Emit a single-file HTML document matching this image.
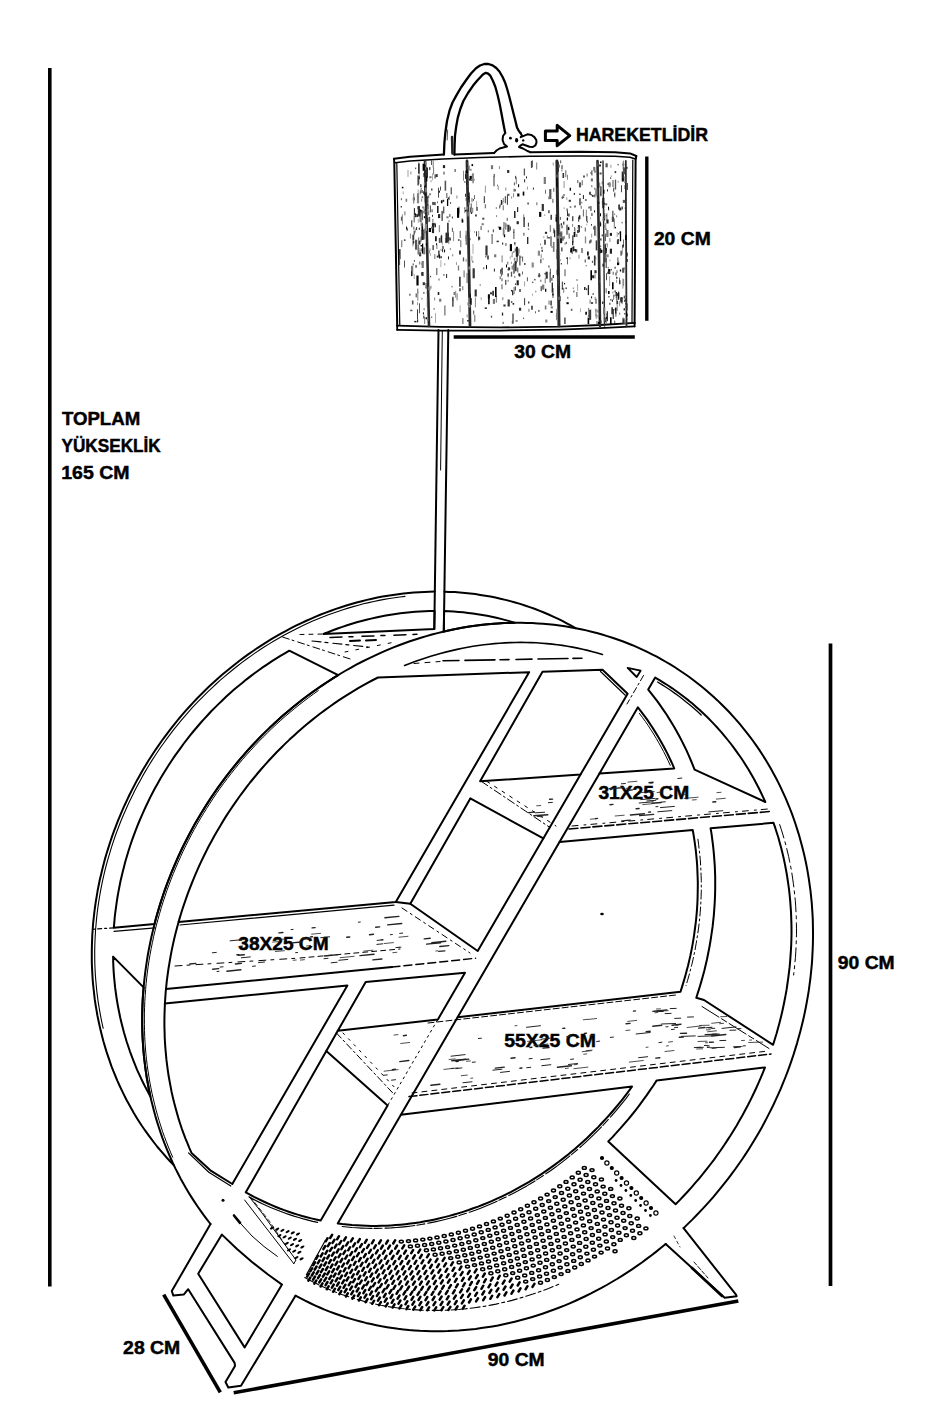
<!DOCTYPE html><html><head><meta charset="utf-8"><style>html,body{margin:0;padding:0;background:#fff}svg{display:block}</style></head><body><svg width="934" height="1403" viewBox="0 0 934 1403" font-family="Liberation Sans, sans-serif" font-weight="bold" fill="#000">
<path d="M49.8 68 L49.8 1286.5" fill="none" stroke="#000" stroke-width="3.6" stroke-linejoin="round" stroke-linecap="butt"/>
<path d="M830.5 643.5 L830.5 1286" fill="none" stroke="#000" stroke-width="3.7" stroke-linejoin="round" stroke-linecap="butt"/>
<path d="M646.8 156.5 L646.8 320.8" fill="none" stroke="#000" stroke-width="3.4" stroke-linejoin="round" stroke-linecap="butt"/>
<path d="M453.7 337 L634.8 337" fill="none" stroke="#000" stroke-width="3.4" stroke-linejoin="round" stroke-linecap="butt"/>
<path d="M163.7 1294.6 L220.3 1392.3" fill="none" stroke="#000" stroke-width="3.6" stroke-linejoin="round" stroke-linecap="butt"/>
<path d="M233.7 1392.8 L738.3 1301" fill="none" stroke="#000" stroke-width="3.6" stroke-linejoin="round" stroke-linecap="butt"/>
<text stroke="#000" stroke-width="0.45" x="61.9" y="425" textLength="78.3" lengthAdjust="spacingAndGlyphs" font-size="18">TOPLAM</text>
<text stroke="#000" stroke-width="0.45" x="61.5" y="452" textLength="99.2" lengthAdjust="spacingAndGlyphs" font-size="18">YÜKSEKLİK</text>
<text stroke="#000" stroke-width="0.45" x="61.2" y="479" textLength="68.3" lengthAdjust="spacingAndGlyphs" font-size="18">165 CM</text>
<text stroke="#000" stroke-width="0.45" x="575.9" y="141" textLength="132.1" lengthAdjust="spacingAndGlyphs" font-size="18">HAREKETLİDİR</text>
<text stroke="#000" stroke-width="0.45" x="653.9" y="245" textLength="56.8" lengthAdjust="spacingAndGlyphs" font-size="18">20 CM</text>
<text stroke="#000" stroke-width="0.45" x="514.2" y="358" textLength="56.8" lengthAdjust="spacingAndGlyphs" font-size="18">30 CM</text>
<text stroke="#000" stroke-width="0.45" x="598.4" y="799" textLength="90.8" lengthAdjust="spacingAndGlyphs" font-size="18">31X25 CM</text>
<text stroke="#000" stroke-width="0.45" x="238.3" y="950" textLength="90.3" lengthAdjust="spacingAndGlyphs" font-size="18">38X25 CM</text>
<text stroke="#000" stroke-width="0.45" x="504.2" y="1047" textLength="91.7" lengthAdjust="spacingAndGlyphs" font-size="18">55X25 CM</text>
<text stroke="#000" stroke-width="0.45" x="837.8" y="969" textLength="56.9" lengthAdjust="spacingAndGlyphs" font-size="18">90 CM</text>
<text stroke="#000" stroke-width="0.45" x="123.1" y="1354" textLength="57.2" lengthAdjust="spacingAndGlyphs" font-size="18">28 CM</text>
<text stroke="#000" stroke-width="0.45" x="487.8" y="1366" textLength="56.9" lengthAdjust="spacingAndGlyphs" font-size="18">90 CM</text>
<path d="M683.6 1228.1 L687.9 1223.9 L692.3 1219.6 L696.5 1215.3 L700.7 1210.9 L704.9 1206.4 L709 1201.9 L713 1197.3 L716.9 1192.6 L720.8 1187.9 L724.6 1183.2 L728.4 1178.3 L732.1 1173.4 L735.7 1168.5 L739.2 1163.5 L742.7 1158.5 L746.1 1153.4 L749.4 1148.2 L752.6 1143 L755.8 1137.8 L758.9 1132.5 L761.9 1127.2 L764.8 1121.8 L767.6 1116.4 L770.4 1110.9 L773.1 1105.5 L775.7 1099.9 L778.2 1094.4 L780.7 1088.8 L783 1083.2 L785.3 1077.5 L787.5 1071.9 L789.6 1066.2 L791.6 1060.4 L793.5 1054.7 L795.3 1048.9 L797.1 1043.1 L798.7 1037.3 L800.3 1031.5 L801.8 1025.6 L803.2 1019.8 L804.5 1013.9 L805.7 1008 L806.8 1002.1 L807.8 996.3 L808.8 990.4 L809.6 984.4 L810.4 978.5 L811 972.6 L811.6 966.7 L812.1 960.8 L812.4 954.9 L812.7 949 L812.9 943.2 L813 937.3 L813 931.4 L812.9 925.6 L812.8 919.7 L812.5 913.9 L812.1 908.1 L811.7 902.3 L811.1 896.6 L810.5 890.8 L809.7 885.1 L808.9 879.4 L808 873.8 L807 868.1 L805.9 862.5 L804.7 857 L803.4 851.4 L802 845.9 L800.5 840.5 L799 835 L797.3 829.6 L795.6 824.3 L793.8 819 L791.9 813.7 L789.9 808.5 L787.8 803.3 L785.6 798.2 L783.3 793.1 L781 788.1 L778.6 783.1 L776.1 778.2 L773.5 773.4 L770.8 768.6 L768 763.8 L765.2 759.1 L762.3 754.5 L759.3 749.9 L756.2 745.4 L753.1 741 L749.8 736.6 L746.5 732.3 L743.1 728.1 L739.7 723.9 L736.2 719.8 L732.6 715.8 L728.9 711.8 L725.2 708 L721.4 704.2 L717.5 700.4 L713.5 696.8 L709.5 693.2 L705.5 689.7 L701.3 686.3 L697.1 683 L692.9 679.7 L688.6 676.5 L684.2 673.5 L679.7 670.5 L675.3 667.5 L670.7 664.7 L666.1 662 L661.5 659.3 L656.8 656.7 L652 654.3 L647.2 651.9 L642.4 649.6 L637.5 647.4 L632.5 645.2 L627.6 643.2 L622.5 641.3 L617.5 639.5 L612.4 637.7 L607.2 636.1 L602.1 634.5 L596.8 633 L591.6 631.7 L586.3 630.4 L581 629.2 L575.7 628.2 L570.3 627.2 L564.9 626.3 L559.5 625.5 L554.1 624.8 L548.6 624.2 L543.2 623.7 L537.7 623.4 L532.2 623.1 L526.6 622.9 L521.1 622.8 L515.6 622.8 L510 622.9 L504.4 623.1 L498.8 623.4 L493.3 623.7 L487.7 624.2 L482.1 624.8 L476.5 625.5 L470.9 626.3 L465.3 627.2 L459.7 628.2 L454.2 629.2 L448.6 630.4 L443 631.7 L437.5 633.1 L431.9 634.5 L426.4 636.1 L420.9 637.7 L415.4 639.5 L409.9 641.3 L404.4 643.2 L399 645.3 L393.5 647.4 L388.1 649.6 L382.8 651.9 L377.4 654.3 L372.1 656.8 L366.8 659.3 L361.5 662 L356.3 664.7 L351.1 667.6 L345.9 670.5 L340.8 673.5 L335.7 676.6 L330.7 679.8 L325.7 683 L320.7 686.3 L315.8 689.8 L310.9 693.3 L306.1 696.8 L301.3 700.5 L296.6 704.2 L291.9 708 L287.3 711.9 L282.7 715.8 L278.2 719.9 L273.7 724 L269.3 728.1 L264.9 732.4 L260.6 736.7 L256.4 741.1 L252.2 745.5 L248.1 750 L244.1 754.6 L240.1 759.2 L236.2 763.9 L232.3 768.6 L228.6 773.4 L224.8 778.3 L221.2 783.2 L217.6 788.2 L214.1 793.2 L210.7 798.3 L207.4 803.4 L204.1 808.6 L200.9 813.8 L197.8 819 L194.7 824.3 L191.8 829.7 L188.9 835.1 L186.1 840.5 L183.3 846 L180.7 851.5 L178.1 857 L175.7 862.6 L173.3 868.2 L171 873.8 L168.7 879.5 L166.6 885.2 L164.5 890.9 L162.6 896.7 L160.7 902.4 L158.9 908.2 L157.2 914 L155.6 919.8 L154.1 925.7 L152.7 931.5 L151.3 937.4 L150.1 943.2 L148.9 949.1 L147.8 955 L146.9 960.9 L146 966.8 L145.2 972.7 L144.5 978.6 L143.9 984.5 L143.4 990.4 L142.9 996.3 L142.6 1002.2 L142.4 1008.1 L142.2 1014 L142.2 1019.8 L142.2 1025.7 L142.4 1031.5 L142.6 1037.4 L142.9 1043.2 L143.3 1049 L143.8 1054.7 L144.4 1060.5 L145.1 1066.2 L145.9 1071.9 L146.8 1077.6 L147.8 1083.2 L148.8 1088.9 L150 1094.5 L151.2 1100 L152.6 1105.5 L154 1111 L155.5 1116.5 L157.1 1121.9 L158.8 1127.2 L160.6 1132.6 L162.4 1137.8 L164.4 1143.1 L166.5 1148.3 L168.6 1153.4 L170.8 1158.5 L173.1 1163.6 L175.5 1168.6 L178 1173.5 L180.5 1178.4 L183.2 1183.2 L185.9 1188 L188.7 1192.7 L191.6 1197.4 L194.5 1201.9 L197.6 1206.5 L200.7 1210.9 L203.9 1215.3 L207.1 1219.7 L210.5 1224" fill="none" stroke="#000" stroke-width="2" stroke-linejoin="round" stroke-linecap="round"/>
<path d="M295.5 1295.7 L300.3 1298.2 L305.1 1300.7 L309.9 1303 L314.8 1305.3 L319.7 1307.5 L324.6 1309.6 L329.6 1311.6 L334.7 1313.5 L339.8 1315.3 L344.9 1317 L350.1 1318.6 L355.3 1320.1 L360.5 1321.5 L365.8 1322.9 L371.1 1324.1 L376.4 1325.2 L381.7 1326.3 L387.1 1327.2 L392.5 1328 L398 1328.8 L403.4 1329.4 L408.9 1330 L414.4 1330.4 L419.9 1330.8 L425.4 1331 L431 1331.2 L436.5 1331.2 L442.1 1331.2 L447.7 1331.1 L453.2 1330.8 L458.8 1330.5 L464.4 1330 L470 1329.5 L475.6 1328.9 L481.2 1328.1 L486.8 1327.3 L492.4 1326.4 L498 1325.4 L503.6 1324.2 L509.2 1323 L514.8 1321.7 L520.3 1320.3 L525.9 1318.8 L531.4 1317.2 L536.9 1315.5 L542.4 1313.7 L547.9 1311.8 L553.4 1309.8 L558.8 1307.7 L564.3 1305.6 L569.7 1303.3 L575 1301 L580.4 1298.5 L585.7 1296 L591 1293.4 L596.2 1290.7 L601.5 1287.9 L606.7 1285 L611.8 1282 L616.9 1279 L622 1275.8 L627 1272.6 L632 1269.3 L637 1265.9 L641.9 1262.5 L646.7 1258.9 L651.6 1255.3 L656.3 1251.6 L661 1247.8 L665.7 1244" fill="none" stroke="#000" stroke-width="2" stroke-linejoin="round" stroke-linecap="round"/>
<path d="M575.6 628.1 L571.2 625.7 L566.8 623.3 L562.3 620.9 L557.7 618.7 L553.2 616.6 L548.6 614.5 L543.9 612.5 L539.2 610.6 L534.5 608.8 L529.7 607.1 L524.9 605.5 L520.1 603.9 L515.2 602.5 L510.3 601.1 L505.4 599.9 L500.4 598.7 L495.4 597.6 L490.4 596.6 L485.4 595.7 L480.3 594.9 L475.3 594.1 L470.2 593.5 L465 593 L459.9 592.5 L454.7 592.1 L449.6 591.9 L444.4 591.7" fill="none" stroke="#000" stroke-width="2" stroke-linejoin="round" stroke-linecap="round"/>
<path d="M434.8 591.6 L429.6 591.7 L424.4 591.9 L419.2 592.2 L413.9 592.5 L408.7 593 L403.5 593.5 L398.3 594.2 L393 594.9 L387.8 595.7 L382.6 596.6 L377.4 597.6 L372.1 598.7 L366.9 599.9 L361.8 601.2 L356.6 602.5 L351.4 604 L346.3 605.5 L341.1 607.2 L336 608.9 L330.9 610.7 L325.8 612.6 L320.8 614.5 L315.7 616.6 L310.7 618.8 L305.8 621 L300.8 623.3 L295.9 625.7 L291 628.2 L286.1 630.8 L281.3 633.4 L276.5 636.1 L271.7 638.9 L267 641.8 L262.3 644.8 L257.7 647.8 L253.1 651 L248.5 654.1 L244 657.4 L239.5 660.8 L235.1 664.2 L230.7 667.7 L226.4 671.2 L222.1 674.8 L217.9 678.5 L213.7 682.3 L209.6 686.1 L205.5 690 L201.5 694 L197.5 698 L193.6 702.1 L189.8 706.2 L186 710.4 L182.3 714.7 L178.6 719 L175.1 723.4 L171.5 727.8 L168.1 732.3 L164.7 736.9 L161.3 741.5 L158.1 746.1 L154.9 750.8 L151.8 755.5 L148.7 760.3 L145.7 765.2 L142.8 770 L140 774.9 L137.2 779.9 L134.6 784.9 L132 789.9 L129.4 795 L127 800.1 L124.6 805.2 L122.3 810.4 L120.1 815.6 L117.9 820.8 L115.9 826.1 L113.9 831.4 L112 836.7 L110.2 842 L108.5 847.4 L106.8 852.7 L105.2 858.1 L103.8 863.5 L102.4 869 L101.1 874.4 L99.8 879.8 L98.7 885.3 L97.6 890.8 L96.7 896.3 L95.8 901.7 L95 907.2 L94.3 912.7 L93.7 918.2 L93.1 923.7 L92.7 929.2 L92.3 934.7 L92.1 940.2 L91.9 945.7 L91.8 951.1 L91.8 956.6 L91.8 962 L92 967.4 L92.3 972.9 L92.6 978.3 L93 983.6 L93.6 989 L94.2 994.3 L94.8 999.7 L95.6 1005 L96.5 1010.2 L97.4 1015.5 L98.5 1020.7 L99.6 1025.9 L100.8 1031.1 L102.1 1036.2 L103.4 1041.3 L104.9 1046.4 L106.4 1051.4 L108.1 1056.4 L109.8 1061.4 L111.5 1066.3 L113.4 1071.2 L115.4 1076 L117.4 1080.8 L119.5 1085.5 L121.7 1090.2 L124 1094.9 L126.3 1099.5 L128.8 1104 L131.3 1108.5 L133.8 1113 L136.5 1117.4 L139.2 1121.7 L142 1126 L144.9 1130.2 L147.9 1134.3 L150.9 1138.4 L154 1142.5 L157.1 1146.5 L160.4 1150.4 L163.7 1154.2 L167 1158 L170.5 1161.7 L174 1165.4" fill="none" stroke="#000" stroke-width="2" stroke-linejoin="round" stroke-linecap="round"/>
<path d="M405 596.4 L399.8 597 L394.6 597.7 L389.4 598.5 L384.2 599.4 L379 600.4 L373.8 601.5 L368.7 602.6 L363.5 603.8 L358.4 605.2 L353.2 606.6 L348.1 608.1 L343 609.7 L337.9 611.4 L332.8 613.2 L327.8 615 L322.7 617 L317.7 619 L312.7 621.1 L307.8 623.3 L302.9 625.6 L298 628 L293.1 630.4 L288.2 633 L283.4 635.6 L278.7 638.3 L273.9 641 L269.2 643.9 L264.5 646.8 L259.9 649.8 L255.3 652.9 L250.8 656.1 L246.3 659.3 L241.8 662.6 L237.4 666 L233.1 669.5 L228.8 673 L224.5 676.6 L220.3 680.2 L216.1 684 L212 687.8 L208 691.6 L204 695.6 L200 699.6 L196.1 703.6 L192.3 707.7 L188.6 711.9 L184.9 716.1 L181.2 720.4 L177.6 724.8 L174.1 729.2 L170.7 733.6 L167.3 738.1 L164 742.7 L160.7 747.3 L157.5 752 L154.4 756.7 L151.4 761.4 L148.4 766.2 L145.5 771.1 L142.7 775.9 L140 780.9 L137.3 785.8 L134.7 790.8 L132.2 795.9 L129.7 800.9 L127.4 806 L125.1 811.2 L122.9 816.3 L120.7 821.5 L118.7 826.8 L116.7 832 L114.8 837.3 L113 842.6 L111.3 847.9 L109.7 853.3 L108.1 858.6 L106.6 864 L105.2 869.4 L103.9 874.8 L102.7 880.2 L101.6 885.6 L100.5 891.1 L99.6 896.5 L98.7 902 L97.9 907.4 L97.2 912.9 L96.6 918.4 L96.1 923.8 L95.6 929.3 L95.3 934.7 L95 940.2 L94.8 945.8 L94.7 951.4 L94.7 957.1 L94.8 962.6 L95 968.2 L95.3 973.8 L95.7 979.3 L96.2 984.9 L96.7 990.4 L97.4 995.9 L98.1 1001.3 L99 1006.8 L99.9 1012.2 L100.9 1017.6 L102 1023 L103.2 1028.3" fill="none" stroke="#000" stroke-width="1.1" stroke-linejoin="round" stroke-linecap="round"/>
<path d="M318.3 690.6 L313.5 694 L308.6 697.6 L303.9 701.2 L299.1 704.9 L294.4 708.7 L289.8 712.5 L285.2 716.4 L280.7 720.4 L276.2 724.5 L271.8 728.6 L267.5 732.8 L263.2 737.1 L258.9 741.4 L254.8 745.8 L250.7 750.3 L246.6 754.8 L242.6 759.4 L238.7 764.1 L234.9 768.8 L231.1 773.6 L227.4 778.4 L223.7 783.3 L220.1 788.2 L216.6 793.2 L213.2 798.3 L209.9 803.4 L206.6 808.5 L203.4 813.7 L200.2 818.9 L197.2 824.2 L194.2 829.5 L191.3 834.9 L188.5 840.3 L185.8 845.7 L183.1 851.2 L180.6 856.7 L178.1 862.3 L175.7 867.9 L173.4 873.5 L171.1 879.1 L169 884.8 L166.9 890.5 L165 896.2 L163.1 901.9 L161.3 907.7 L159.6 913.5 L158 919.3 L156.4 925.1 L155 930.9 L153.6 936.7 L152.4 942.6 L151.2 948.4 L150.1 954.3 L149.1 960.2 L148.2 966.1 L147.4 972 L146.7 977.8 L146.1 983.7 L145.6 989.6 L145.2 995.5 L144.8 1001.4 L144.6 1007.2 L144.4 1013.1 L144.4 1018.9 L144.4 1024.8 L144.5 1030.6 L144.7 1036.4 L145 1042.2 L145.4 1048 L145.9 1053.7 L146.5 1059.4 L147.2 1065.2 L148 1070.8 L148.9 1076.5 L149.8 1082.1 L150.9 1087.7 L152 1093.3 L153.3 1098.8 L154.6 1104.3 L156 1109.8 L157.5 1115.2 L159.1 1120.6 L160.8 1126 L162.5 1131.3 L164.4 1136.6 L166.4 1141.8 L168.4 1147 L170.5 1152.1 L172.7 1157.2" fill="none" stroke="#000" stroke-width="1" stroke-linejoin="round" stroke-linecap="round"/>
<path d="M438.5 330 L434.3 629" fill="none" stroke="#000" stroke-width="2" stroke-linejoin="round" stroke-linecap="round"/>
<path d="M448.3 330 L443.8 631.5" fill="none" stroke="#000" stroke-width="2" stroke-linejoin="round" stroke-linecap="round"/>
<path d="M442.3 331 L440.6 470" fill="none" stroke="#000" stroke-width="1" stroke-linejoin="round" stroke-linecap="round"/>
<path d="M323.4 634 L328.1 632.1 L332.9 630.3 L337.6 628.5 L342.4 626.9 L347.1 625.3 L351.9 623.8 L356.7 622.3 L361.6 621 L366.4 619.7 L371.2 618.6 L376.1 617.5 L380.9 616.5 L385.8 615.6 L390.7 614.7 L395.6 614 L400.4 613.3 L405.3 612.7 L410.2 612.2 L415.1 611.8 L420 611.5 L424.8 611.2 L429.7 611.1 L434.6 611 L434.3 629 Z" fill="none" stroke="#000" stroke-width="2" stroke-linejoin="round" stroke-linecap="round"/>
<path d="M444.1 611.1 L448.9 611.3 L453.8 611.6 L458.6 611.9 L463.4 612.3 L468.1 612.9 L472.9 613.5 L477.6 614.2 L482.4 615 L487.1 615.8 L491.7 616.8 L496.4 617.8 L501 618.9 L505.6 620.1 L510.2 621.4 L514.7 622.8 L508.9 622.9 L503 623.1 L497 623.5 L491.1 623.9 L485.2 624.5 L479.3 625.2 L473.4 625.9 L467.4 626.8 L461.5 627.8 L455.6 629 L449.7 630.2 L443.8 631.5 Z" fill="none" stroke="#000" stroke-width="2" stroke-linejoin="round" stroke-linecap="round"/>
<path d="M289.3 650.7 L284.8 653.3 L280.4 655.9 L276 658.6 L271.6 661.4 L267.3 664.3 L263 667.2 L258.7 670.2 L254.5 673.3 L250.4 676.4 L246.2 679.6 L242.2 682.9 L238.1 686.2 L234.1 689.6 L230.2 693.1 L226.3 696.6 L222.5 700.2 L218.7 703.9 L214.9 707.6 L211.2 711.3 L207.6 715.2 L204 719.1 L200.5 723 L197.1 727 L193.7 731 L190.3 735.2 L187 739.3 L183.8 743.5 L180.7 747.8 L177.6 752.1 L174.5 756.4 L171.6 760.8 L168.6 765.3 L165.8 769.7 L163 774.3 L160.3 778.8 L157.7 783.4 L155.1 788.1 L152.6 792.7 L150.2 797.4 L147.9 802.2 L145.6 807 L143.4 811.8 L141.3 816.6 L139.2 821.5 L137.2 826.4 L135.3 831.3 L133.5 836.2 L131.7 841.2 L130 846.2 L128.4 851.2 L126.9 856.2 L125.4 861.3 L124.1 866.4 L122.8 871.4 L121.6 876.5 L120.4 881.6 L119.4 886.7 L118.4 891.9 L117.5 897 L116.7 902.1 L116 907.3 L115.3 912.4 L114.7 917.5 L114.3 922.7 L113.8 927.8 L154.5 924.1 L156 918.3 L157.7 912.4 L159.4 906.6 L161.2 900.8 L163.1 895 L165.1 889.3 L167.2 883.5 L169.4 877.8 L171.6 872.1 L174 866.5 L176.4 860.9 L178.9 855.3 L181.5 849.7 L184.2 844.2 L187 838.7 L189.8 833.3 L192.7 827.9 L195.7 822.5 L198.8 817.2 L202 812 L205.2 806.7 L208.5 801.6 L211.9 796.4 L215.4 791.4 L218.9 786.3 L222.6 781.4 L226.2 776.4 L230 771.6 L233.8 766.8 L237.7 762 L241.7 757.4 L245.7 752.7 L249.8 748.2 L253.9 743.7 L258.1 739.2 L262.4 734.9 L266.8 730.6 L271.2 726.4 L275.6 722.2 L280.1 718.1 L284.7 714.1 L289.3 710.2 L294 706.3 L298.7 702.5 L303.5 698.8 L308.3 695.2 L313.2 691.6 L318.1 688.2 L323.1 684.8 L328.1 681.5 L333.1 678.2 L338.2 675.1 Z" fill="none" stroke="#000" stroke-width="2" stroke-linejoin="round" stroke-linecap="round"/>
<path d="M113.1 956.6 L113.2 961.8 L113.4 966.9 L113.7 972.1 L114.1 977.2 L114.6 982.3 L115.1 987.4 L115.8 992.5 L116.5 997.5 L117.3 1002.5 L118.2 1007.5 L119.2 1012.5 L120.2 1017.5 L121.4 1022.4 L122.6 1027.3 L123.9 1032.2 L125.3 1037 L126.7 1041.8 L128.3 1046.5 L129.9 1051.3 L131.6 1055.9 L133.4 1060.6 L135.2 1065.2 L137.1 1069.8 L139.2 1074.3 L141.2 1078.7 L143.4 1083.2 L145.6 1087.6 L148 1091.9 L150.3 1096.2 L149.1 1090.3 L148 1084.5 L146.9 1078.6 L146 1072.6 L145.2 1066.7 L144.5 1060.7 L143.8 1054.7 L143.3 1048.7 L142.9 1042.6 L142.5 1036.5 L142.3 1030.4 L142.2 1024.3 L142.2 1018.2 L142.3 1012.1 L142.4 1005.9 L142.7 999.8 L143.1 993.6 L143.6 987.4 Z" fill="none" stroke="#000" stroke-width="2" stroke-linejoin="round" stroke-linecap="round"/>
<path d="M378 677.5 L373 680 L368.1 682.7 L363.1 685.4 L358.2 688.2 L353.4 691.1 L348.5 694.1 L343.7 697.1 L339 700.2 L334.3 703.4 L329.6 706.7 L324.9 710.1 L320.3 713.5 L315.8 717 L311.3 720.6 L306.8 724.3 L302.4 728 L298.1 731.8 L293.8 735.7 L289.5 739.6 L285.3 743.6 L281.2 747.7 L277.1 751.8 L273.1 756 L269.1 760.3 L265.2 764.6 L261.3 769 L257.5 773.5 L253.8 778 L250.1 782.5 L246.5 787.1 L243 791.8 L239.5 796.5 L236.1 801.3 L232.8 806.1 L229.5 811 L226.3 815.9 L223.2 820.9 L220.2 825.9 L217.2 830.9 L214.3 836 L211.5 841.2 L208.7 846.3 L206.1 851.5 L203.5 856.8 L200.9 862.1 L198.5 867.4 L196.2 872.7 L193.9 878.1 L191.7 883.5 L189.6 888.9 L187.5 894.3 L185.6 899.8 L183.7 905.3 L181.9 910.8 L180.2 916.4 L178.6 921.9 L395.8 902.1 L529.1 672.2 Z" fill="none" stroke="#000" stroke-width="2" stroke-linejoin="round" stroke-linecap="round"/>
<path d="M542.5 671.8 L602.5 669.7 L627.6 693.8 L580.5 774.6 L480.1 781.3 Z" fill="none" stroke="#000" stroke-width="2" stroke-linejoin="round" stroke-linecap="round"/>
<path d="M600.5 671.5 L625.3 695.2" fill="none" stroke="#000" stroke-width="1.2" stroke-linejoin="round" stroke-linecap="round"/>
<path d="M637.9 707.3 L641 711.3 L644 715.3 L647 719.4 L649.8 723.6 L652.6 727.8 L655.3 732.1 L658 736.5 L660.6 740.9 L663 745.3 L665.4 749.8 L667.8 754.4 L670 759 L672.2 763.7 L674.2 768.4 L599.5 773.4 Z" fill="none" stroke="#000" stroke-width="2" stroke-linejoin="round" stroke-linecap="round"/>
<path d="M639.4 713.4 L642.4 717.4 L645.3 721.4 L648.2 725.6 L650.9 729.8 L653.6 734 L656.2 738.3 L658.7 742.7 L661.2 747.1 L663.6 751.6 L665.9 756.1 L668.1 760.7 L670.2 765.3" fill="none" stroke="#000" stroke-width="1" stroke-linejoin="round" stroke-linecap="round"/>
<path d="M655.2 677.6 L648.2 689.6 L651.4 693.6 L654.5 697.6 L657.6 701.7 L660.6 705.9 L663.5 710.1 L666.4 714.3 L669.1 718.6 L671.8 723 L674.5 727.5 L677 732 L679.5 736.5 L681.9 741.1 L684.2 745.7 L686.5 750.4 L688.6 755.2 L690.7 760 L692.7 764.8 L694.6 769.7 L765.3 802 L763.1 797.2 L760.9 792.5 L758.6 787.8 L756.2 783.2 L753.7 778.6 L751.1 774 L748.5 769.6 L745.8 765.2 L743 760.8 L740.1 756.5 L737.1 752.3 L734.1 748.1 L731 744 L727.8 740 L724.6 736.1 L721.3 732.2 L717.9 728.3 L714.5 724.6 L710.9 720.9 L707.4 717.3 L703.7 713.8 L700 710.3 L696.2 706.9 L692.4 703.6 L688.5 700.4 L684.5 697.3 L680.5 694.2 L676.4 691.2 L672.3 688.3 L668.1 685.5 L663.8 682.8 L659.5 680.1 L655.2 677.6 Z" fill="none" stroke="#000" stroke-width="2" stroke-linejoin="round" stroke-linecap="round"/>
<path d="M470.3 798.4 L543.3 838.4 L477.7 951 L410.3 903.7 Z" fill="none" stroke="#000" stroke-width="2" stroke-linejoin="round" stroke-linecap="round"/>
<path d="M559.5 842 L692.7 829.9 L693.6 835 L694.4 840.1 L695.1 845.2 L695.8 850.4 L696.3 855.5 L696.8 860.7 L697.2 865.9 L697.4 871.1 L697.6 876.3 L697.8 881.6 L697.8 886.8 L697.7 892.1 L697.6 897.4 L697.4 902.6 L697.1 907.9 L696.7 913.2 L696.2 918.5 L695.6 923.8 L694.9 929 L694.2 934.3 L693.4 939.6 L692.5 944.9 L691.5 950.1 L690.4 955.4 L689.2 960.6 L688 965.8 L686.6 971 L685.2 976.2 L683.7 981.4 L682.1 986.6 L680.5 991.7 L457.6 1017.2 Z" fill="none" stroke="#000" stroke-width="2" stroke-linejoin="round" stroke-linecap="round"/>
<path d="M697.9 839.2 L698.6 844.3 L699.2 849.5 L699.8 854.6 L700.3 859.8 L700.6 865 L700.9 870.2 L701.1 875.4 L701.3 880.6 L701.3 885.9 L701.3 891.1 L701.1 896.4 L700.9 901.6 L700.6 906.9 L700.2 912.2 L699.8 917.4 L699.2 922.7 L698.6 928 L697.8 933.3 L697 938.5 L696.1 943.8 L695.2 949 L694.1 954.3 L693 959.5 L691.8 964.7 L690.4 970 L689.1 975.1 L687.6 980.3 L686 985.5" fill="none" stroke="#000" stroke-width="1" stroke-linejoin="round" stroke-linecap="round" stroke-dasharray="9 3 2 3"/>
<ellipse cx="602" cy="914" rx="1.8" ry="1.3" fill="#000"/>
<path d="M710.6 828.3 L773.5 822.8 L775.2 827.7 L776.8 832.7 L778.4 837.8 L779.8 842.9 L781.2 848 L782.5 853.2 L783.7 858.4 L784.8 863.6 L785.8 868.9 L786.8 874.2 L787.6 879.5 L788.4 884.8 L789.1 890.2 L789.7 895.6 L790.2 901 L790.6 906.4 L791 911.9 L791.2 917.4 L791.4 922.9 L791.5 928.4 L791.5 933.9 L791.4 939.4 L791.2 945 L790.9 950.5 L790.5 956.1 L790.1 961.7 L789.6 967.2 L788.9 972.8 L788.2 978.4 L787.4 984 L786.6 989.5 L785.6 995.1 L784.5 1000.7 L783.4 1006.2 L782.2 1011.8 L780.9 1017.3 L779.5 1022.8 L778 1028.3 L776.5 1033.8 L774.8 1039.3 L773.1 1044.8 L704 1000 L696.3 997.8 L698 992.4 L699.7 987 L701.3 981.6 L702.8 976.2 L704.3 970.7 L705.6 965.2 L706.9 959.8 L708 954.3 L709.1 948.8 L710.1 943.3 L711 937.7 L711.8 932.2 L712.6 926.7 L713.2 921.1 L713.8 915.6 L714.2 910.1 L714.6 904.6 L714.9 899 L715.1 893.5 L715.2 888 L715.2 882.5 L715.2 877 L715 871.5 L714.8 866.1 L714.4 860.6 L714 855.2 L713.5 849.8 L712.9 844.4 L712.2 839 L711.5 833.7 L710.6 828.3 Z" fill="none" stroke="#000" stroke-width="2" stroke-linejoin="round" stroke-linecap="round"/>
<path d="M779.7 824.6 L781.4 829.8 L783 835 L784.5 840.3 L786 845.6 L787.3 851 L788.6 856.4 L789.7 861.8 L790.8 867.2 L791.8 872.7 L792.6 878.2 L793.4 883.8 L794.1 889.3 L794.7 894.9 L795.3 900.6 L795.7 906.2 L796 911.9 L796.3 917.5 L796.4 923.2 L796.5 928.9 L796.5 934.7 L796.3 940.4 L796.1 946.2 L795.8 951.9 L795.4 957.7 L794.9 963.4 L794.3 969.2 L793.6 975" fill="none" stroke="#000" stroke-width="1" stroke-linejoin="round" stroke-linecap="round" stroke-dasharray="14 4 3 4"/>
<path d="M164.9 1003.5 L347.4 985.5 L232.3 1184 L210.3 1170.3 L191.5 1152.9 L189.4 1148.1 L187.4 1143.2 L185.4 1138.3 L183.5 1133.3 L181.7 1128.3 L180 1123.2 L178.4 1118.1 L176.9 1112.9 L175.5 1107.7 L174.1 1102.5 L172.8 1097.2 L171.6 1091.9 L170.6 1086.6 L169.6 1081.2 L168.6 1075.8 L167.8 1070.4 L167.1 1064.9 L166.4 1059.4 L165.9 1053.9 L165.4 1048.4 L165 1042.8 L164.7 1037.3 L164.6 1031.7 L164.4 1026.1 L164.4 1020.5 L164.5 1014.8 L164.7 1009.2 L164.9 1003.5 Z" fill="none" stroke="#000" stroke-width="2" stroke-linejoin="round" stroke-linecap="round"/>
<path d="M230.8 1186 L208.8 1172.3 L188.5 1152.9" fill="none" stroke="#000" stroke-width="1.2" stroke-linejoin="round" stroke-linecap="round"/>
<path d="M365.7 982 L465 972.8 L437.9 1019.4 L337.8 1030.8 Z" fill="none" stroke="#000" stroke-width="2" stroke-linejoin="round" stroke-linecap="round"/>
<path d="M326.3 1051 L387.6 1105.6 L320.7 1220.5 L316.1 1219.5 L311.4 1218.4 L306.8 1217.2 L302.2 1216 L297.7 1214.6 L293.2 1213.2 L288.7 1211.7 L284.2 1210.1 L279.8 1208.5 L275.4 1206.7 L271.1 1204.9 L266.8 1203 L262.5 1201 L258.2 1198.9 L254 1196.8 L249.9 1194.6 L245.8 1192.3 Z" fill="none" stroke="#000" stroke-width="2" stroke-linejoin="round" stroke-linecap="round"/>
<path d="M317.6 1222.4 L312.8 1221.3 L308.1 1220.1 L303.3 1218.9 L298.7 1217.5 L294 1216.1 L289.4 1214.6 L284.8 1213 L280.2 1211.3 L275.7 1209.5 L271.2 1207.7 L266.7 1205.8 L262.3 1203.7 L258 1201.6 L253.6 1199.4 L249.3 1197.2" fill="none" stroke="#000" stroke-width="1.2" stroke-linejoin="round" stroke-linecap="round"/>
<path d="M400.9 1114.7 L632 1086.6 L628.9 1090.9 L625.7 1095.1 L622.5 1099.3 L619.2 1103.4 L615.8 1107.5 L612.4 1111.5 L608.9 1115.5 L605.3 1119.4 L601.7 1123.3 L598.1 1127.1 L594.4 1130.8 L590.6 1134.5 L586.8 1138.2 L583 1141.7 L579 1145.2 L575.1 1148.7 L571.1 1152 L567 1155.4 L562.9 1158.6 L558.8 1161.8 L554.6 1164.9 L550.4 1167.9 L546.1 1170.9 L541.8 1173.8 L537.5 1176.6 L533.1 1179.4 L528.7 1182.1 L524.2 1184.7 L519.7 1187.2 L515.2 1189.7 L510.7 1192.1 L506.1 1194.4 L501.5 1196.6 L496.9 1198.7 L492.2 1200.8 L487.5 1202.8 L482.8 1204.7 L478.1 1206.6 L473.3 1208.3 L468.6 1210 L463.8 1211.6 L459 1213.1 L454.2 1214.5 L449.4 1215.9 L444.5 1217.1 L439.7 1218.3 L434.8 1219.4 L429.9 1220.4 L425.1 1221.3 L420.2 1222.2 L415.3 1222.9 L410.4 1223.6 L405.5 1224.2 L400.6 1224.7 L395.7 1225.1 L390.9 1225.4 L386 1225.7 L381.1 1225.8 L376.2 1225.9 L371.4 1225.9 L366.5 1225.8 L361.7 1225.6 L356.8 1225.3 L352 1225 L347.2 1224.5 L342.4 1224 L337.7 1223.4 Z" fill="none" stroke="#000" stroke-width="2" stroke-linejoin="round" stroke-linecap="round"/>
<path d="M629.3 1094 L626.1 1098.3 L622.7 1102.6 L619.4 1106.7 L615.9 1110.9 L612.4 1114.9 L608.8 1119 L605.2 1122.9 L601.5 1126.8 L597.8 1130.6 L594 1134.4 L590.1 1138.1 L586.2 1141.8 L582.3 1145.4 L578.3 1148.9 L574.2 1152.4 L570.1 1155.8 L566 1159.1 L561.8 1162.4 L557.6 1165.6 L553.3 1168.7 L549 1171.7 L544.6 1174.7 L540.2 1177.6 L535.8 1180.4 L531.3 1183.2 L526.8 1185.9 L522.2 1188.5 L517.7 1191 L513 1193.4 L508.4 1195.8 L503.7 1198.1 L499 1200.3 L494.3 1202.5 L489.6 1204.5 L484.8 1206.5 L480 1208.4 L475.2 1210.2 L470.3 1211.9 L465.5 1213.5 L460.6 1215.1 L455.7 1216.6 L450.8 1218 L445.9 1219.3 L440.9 1220.5 L436 1221.6 L431.1 1222.6 L426.1 1223.6 L421.1 1224.5 L416.2 1225.3 L411.2 1226 L406.2 1226.6 L401.3 1227.1 L396.3 1227.5 L391.3 1227.9 L386.4 1228.1 L381.4 1228.3 L376.5 1228.4 L371.5 1228.4 L366.6 1228.3 L361.7 1228.1 L356.7 1227.8 L351.9 1227.5 L347 1227 L342.1 1226.5" fill="none" stroke="#000" stroke-width="1.1" stroke-linejoin="round" stroke-linecap="round" stroke-dasharray="30 3 8 2"/>
<path d="M656.7 1080.4 L765 1067.4 L762.8 1072.8 L760.6 1078.2 L758.2 1083.6 L755.8 1089 L753.3 1094.3 L750.7 1099.6 L748.1 1104.8 L745.3 1110 L742.5 1115.2 L739.6 1120.3 L736.7 1125.4 L733.6 1130.5 L730.5 1135.5 L727.3 1140.4 L724.1 1145.3 L720.7 1150.2 L717.3 1155 L713.9 1159.8 L710.3 1164.5 L706.7 1169.1 L703.1 1173.7 L699.3 1178.3 L695.5 1182.7 L691.7 1187.2 L687.8 1191.5 L683.8 1195.8 L679.7 1200.1 L675.6 1204.2 L608.3 1141.4 L612.5 1137.1 L616.5 1132.7 L620.6 1128.2 L624.5 1123.7 L628.4 1119.2 L632.2 1114.5 L635.9 1109.8 L639.5 1105.1 L643.1 1100.2 L646.6 1095.4 L650 1090.4 L653.4 1085.5 L656.7 1080.4 Z" fill="none" stroke="#000" stroke-width="2" stroke-linejoin="round" stroke-linecap="round"/>
<circle cx="223" cy="1200.3" r="1.5" fill="#000"/>
<path d="M657.6 682 L661.8 684.6 L666 687.3 L670.2 690 L674.2 692.9 L678.3 695.8 L682.2 698.8 L686.1 701.9 L690 705 L693.8 708.3 L697.5 711.6 L701.2 715" fill="none" stroke="#000" stroke-width="1.3" stroke-linejoin="round" stroke-linecap="round"/>
<path d="M702 1006.5 L769 1048.5" fill="none" stroke="#000" stroke-width="1" stroke-linejoin="round" stroke-linecap="round" stroke-dasharray="20 3 6 3"/>
<path d="M178.6 921.9 L177 927.7 L175.5 933.5 L174.1 939.3 L172.8 945.1 L171.6 950.9 L170.5 956.8 L169.5 962.6 L168.5 968.5 L167.7 974.3 L166.9 980.2 L166.3 986 L165.7 991.9 L165.3 997.7 L164.9 1003.5" fill="none" stroke="#000" stroke-width="2" stroke-linejoin="round" stroke-linecap="round"/>
<path d="M580.5 774.6 L543.3 838.4" fill="none" stroke="#000" stroke-width="2" stroke-linejoin="round" stroke-linecap="round"/>
<path d="M599.5 773.4 L559.5 842" fill="none" stroke="#000" stroke-width="2" stroke-linejoin="round" stroke-linecap="round"/>
<path d="M437.5 1020 L387.6 1105.6" fill="none" stroke="#000" stroke-width="1" stroke-linejoin="round" stroke-linecap="round" stroke-dasharray="2 4"/>
<path d="M457.6 1017.2 L400.9 1114.7" fill="none" stroke="#000" stroke-width="2" stroke-linejoin="round" stroke-linecap="round"/>
<path d="M337.8 1030.8 L326.3 1051" fill="none" stroke="#000" stroke-width="2" stroke-linejoin="round" stroke-linecap="round"/>
<path d="M404.6 665.5 L409.8 663.5 L415 661.5 L420.2 659.7 L425.5 657.9 L430.7 656.3 L436 654.7 L441.2 653.2 L446.5 651.9 L451.8 650.6 L457.1 649.4 L462.4 648.3 L467.7 647.3 L473 646.3 L478.4 645.5 L483.7 644.8 L489 644.2 L494.3 643.6 L499.6 643.2 L504.9 642.9 L510.2 642.6 L515.5 642.5 L520.7 642.4 L526 642.5 L531.2 642.6 L536.5 642.8 L541.7 643.2 L546.9 643.6 L552.1 644.1 L557.2 644.7 L562.3 645.4 L567.4 646.2 L572.5 647.1 L577.6 648.1 L582.6 649.2 L587.6 650.4 L592.6 651.7 L597.5 653.1 L602.4 654.5" fill="none" stroke="#000" stroke-width="1.6" stroke-linejoin="round" stroke-linecap="round"/>
<path d="M443 660.8 L585 658.2" fill="none" stroke="#000" stroke-width="1.6" stroke-linejoin="round" stroke-linecap="round" stroke-dasharray="16 6 30 5 9 7"/>
<path d="M414 663.5 L440 661.5" fill="none" stroke="#000" stroke-width="1" stroke-linejoin="round" stroke-linecap="round" stroke-dasharray="5 6"/>
<path d="M627.6 667.8 L640.6 670.7 L636.7 677 Z" fill="none" stroke="#000" stroke-width="1.8" stroke-linejoin="round" stroke-linecap="round"/>
<path d="M643.5 675.5 L627 704" fill="none" stroke="#000" stroke-width="1" stroke-linejoin="round" stroke-linecap="round" stroke-dasharray="6 3 2 3"/>
<path d="M282.5 637 L352 659.6" fill="none" stroke="#000" stroke-width="1" stroke-linejoin="round" stroke-linecap="round" stroke-dasharray="7 3 2 4"/>
<path d="M300 634.5 L324 634" fill="none" stroke="#000" stroke-width="1" stroke-linejoin="round" stroke-linecap="round" stroke-dasharray="4 5"/>
<path d="M312 641 L368 647" fill="none" stroke="#000" stroke-width="1.2" stroke-linejoin="round" stroke-linecap="round" stroke-dasharray="9 4 3 5"/>
<path d="M330 637.5 L425 634" fill="none" stroke="#000" stroke-width="1.5" stroke-linejoin="round" stroke-linecap="round" stroke-dasharray="12 7 4 9"/>
<path d="M345 652 L395 642" fill="none" stroke="#000" stroke-width="1" stroke-linejoin="round" stroke-linecap="round" stroke-dasharray="3 8"/>
<path d="M350 641 L376 640" fill="none" stroke="#000" stroke-width="2" stroke-linejoin="round" stroke-linecap="round" stroke-dasharray="10 6"/>
<path d="M569 829 L771 811.4" fill="none" stroke="#000" stroke-width="1.6" stroke-linejoin="round" stroke-linecap="round" stroke-dasharray="9 3"/>
<path d="M572 826 L768 809" fill="none" stroke="#000" stroke-width="1" stroke-linejoin="round" stroke-linecap="round" stroke-dasharray="6 6 2 5"/>
<path d="M481 781.2 L550 827.5" fill="none" stroke="#000" stroke-width="1" stroke-linejoin="round" stroke-linecap="round" stroke-dasharray="8 3 2 3"/>
<path d="M487 781.5 L556 826" fill="none" stroke="#000" stroke-width="1" stroke-linejoin="round" stroke-linecap="round" stroke-dasharray="3 6"/>
<path d="M92.7 929.3 L113.8 927.8" fill="none" stroke="#000" stroke-width="1.2" stroke-linejoin="round" stroke-linecap="round" stroke-dasharray="2 3 4 3"/>
<path d="M114 931.3 L155 927.8" fill="none" stroke="#000" stroke-width="1.2" stroke-linejoin="round" stroke-linecap="round"/>
<path d="M180 925 L394 905.2" fill="none" stroke="#000" stroke-width="1.2" stroke-linejoin="round" stroke-linecap="round"/>
<path d="M166 989.1 L392 967" fill="none" stroke="#000" stroke-width="2" stroke-linejoin="round" stroke-linecap="round"/>
<path d="M392 967 L475.6 958.2" fill="none" stroke="#000" stroke-width="1.5" stroke-linejoin="round" stroke-linecap="round" stroke-dasharray="8 4"/>
<path d="M175 966 L300 958" fill="none" stroke="#000" stroke-width="1" stroke-linejoin="round" stroke-linecap="round" stroke-dasharray="7 5 3 6"/>
<path d="M300 958 L400 949" fill="none" stroke="#000" stroke-width="1" stroke-linejoin="round" stroke-linecap="round" stroke-dasharray="5 4"/>
<path d="M395.8 902.1 L410.3 903.7" fill="none" stroke="#000" stroke-width="2" stroke-linejoin="round" stroke-linecap="round"/>
<path d="M402 908 L470 953" fill="none" stroke="#000" stroke-width="1" stroke-linejoin="round" stroke-linecap="round" stroke-dasharray="6 4 2 4"/>
<path d="M409 1096.6 L771 1054" fill="none" stroke="#000" stroke-width="1.5" stroke-linejoin="round" stroke-linecap="round" stroke-dasharray="8 3"/>
<path d="M412 1093 L768 1051" fill="none" stroke="#000" stroke-width="1" stroke-linejoin="round" stroke-linecap="round" stroke-dasharray="5 5"/>
<path d="M336.4 1033 L392.8 1093" fill="none" stroke="#000" stroke-width="1" stroke-linejoin="round" stroke-linecap="round" stroke-dasharray="7 3 2 3"/>
<path d="M343 1033 L398 1091" fill="none" stroke="#000" stroke-width="1" stroke-linejoin="round" stroke-linecap="round" stroke-dasharray="2 6"/>
<path d="M428 1023 L676 995" fill="none" stroke="#000" stroke-width="1" stroke-linejoin="round" stroke-linecap="round" stroke-dasharray="6 3"/>
<path d="M217 971.5 L219 971.3" fill="none" stroke="#222" stroke-width="1" stroke-linejoin="round" stroke-linecap="round"/>
<path d="M212.7 969.2 L218.7 968.6" fill="none" stroke="#222" stroke-width="1.4" stroke-linejoin="round" stroke-linecap="round"/>
<path d="M272.6 942.1 L278.6 941.6" fill="none" stroke="#222" stroke-width="0.8" stroke-linejoin="round" stroke-linecap="round"/>
<path d="M399 937.2 L408 936.3" fill="none" stroke="#222" stroke-width="0.8" stroke-linejoin="round" stroke-linecap="round"/>
<path d="M346.7 937.3 L349.7 937" fill="none" stroke="#222" stroke-width="1.4" stroke-linejoin="round" stroke-linecap="round"/>
<path d="M435.8 951 L437.8 950.8" fill="none" stroke="#222" stroke-width="0.8" stroke-linejoin="round" stroke-linecap="round"/>
<path d="M189.8 964 L195.8 963.4" fill="none" stroke="#222" stroke-width="1.4" stroke-linejoin="round" stroke-linecap="round"/>
<path d="M236.9 954.8 L238.9 954.6" fill="none" stroke="#222" stroke-width="1.4" stroke-linejoin="round" stroke-linecap="round"/>
<path d="M238.3 955.3 L244.3 954.7" fill="none" stroke="#222" stroke-width="1.4" stroke-linejoin="round" stroke-linecap="round"/>
<path d="M239.6 946.4 L242.6 946.1" fill="none" stroke="#222" stroke-width="1" stroke-linejoin="round" stroke-linecap="round"/>
<path d="M438.8 951.4 L444.8 950.9" fill="none" stroke="#222" stroke-width="1.4" stroke-linejoin="round" stroke-linecap="round"/>
<path d="M387.7 924.9 L401.7 923.5" fill="none" stroke="#222" stroke-width="1.4" stroke-linejoin="round" stroke-linecap="round"/>
<path d="M375.7 927.3 L379.7 926.9" fill="none" stroke="#222" stroke-width="1.4" stroke-linejoin="round" stroke-linecap="round"/>
<path d="M424.2 938.9 L430.2 938.3" fill="none" stroke="#222" stroke-width="1.4" stroke-linejoin="round" stroke-linecap="round"/>
<path d="M395.9 947.6 L399.9 947.2" fill="none" stroke="#222" stroke-width="1" stroke-linejoin="round" stroke-linecap="round"/>
<path d="M338.8 960.3 L347.8 959.4" fill="none" stroke="#222" stroke-width="1" stroke-linejoin="round" stroke-linecap="round"/>
<path d="M312.1 927.9 L315.1 927.6" fill="none" stroke="#222" stroke-width="1.4" stroke-linejoin="round" stroke-linecap="round"/>
<path d="M377.1 940.4 L380.1 940.1" fill="none" stroke="#222" stroke-width="1" stroke-linejoin="round" stroke-linecap="round"/>
<path d="M324.3 956 L338.3 954.6" fill="none" stroke="#222" stroke-width="1.4" stroke-linejoin="round" stroke-linecap="round"/>
<path d="M275.4 951.5 L284.4 950.7" fill="none" stroke="#222" stroke-width="0.8" stroke-linejoin="round" stroke-linecap="round"/>
<path d="M376.9 944.4 L382.9 943.8" fill="none" stroke="#222" stroke-width="1" stroke-linejoin="round" stroke-linecap="round"/>
<path d="M291.1 929.6 L293.1 929.4" fill="none" stroke="#222" stroke-width="1" stroke-linejoin="round" stroke-linecap="round"/>
<path d="M372.9 959.9 L381.9 959" fill="none" stroke="#222" stroke-width="1.4" stroke-linejoin="round" stroke-linecap="round"/>
<path d="M274.9 940 L283.9 939.1" fill="none" stroke="#222" stroke-width="0.8" stroke-linejoin="round" stroke-linecap="round"/>
<path d="M439.8 946.5 L448.8 945.6" fill="none" stroke="#222" stroke-width="1.4" stroke-linejoin="round" stroke-linecap="round"/>
<path d="M241.3 957.8 L250.3 956.9" fill="none" stroke="#222" stroke-width="1" stroke-linejoin="round" stroke-linecap="round"/>
<path d="M292.1 942.9 L301.1 942" fill="none" stroke="#222" stroke-width="1.4" stroke-linejoin="round" stroke-linecap="round"/>
<path d="M384.9 917.8 L398.9 916.4" fill="none" stroke="#222" stroke-width="1.4" stroke-linejoin="round" stroke-linecap="round"/>
<path d="M384.4 943.5 L393.4 942.6" fill="none" stroke="#222" stroke-width="0.8" stroke-linejoin="round" stroke-linecap="round"/>
<path d="M278.9 932.9 L282.9 932.5" fill="none" stroke="#222" stroke-width="1.4" stroke-linejoin="round" stroke-linecap="round"/>
<path d="M331.2 962.8 L337.2 962.2" fill="none" stroke="#222" stroke-width="1" stroke-linejoin="round" stroke-linecap="round"/>
<path d="M380.9 940 L382.9 939.8" fill="none" stroke="#222" stroke-width="1.4" stroke-linejoin="round" stroke-linecap="round"/>
<path d="M324 958.7 L328 958.3" fill="none" stroke="#222" stroke-width="1" stroke-linejoin="round" stroke-linecap="round"/>
<path d="M340.2 957.7 L354.2 956.3" fill="none" stroke="#222" stroke-width="0.8" stroke-linejoin="round" stroke-linecap="round"/>
<path d="M310.4 936.9 L312.4 936.7" fill="none" stroke="#222" stroke-width="1.4" stroke-linejoin="round" stroke-linecap="round"/>
<path d="M392.8 952.7 L396.8 952.3" fill="none" stroke="#222" stroke-width="0.8" stroke-linejoin="round" stroke-linecap="round"/>
<path d="M399 947.4 L401 947.2" fill="none" stroke="#222" stroke-width="0.8" stroke-linejoin="round" stroke-linecap="round"/>
<path d="M300.4 960.1 L304.4 959.7" fill="none" stroke="#222" stroke-width="0.8" stroke-linejoin="round" stroke-linecap="round"/>
<path d="M252.5 966.3 L255.5 966" fill="none" stroke="#222" stroke-width="1" stroke-linejoin="round" stroke-linecap="round"/>
<path d="M251.8 942.1 L255.8 941.7" fill="none" stroke="#222" stroke-width="1.4" stroke-linejoin="round" stroke-linecap="round"/>
<path d="M426.6 944.1 L440.6 942.7" fill="none" stroke="#222" stroke-width="1.4" stroke-linejoin="round" stroke-linecap="round"/>
<path d="M258.5 962.6 L264.5 962" fill="none" stroke="#222" stroke-width="1" stroke-linejoin="round" stroke-linecap="round"/>
<path d="M212.3 952.8 L216.3 952.4" fill="none" stroke="#222" stroke-width="1" stroke-linejoin="round" stroke-linecap="round"/>
<path d="M369.5 934.7 L373.5 934.3" fill="none" stroke="#222" stroke-width="1.4" stroke-linejoin="round" stroke-linecap="round"/>
<path d="M302.2 939.1 L311.2 938.3" fill="none" stroke="#222" stroke-width="1" stroke-linejoin="round" stroke-linecap="round"/>
<path d="M358.3 922.2 L360.3 922" fill="none" stroke="#222" stroke-width="1" stroke-linejoin="round" stroke-linecap="round"/>
<path d="M220.1 967.1 L223.1 966.8" fill="none" stroke="#222" stroke-width="1" stroke-linejoin="round" stroke-linecap="round"/>
<path d="M363.9 951.1 L372.9 950.2" fill="none" stroke="#222" stroke-width="0.8" stroke-linejoin="round" stroke-linecap="round"/>
<path d="M431.8 942.7 L445.8 941.3" fill="none" stroke="#222" stroke-width="1.4" stroke-linejoin="round" stroke-linecap="round"/>
<path d="M295.6 952.7 L297.6 952.5" fill="none" stroke="#222" stroke-width="1" stroke-linejoin="round" stroke-linecap="round"/>
<path d="M360 955.6 L374 954.2" fill="none" stroke="#222" stroke-width="1.4" stroke-linejoin="round" stroke-linecap="round"/>
<path d="M293.2 960.3 L296.2 960" fill="none" stroke="#222" stroke-width="0.8" stroke-linejoin="round" stroke-linecap="round"/>
<path d="M390.4 934.7 L392.4 934.5" fill="none" stroke="#222" stroke-width="1" stroke-linejoin="round" stroke-linecap="round"/>
<path d="M399.7 933.4 L402.7 933.1" fill="none" stroke="#222" stroke-width="1" stroke-linejoin="round" stroke-linecap="round"/>
<path d="M311.6 934.2 L320.6 933.3" fill="none" stroke="#222" stroke-width="0.8" stroke-linejoin="round" stroke-linecap="round"/>
<path d="M320.7 937.7 L329.7 936.8" fill="none" stroke="#222" stroke-width="1" stroke-linejoin="round" stroke-linecap="round"/>
<path d="M226.9 971.2 L240.9 969.8" fill="none" stroke="#222" stroke-width="1.4" stroke-linejoin="round" stroke-linecap="round"/>
<path d="M306.5 946 L310.5 945.6" fill="none" stroke="#222" stroke-width="0.8" stroke-linejoin="round" stroke-linecap="round"/>
<path d="M235.4 964 L241.4 963.4" fill="none" stroke="#222" stroke-width="1.4" stroke-linejoin="round" stroke-linecap="round"/>
<path d="M230.1 940.8 L244.1 939.5" fill="none" stroke="#222" stroke-width="1" stroke-linejoin="round" stroke-linecap="round"/>
<path d="M540.8 816.9 L542.8 816.8" fill="none" stroke="#222" stroke-width="0.8" stroke-linejoin="round" stroke-linecap="round"/>
<path d="M533.8 815.7 L547.8 814.7" fill="none" stroke="#222" stroke-width="1.4" stroke-linejoin="round" stroke-linecap="round"/>
<path d="M549.6 799.3 L552.6 799.1" fill="none" stroke="#222" stroke-width="1.4" stroke-linejoin="round" stroke-linecap="round"/>
<path d="M528.5 812.6 L534.5 812.1" fill="none" stroke="#222" stroke-width="1.4" stroke-linejoin="round" stroke-linecap="round"/>
<path d="M535.6 812.8 L544.6 812.2" fill="none" stroke="#222" stroke-width="1" stroke-linejoin="round" stroke-linecap="round"/>
<path d="M536.7 805.8 L540.7 805.5" fill="none" stroke="#222" stroke-width="0.8" stroke-linejoin="round" stroke-linecap="round"/>
<path d="M548.4 802.7 L552.4 802.4" fill="none" stroke="#222" stroke-width="1" stroke-linejoin="round" stroke-linecap="round"/>
<path d="M537.7 816.2 L540.7 816" fill="none" stroke="#222" stroke-width="1.4" stroke-linejoin="round" stroke-linecap="round"/>
<path d="M660.4 807.6 L674.4 806.4" fill="none" stroke="#222" stroke-width="1" stroke-linejoin="round" stroke-linecap="round"/>
<path d="M621.4 783.8 L625.4 783.5" fill="none" stroke="#222" stroke-width="1" stroke-linejoin="round" stroke-linecap="round"/>
<path d="M630.4 815 L644.4 813.8" fill="none" stroke="#222" stroke-width="1.4" stroke-linejoin="round" stroke-linecap="round"/>
<path d="M627.9 782.1 L636.9 781.3" fill="none" stroke="#222" stroke-width="0.8" stroke-linejoin="round" stroke-linecap="round"/>
<path d="M717 792.6 L721 792.3" fill="none" stroke="#222" stroke-width="0.8" stroke-linejoin="round" stroke-linecap="round"/>
<path d="M595.5 818.6 L597.5 818.4" fill="none" stroke="#222" stroke-width="1.4" stroke-linejoin="round" stroke-linecap="round"/>
<path d="M680.1 795 L686.1 794.5" fill="none" stroke="#222" stroke-width="0.8" stroke-linejoin="round" stroke-linecap="round"/>
<path d="M609.4 788.8 L623.4 787.6" fill="none" stroke="#222" stroke-width="1.4" stroke-linejoin="round" stroke-linecap="round"/>
<path d="M621.3 820.9 L627.3 820.4" fill="none" stroke="#222" stroke-width="1" stroke-linejoin="round" stroke-linecap="round"/>
<path d="M610 804.7 L613 804.4" fill="none" stroke="#222" stroke-width="1.4" stroke-linejoin="round" stroke-linecap="round"/>
<path d="M636.1 808.8 L639.1 808.5" fill="none" stroke="#222" stroke-width="1.4" stroke-linejoin="round" stroke-linecap="round"/>
<path d="M716.3 799.1 L725.3 798.3" fill="none" stroke="#222" stroke-width="0.8" stroke-linejoin="round" stroke-linecap="round"/>
<path d="M646.8 801 L655.8 800.3" fill="none" stroke="#222" stroke-width="1" stroke-linejoin="round" stroke-linecap="round"/>
<path d="M655.9 799 L657.9 798.8" fill="none" stroke="#222" stroke-width="1.4" stroke-linejoin="round" stroke-linecap="round"/>
<path d="M708.8 811.9 L722.8 810.7" fill="none" stroke="#222" stroke-width="1" stroke-linejoin="round" stroke-linecap="round"/>
<path d="M640.8 799.6 L654.8 798.4" fill="none" stroke="#222" stroke-width="1" stroke-linejoin="round" stroke-linecap="round"/>
<path d="M668.2 786.5 L671.2 786.3" fill="none" stroke="#222" stroke-width="1" stroke-linejoin="round" stroke-linecap="round"/>
<path d="M642.8 804.6 L651.8 803.8" fill="none" stroke="#222" stroke-width="0.8" stroke-linejoin="round" stroke-linecap="round"/>
<path d="M590.4 819.2 L596.4 818.7" fill="none" stroke="#222" stroke-width="0.8" stroke-linejoin="round" stroke-linecap="round"/>
<path d="M657.1 792.5 L663.1 792" fill="none" stroke="#222" stroke-width="0.8" stroke-linejoin="round" stroke-linecap="round"/>
<path d="M648.5 812.1 L650.5 812" fill="none" stroke="#222" stroke-width="1.4" stroke-linejoin="round" stroke-linecap="round"/>
<path d="M626.3 788.3 L630.3 788" fill="none" stroke="#222" stroke-width="0.8" stroke-linejoin="round" stroke-linecap="round"/>
<path d="M652.1 803.3 L661.1 802.5" fill="none" stroke="#222" stroke-width="1.4" stroke-linejoin="round" stroke-linecap="round"/>
<path d="M692.3 800 L696.3 799.7" fill="none" stroke="#222" stroke-width="0.8" stroke-linejoin="round" stroke-linecap="round"/>
<path d="M639.2 803 L653.2 801.8" fill="none" stroke="#222" stroke-width="1" stroke-linejoin="round" stroke-linecap="round"/>
<path d="M624.3 820.6 L630.3 820.1" fill="none" stroke="#222" stroke-width="1.4" stroke-linejoin="round" stroke-linecap="round"/>
<path d="M640.2 792.7 L654.2 791.5" fill="none" stroke="#222" stroke-width="0.8" stroke-linejoin="round" stroke-linecap="round"/>
<path d="M677.8 778.5 L681.8 778.1" fill="none" stroke="#222" stroke-width="1" stroke-linejoin="round" stroke-linecap="round"/>
<path d="M615.2 816 L624.2 815.2" fill="none" stroke="#222" stroke-width="0.8" stroke-linejoin="round" stroke-linecap="round"/>
<path d="M628.5 790.2 L632.5 789.9" fill="none" stroke="#222" stroke-width="1.4" stroke-linejoin="round" stroke-linecap="round"/>
<path d="M649 782.7 L653 782.3" fill="none" stroke="#222" stroke-width="1.4" stroke-linejoin="round" stroke-linecap="round"/>
<path d="M712.8 802 L715.8 801.8" fill="none" stroke="#222" stroke-width="1.4" stroke-linejoin="round" stroke-linecap="round"/>
<path d="M661.3 802.1 L665.3 801.8" fill="none" stroke="#222" stroke-width="1" stroke-linejoin="round" stroke-linecap="round"/>
<path d="M684.1 798.4 L698.1 797.2" fill="none" stroke="#222" stroke-width="0.8" stroke-linejoin="round" stroke-linecap="round"/>
<path d="M655.9 806.7 L657.9 806.6" fill="none" stroke="#222" stroke-width="1" stroke-linejoin="round" stroke-linecap="round"/>
<path d="M639.6 815.6 L653.6 814.4" fill="none" stroke="#222" stroke-width="1.4" stroke-linejoin="round" stroke-linecap="round"/>
<path d="M657.8 811.8 L671.8 810.6" fill="none" stroke="#222" stroke-width="1" stroke-linejoin="round" stroke-linecap="round"/>
<path d="M650.6 782.9 L652.6 782.7" fill="none" stroke="#222" stroke-width="1.4" stroke-linejoin="round" stroke-linecap="round"/>
<path d="M511 1058.2 L515 1057.8" fill="none" stroke="#222" stroke-width="1.4" stroke-linejoin="round" stroke-linecap="round"/>
<path d="M582.2 1051.7 L591.2 1050.7" fill="none" stroke="#222" stroke-width="0.8" stroke-linejoin="round" stroke-linecap="round"/>
<path d="M707.5 1031.8 L716.5 1030.8" fill="none" stroke="#222" stroke-width="0.8" stroke-linejoin="round" stroke-linecap="round"/>
<path d="M495.3 1068.1 L504.3 1067.1" fill="none" stroke="#222" stroke-width="1.4" stroke-linejoin="round" stroke-linecap="round"/>
<path d="M583.7 1054.2 L586.7 1053.9" fill="none" stroke="#222" stroke-width="0.8" stroke-linejoin="round" stroke-linecap="round"/>
<path d="M638.6 1057.7 L647.6 1056.7" fill="none" stroke="#222" stroke-width="1" stroke-linejoin="round" stroke-linecap="round"/>
<path d="M666.4 1046 L668.4 1045.7" fill="none" stroke="#222" stroke-width="0.8" stroke-linejoin="round" stroke-linecap="round"/>
<path d="M668.5 1042.1 L672.5 1041.6" fill="none" stroke="#222" stroke-width="0.8" stroke-linejoin="round" stroke-linecap="round"/>
<path d="M672 1025.2 L681 1024.2" fill="none" stroke="#222" stroke-width="1.4" stroke-linejoin="round" stroke-linecap="round"/>
<path d="M705.9 1027.8 L711.9 1027.2" fill="none" stroke="#222" stroke-width="1" stroke-linejoin="round" stroke-linecap="round"/>
<path d="M658.9 1042.6 L661.9 1042.2" fill="none" stroke="#222" stroke-width="1" stroke-linejoin="round" stroke-linecap="round"/>
<path d="M478.4 1038.5 L481.4 1038.2" fill="none" stroke="#222" stroke-width="1" stroke-linejoin="round" stroke-linecap="round"/>
<path d="M722 1028.4 L736 1026.9" fill="none" stroke="#222" stroke-width="1" stroke-linejoin="round" stroke-linecap="round"/>
<path d="M568.5 1064.5 L577.5 1063.5" fill="none" stroke="#222" stroke-width="1" stroke-linejoin="round" stroke-linecap="round"/>
<path d="M596.7 1041.5 L599.7 1041.1" fill="none" stroke="#222" stroke-width="1" stroke-linejoin="round" stroke-linecap="round"/>
<path d="M655.8 1058.1 L659.8 1057.7" fill="none" stroke="#222" stroke-width="1.4" stroke-linejoin="round" stroke-linecap="round"/>
<path d="M626.1 1023.8 L630.1 1023.4" fill="none" stroke="#222" stroke-width="1.4" stroke-linejoin="round" stroke-linecap="round"/>
<path d="M711.8 1036 L725.8 1034.5" fill="none" stroke="#222" stroke-width="1.4" stroke-linejoin="round" stroke-linecap="round"/>
<path d="M500.5 1072.4 L509.5 1071.4" fill="none" stroke="#222" stroke-width="1" stroke-linejoin="round" stroke-linecap="round"/>
<path d="M526.5 1027.3 L540.5 1025.7" fill="none" stroke="#222" stroke-width="1" stroke-linejoin="round" stroke-linecap="round"/>
<path d="M461.3 1075.7 L467.3 1075.1" fill="none" stroke="#222" stroke-width="0.8" stroke-linejoin="round" stroke-linecap="round"/>
<path d="M449.1 1059.5 L455.1 1058.9" fill="none" stroke="#222" stroke-width="0.8" stroke-linejoin="round" stroke-linecap="round"/>
<path d="M451.3 1068.5 L453.3 1068.3" fill="none" stroke="#222" stroke-width="1" stroke-linejoin="round" stroke-linecap="round"/>
<path d="M646.2 1031.7 L650.2 1031.2" fill="none" stroke="#222" stroke-width="1.4" stroke-linejoin="round" stroke-linecap="round"/>
<path d="M515 1025.8 L517 1025.6" fill="none" stroke="#222" stroke-width="0.8" stroke-linejoin="round" stroke-linecap="round"/>
<path d="M472.3 1062.3 L475.3 1062" fill="none" stroke="#222" stroke-width="1" stroke-linejoin="round" stroke-linecap="round"/>
<path d="M527.6 1041.4 L541.6 1039.8" fill="none" stroke="#222" stroke-width="0.8" stroke-linejoin="round" stroke-linecap="round"/>
<path d="M719.6 1023.7 L723.6 1023.3" fill="none" stroke="#222" stroke-width="0.8" stroke-linejoin="round" stroke-linecap="round"/>
<path d="M698.7 1028.1 L704.7 1027.5" fill="none" stroke="#222" stroke-width="1.4" stroke-linejoin="round" stroke-linecap="round"/>
<path d="M557.4 1067.2 L571.4 1065.7" fill="none" stroke="#222" stroke-width="1.4" stroke-linejoin="round" stroke-linecap="round"/>
<path d="M463 1082.7 L472 1081.8" fill="none" stroke="#222" stroke-width="1" stroke-linejoin="round" stroke-linecap="round"/>
<path d="M570.6 1059.4 L573.6 1059" fill="none" stroke="#222" stroke-width="1" stroke-linejoin="round" stroke-linecap="round"/>
<path d="M567 1036.6 L571 1036.1" fill="none" stroke="#222" stroke-width="1.4" stroke-linejoin="round" stroke-linecap="round"/>
<path d="M541.8 1065.7 L550.8 1064.7" fill="none" stroke="#222" stroke-width="1" stroke-linejoin="round" stroke-linecap="round"/>
<path d="M443.9 1069.4 L457.9 1067.9" fill="none" stroke="#222" stroke-width="0.8" stroke-linejoin="round" stroke-linecap="round"/>
<path d="M455.9 1068.6 L461.9 1067.9" fill="none" stroke="#222" stroke-width="1" stroke-linejoin="round" stroke-linecap="round"/>
<path d="M636.2 1034 L650.2 1032.5" fill="none" stroke="#222" stroke-width="1" stroke-linejoin="round" stroke-linecap="round"/>
<path d="M633.5 1011.1 L635.5 1010.9" fill="none" stroke="#222" stroke-width="1.4" stroke-linejoin="round" stroke-linecap="round"/>
<path d="M451.1 1056.2 L465.1 1054.6" fill="none" stroke="#222" stroke-width="1" stroke-linejoin="round" stroke-linecap="round"/>
<path d="M529.1 1058.8 L532.1 1058.5" fill="none" stroke="#222" stroke-width="1" stroke-linejoin="round" stroke-linecap="round"/>
<path d="M492.9 1070.2 L501.9 1069.2" fill="none" stroke="#222" stroke-width="1" stroke-linejoin="round" stroke-linecap="round"/>
<path d="M529.9 1047.5 L531.9 1047.3" fill="none" stroke="#222" stroke-width="1.4" stroke-linejoin="round" stroke-linecap="round"/>
<path d="M627.7 1021.4 L636.7 1020.4" fill="none" stroke="#222" stroke-width="0.8" stroke-linejoin="round" stroke-linecap="round"/>
<path d="M625.9 1030.5 L629.9 1030.1" fill="none" stroke="#222" stroke-width="0.8" stroke-linejoin="round" stroke-linecap="round"/>
<path d="M646.1 1047.4 L648.1 1047.1" fill="none" stroke="#222" stroke-width="0.8" stroke-linejoin="round" stroke-linecap="round"/>
<path d="M629.3 1062.1 L643.3 1060.5" fill="none" stroke="#222" stroke-width="0.8" stroke-linejoin="round" stroke-linecap="round"/>
<path d="M574.3 1064.7 L577.3 1064.4" fill="none" stroke="#222" stroke-width="0.8" stroke-linejoin="round" stroke-linecap="round"/>
<path d="M540.8 1059.7 L549.8 1058.7" fill="none" stroke="#222" stroke-width="1" stroke-linejoin="round" stroke-linecap="round"/>
<path d="M519.9 1068.2 L521.9 1068" fill="none" stroke="#222" stroke-width="1.4" stroke-linejoin="round" stroke-linecap="round"/>
<path d="M711.7 1023.3 L720.7 1022.3" fill="none" stroke="#222" stroke-width="0.8" stroke-linejoin="round" stroke-linecap="round"/>
<path d="M687.2 1027.5 L701.2 1025.9" fill="none" stroke="#222" stroke-width="0.8" stroke-linejoin="round" stroke-linecap="round"/>
<path d="M671.4 1029.6 L674.4 1029.2" fill="none" stroke="#222" stroke-width="1" stroke-linejoin="round" stroke-linecap="round"/>
<path d="M526.7 1067.7 L530.7 1067.3" fill="none" stroke="#222" stroke-width="1" stroke-linejoin="round" stroke-linecap="round"/>
<path d="M543 1048.1 L549 1047.5" fill="none" stroke="#222" stroke-width="1.4" stroke-linejoin="round" stroke-linecap="round"/>
<path d="M565.4 1068.5 L568.4 1068.1" fill="none" stroke="#222" stroke-width="0.8" stroke-linejoin="round" stroke-linecap="round"/>
<path d="M430.9 1085.3 L439.9 1084.3" fill="none" stroke="#222" stroke-width="1.4" stroke-linejoin="round" stroke-linecap="round"/>
<path d="M573.9 1068.7 L587.9 1067.1" fill="none" stroke="#222" stroke-width="0.8" stroke-linejoin="round" stroke-linecap="round"/>
<path d="M451.8 1060.7 L465.8 1059.2" fill="none" stroke="#222" stroke-width="1.4" stroke-linejoin="round" stroke-linecap="round"/>
<path d="M589.8 1035.8 L593.8 1035.3" fill="none" stroke="#222" stroke-width="0.8" stroke-linejoin="round" stroke-linecap="round"/>
<path d="M712.2 1048.5 L716.2 1048.1" fill="none" stroke="#222" stroke-width="0.8" stroke-linejoin="round" stroke-linecap="round"/>
<path d="M652.9 1011.4 L666.9 1009.9" fill="none" stroke="#222" stroke-width="1.4" stroke-linejoin="round" stroke-linecap="round"/>
<path d="M734.4 1047.5 L740.4 1046.8" fill="none" stroke="#222" stroke-width="1.4" stroke-linejoin="round" stroke-linecap="round"/>
<path d="M456.1 1061.5 L458.1 1061.3" fill="none" stroke="#222" stroke-width="0.8" stroke-linejoin="round" stroke-linecap="round"/>
<path d="M584.4 1033.4 L586.4 1033.2" fill="none" stroke="#222" stroke-width="1.4" stroke-linejoin="round" stroke-linecap="round"/>
<path d="M587.6 1019.5 L596.6 1018.5" fill="none" stroke="#222" stroke-width="0.8" stroke-linejoin="round" stroke-linecap="round"/>
<path d="M541.1 1039.2 L550.1 1038.2" fill="none" stroke="#222" stroke-width="1" stroke-linejoin="round" stroke-linecap="round"/>
<path d="M654.8 1012.8 L657.8 1012.4" fill="none" stroke="#222" stroke-width="0.8" stroke-linejoin="round" stroke-linecap="round"/>
<path d="M470.8 1078.3 L472.8 1078.1" fill="none" stroke="#222" stroke-width="0.8" stroke-linejoin="round" stroke-linecap="round"/>
<path d="M513.4 1043.6 L516.4 1043.3" fill="none" stroke="#222" stroke-width="0.8" stroke-linejoin="round" stroke-linecap="round"/>
<path d="M586.1 1050.8 L592.1 1050.1" fill="none" stroke="#222" stroke-width="0.8" stroke-linejoin="round" stroke-linecap="round"/>
<path d="M652.8 1026.2 L661.8 1025.2" fill="none" stroke="#222" stroke-width="1.4" stroke-linejoin="round" stroke-linecap="round"/>
<path d="M583.3 1019.8 L587.3 1019.3" fill="none" stroke="#222" stroke-width="0.8" stroke-linejoin="round" stroke-linecap="round"/>
<path d="M707.1 1045.7 L709.1 1045.5" fill="none" stroke="#222" stroke-width="0.8" stroke-linejoin="round" stroke-linecap="round"/>
<path d="M456.2 1061.5 L458.2 1061.3" fill="none" stroke="#222" stroke-width="1.4" stroke-linejoin="round" stroke-linecap="round"/>
<path d="M466.4 1061.3 L470.4 1060.9" fill="none" stroke="#222" stroke-width="0.8" stroke-linejoin="round" stroke-linecap="round"/>
<path d="M533.9 1045.7 L547.9 1044.1" fill="none" stroke="#222" stroke-width="1" stroke-linejoin="round" stroke-linecap="round"/>
<path d="M610.4 1037.4 L613.4 1037.1" fill="none" stroke="#222" stroke-width="1" stroke-linejoin="round" stroke-linecap="round"/>
<path d="M562.8 1028.4 L564.8 1028.2" fill="none" stroke="#222" stroke-width="1.4" stroke-linejoin="round" stroke-linecap="round"/>
<path d="M665 1051.5 L674 1050.5" fill="none" stroke="#222" stroke-width="0.8" stroke-linejoin="round" stroke-linecap="round"/>
<path d="M454.8 1060.6 L468.8 1059.1" fill="none" stroke="#222" stroke-width="1.4" stroke-linejoin="round" stroke-linecap="round"/>
<path d="M384.1 1071.2 L398.1 1069.6" fill="none" stroke="#222" stroke-width="0.8" stroke-linejoin="round" stroke-linecap="round"/>
<path d="M392.3 1069.7 L395.3 1069.3" fill="none" stroke="#222" stroke-width="1.4" stroke-linejoin="round" stroke-linecap="round"/>
<path d="M400.7 1043.5 L409.7 1042.5" fill="none" stroke="#222" stroke-width="0.8" stroke-linejoin="round" stroke-linecap="round"/>
<path d="M403.4 1035.7 L406.4 1035.3" fill="none" stroke="#222" stroke-width="1.4" stroke-linejoin="round" stroke-linecap="round"/>
<path d="M394 1035.1 L398 1034.6" fill="none" stroke="#222" stroke-width="0.8" stroke-linejoin="round" stroke-linecap="round"/>
<path d="M383.3 1075.3 L387.3 1074.9" fill="none" stroke="#222" stroke-width="1" stroke-linejoin="round" stroke-linecap="round"/>
<path d="M391.5 1080.2 L395.5 1079.7" fill="none" stroke="#222" stroke-width="1" stroke-linejoin="round" stroke-linecap="round"/>
<path d="M399.8 1061.6 L408.8 1060.5" fill="none" stroke="#222" stroke-width="1.4" stroke-linejoin="round" stroke-linecap="round"/>
<path d="M665.1 1013.6 L671.1 1013.4" fill="none" stroke="#222" stroke-width="1" stroke-linejoin="round" stroke-linecap="round"/>
<path d="M657.1 1011.4 L663.1 1011.2" fill="none" stroke="#222" stroke-width="1.4" stroke-linejoin="round" stroke-linecap="round"/>
<path d="M749.6 1040.1 L751.6 1040" fill="none" stroke="#222" stroke-width="0.8" stroke-linejoin="round" stroke-linecap="round"/>
<path d="M699.5 1025.5 L702.5 1025.4" fill="none" stroke="#222" stroke-width="0.8" stroke-linejoin="round" stroke-linecap="round"/>
<path d="M707.5 1047.2 L709.5 1047.1" fill="none" stroke="#222" stroke-width="1.4" stroke-linejoin="round" stroke-linecap="round"/>
<path d="M741.5 1040.5 L744.5 1040.4" fill="none" stroke="#222" stroke-width="0.8" stroke-linejoin="round" stroke-linecap="round"/>
<path d="M698 1036.4 L712 1035.9" fill="none" stroke="#222" stroke-width="1" stroke-linejoin="round" stroke-linecap="round"/>
<path d="M681.3 1036.4 L695.3 1035.9" fill="none" stroke="#222" stroke-width="1" stroke-linejoin="round" stroke-linecap="round"/>
<path d="M687.5 1017.1 L693.5 1016.9" fill="none" stroke="#222" stroke-width="1" stroke-linejoin="round" stroke-linecap="round"/>
<path d="M694.3 1047.6 L703.3 1047.3" fill="none" stroke="#222" stroke-width="1" stroke-linejoin="round" stroke-linecap="round"/>
<path d="M661.6 1024 L675.6 1023.5" fill="none" stroke="#222" stroke-width="1" stroke-linejoin="round" stroke-linecap="round"/>
<path d="M729.9 1030.3 L735.9 1030.1" fill="none" stroke="#222" stroke-width="1" stroke-linejoin="round" stroke-linecap="round"/>
<path d="M708.7 1028.1 L711.7 1028" fill="none" stroke="#222" stroke-width="0.8" stroke-linejoin="round" stroke-linecap="round"/>
<path d="M705.5 1042.8 L707.5 1042.7" fill="none" stroke="#222" stroke-width="0.8" stroke-linejoin="round" stroke-linecap="round"/>
<path d="M679.3 1037.3 L683.3 1037.1" fill="none" stroke="#222" stroke-width="1.4" stroke-linejoin="round" stroke-linecap="round"/>
<path d="M706.3 1029.9 L710.3 1029.7" fill="none" stroke="#222" stroke-width="0.8" stroke-linejoin="round" stroke-linecap="round"/>
<path d="M720.6 1016.7 L726.6 1016.5" fill="none" stroke="#222" stroke-width="0.8" stroke-linejoin="round" stroke-linecap="round"/>
<path d="M711.7 1028.4 L714.7 1028.3" fill="none" stroke="#222" stroke-width="1" stroke-linejoin="round" stroke-linecap="round"/>
<path d="M705.2 1034.6 L719.2 1034.1" fill="none" stroke="#222" stroke-width="1.4" stroke-linejoin="round" stroke-linecap="round"/>
<path d="M676 1024.8 L678 1024.8" fill="none" stroke="#222" stroke-width="1.4" stroke-linejoin="round" stroke-linecap="round"/>
<path d="M698 1041.5 L707 1041.2" fill="none" stroke="#222" stroke-width="0.8" stroke-linejoin="round" stroke-linecap="round"/>
<path d="M696.8 1047.4 L700.8 1047.3" fill="none" stroke="#222" stroke-width="1" stroke-linejoin="round" stroke-linecap="round"/>
<path d="M666 1026.8 L668 1026.7" fill="none" stroke="#222" stroke-width="1" stroke-linejoin="round" stroke-linecap="round"/>
<path d="M743.4 1045.8 L745.4 1045.8" fill="none" stroke="#222" stroke-width="1" stroke-linejoin="round" stroke-linecap="round"/>
<path d="M710.4 1047.8 L724.4 1047.3" fill="none" stroke="#222" stroke-width="1" stroke-linejoin="round" stroke-linecap="round"/>
<path d="M748.7 1042.5 L762.7 1042.1" fill="none" stroke="#222" stroke-width="0.8" stroke-linejoin="round" stroke-linecap="round"/>
<path d="M674.7 1018.4 L680.7 1018.2" fill="none" stroke="#222" stroke-width="1" stroke-linejoin="round" stroke-linecap="round"/>
<path d="M674.7 1027.5 L677.7 1027.4" fill="none" stroke="#222" stroke-width="1" stroke-linejoin="round" stroke-linecap="round"/>
<path d="M703.2 1025.4 L709.2 1025.2" fill="none" stroke="#222" stroke-width="0.8" stroke-linejoin="round" stroke-linecap="round"/>
<path d="M709.5 1042.3 L713.5 1042.1" fill="none" stroke="#222" stroke-width="1.4" stroke-linejoin="round" stroke-linecap="round"/>
<path d="M696.6 1049 L702.6 1048.8" fill="none" stroke="#222" stroke-width="0.8" stroke-linejoin="round" stroke-linecap="round"/>
<path d="M654.2 1011.2 L668.2 1010.7" fill="none" stroke="#222" stroke-width="0.8" stroke-linejoin="round" stroke-linecap="round"/>
<path d="M733.4 1046.7 L742.4 1046.4" fill="none" stroke="#222" stroke-width="0.8" stroke-linejoin="round" stroke-linecap="round"/>
<path d="M712.6 1034 L716.6 1033.9" fill="none" stroke="#222" stroke-width="0.8" stroke-linejoin="round" stroke-linecap="round"/>
<path d="M680.5 1033.4 L686.5 1033.2" fill="none" stroke="#222" stroke-width="1.4" stroke-linejoin="round" stroke-linecap="round"/>
<path d="M737.9 1028.7 L740.9 1028.6" fill="none" stroke="#222" stroke-width="1" stroke-linejoin="round" stroke-linecap="round"/>
<path d="M670.2 1008.6 L676.2 1008.4" fill="none" stroke="#222" stroke-width="1" stroke-linejoin="round" stroke-linecap="round"/>
<path d="M704.4 1045.5 L707.4 1045.4" fill="none" stroke="#222" stroke-width="1" stroke-linejoin="round" stroke-linecap="round"/>
<path d="M656.5 1009 L660.5 1008.9" fill="none" stroke="#222" stroke-width="0.8" stroke-linejoin="round" stroke-linecap="round"/>
<path d="M719.8 1040.6 L725.8 1040.4" fill="none" stroke="#222" stroke-width="1" stroke-linejoin="round" stroke-linecap="round"/>
<path d="M683.6 1228.1 L736 1294.7 L736.6 1296.2 L724.7 1297.7 L665.7 1244" fill="none" stroke="#000" stroke-width="2" stroke-linejoin="round" stroke-linecap="round"/>
<path d="M674 1236 L680 1247" fill="none" stroke="#000" stroke-width="0.8" stroke-linejoin="round" stroke-linecap="round" stroke-dasharray="3 3"/>
<path d="M694 1262 L708 1278" fill="none" stroke="#000" stroke-width="0.9" stroke-linejoin="round" stroke-linecap="round" stroke-dasharray="4 2"/>
<path d="M692 1268 L722 1296" fill="none" stroke="#000" stroke-width="2.6" stroke-linejoin="round" stroke-linecap="round"/>
<path d="M210.5 1224 L171.8 1291 L173.3 1295.6 L183.7 1294.6 L188.2 1289.2 L234.6 1362.9 L235 1366 L225.5 1382 L228.3 1387.5 L241 1385.7 L295.5 1295.7" fill="none" stroke="#000" stroke-width="2" stroke-linejoin="round" stroke-linecap="round"/>
<path d="M221.9 1234.6 L237 1249 L252 1262 L268 1274.5 L282 1284.6 L244.6 1347.4 L198.2 1273.7 Z" fill="none" stroke="#000" stroke-width="2" stroke-linejoin="round" stroke-linecap="round"/>
<path d="M234 1215.5 L240 1222.8" fill="none" stroke="#000" stroke-width="2.6" stroke-linejoin="round" stroke-linecap="round"/>
<path d="M240 1222.8 L252 1236 L264 1246.5 L277.4 1256.4" fill="none" stroke="#000" stroke-width="1" stroke-linejoin="round" stroke-linecap="round"/>
<path d="M244.6 1200 L293.8 1263.7" fill="none" stroke="#000" stroke-width="1" stroke-linejoin="round" stroke-linecap="round"/>
<path d="M249 1196.5 L262 1213 L280 1238 L296 1260 L293.8 1263.7" fill="none" stroke="#000" stroke-width="1" stroke-linejoin="round" stroke-linecap="round"/>
<path d="M250.5 1197 L270 1222 L290 1252" fill="none" stroke="#000" stroke-width="0.8" stroke-linejoin="round" stroke-linecap="round" stroke-dasharray="4 3"/>
<g fill="none" stroke="#000" stroke-width="1.5"><ellipse cx="401.3" cy="1241.6" rx="2.0" ry="1.45"/><ellipse cx="408.5" cy="1241.1" rx="2.0" ry="1.45"/><ellipse cx="415.6" cy="1240.4" rx="2.0" ry="1.45"/><ellipse cx="422.8" cy="1239.6" rx="2.0" ry="1.45"/><ellipse cx="429.9" cy="1238.6" rx="2.0" ry="1.45"/><ellipse cx="437" cy="1237.4" rx="2.0" ry="1.45"/><ellipse cx="444.2" cy="1236" rx="2.0" ry="1.45"/><ellipse cx="451.3" cy="1234.4" rx="2.0" ry="1.45"/><ellipse cx="458.4" cy="1232.7" rx="2.0" ry="1.45"/><ellipse cx="465.5" cy="1230.8" rx="2.0" ry="1.45"/><ellipse cx="472.5" cy="1228.7" rx="2.0" ry="1.45"/><ellipse cx="479.5" cy="1226.4" rx="2.0" ry="1.45"/><ellipse cx="486.5" cy="1224" rx="2.0" ry="1.45"/><ellipse cx="493.4" cy="1221.4" rx="2.0" ry="1.45"/><ellipse cx="500.3" cy="1218.6" rx="2.0" ry="1.45"/><ellipse cx="507.2" cy="1215.7" rx="2.0" ry="1.45"/><ellipse cx="514" cy="1212.5" rx="2.0" ry="1.45"/><ellipse cx="520.7" cy="1209.3" rx="2.0" ry="1.45"/><ellipse cx="527.4" cy="1205.8" rx="2.0" ry="1.45"/><ellipse cx="534" cy="1202.2" rx="2.0" ry="1.45"/><ellipse cx="540.6" cy="1198.5" rx="2.0" ry="1.45"/><ellipse cx="547.1" cy="1194.6" rx="2.0" ry="1.45"/><ellipse cx="553.5" cy="1190.5" rx="2.0" ry="1.45"/><ellipse cx="559.8" cy="1186.3" rx="2.0" ry="1.45"/><ellipse cx="566" cy="1181.9" rx="2.0" ry="1.45"/><ellipse cx="572.2" cy="1177.4" rx="2.0" ry="1.45"/><ellipse cx="578.3" cy="1172.7" rx="2.0" ry="1.45"/><ellipse cx="584.3" cy="1167.9" rx="2.0" ry="1.45"/><ellipse cx="410.4" cy="1246.4" rx="2.0" ry="1.45"/><ellipse cx="417.5" cy="1245.8" rx="2.0" ry="1.45"/><ellipse cx="424.6" cy="1245" rx="2.0" ry="1.45"/><ellipse cx="431.7" cy="1244" rx="2.0" ry="1.45"/><ellipse cx="438.8" cy="1242.8" rx="2.0" ry="1.45"/><ellipse cx="445.9" cy="1241.5" rx="2.0" ry="1.45"/><ellipse cx="453" cy="1240" rx="2.0" ry="1.45"/><ellipse cx="460.1" cy="1238.3" rx="2.0" ry="1.45"/><ellipse cx="467.2" cy="1236.5" rx="2.0" ry="1.45"/><ellipse cx="474.2" cy="1234.5" rx="2.0" ry="1.45"/><ellipse cx="481.2" cy="1232.3" rx="2.0" ry="1.45"/><ellipse cx="488.2" cy="1229.9" rx="2.0" ry="1.45"/><ellipse cx="495.1" cy="1227.4" rx="2.0" ry="1.45"/><ellipse cx="502" cy="1224.7" rx="2.0" ry="1.45"/><ellipse cx="508.8" cy="1221.8" rx="2.0" ry="1.45"/><ellipse cx="515.6" cy="1218.7" rx="2.0" ry="1.45"/><ellipse cx="522.4" cy="1215.5" rx="2.0" ry="1.45"/><ellipse cx="529" cy="1212.2" rx="2.0" ry="1.45"/><ellipse cx="535.7" cy="1208.7" rx="2.0" ry="1.45"/><ellipse cx="542.2" cy="1205" rx="2.0" ry="1.45"/><ellipse cx="548.7" cy="1201.1" rx="2.0" ry="1.45"/><ellipse cx="555.2" cy="1197.1" rx="2.0" ry="1.45"/><ellipse cx="561.5" cy="1193" rx="2.0" ry="1.45"/><ellipse cx="567.8" cy="1188.7" rx="2.0" ry="1.45"/><ellipse cx="574" cy="1184.3" rx="2.0" ry="1.45"/><ellipse cx="580.1" cy="1179.7" rx="2.0" ry="1.45"/><ellipse cx="586.1" cy="1175" rx="2.0" ry="1.45"/><ellipse cx="592" cy="1170.1" rx="2.0" ry="1.45"/><ellipse cx="426.4" cy="1250.3" rx="2.0" ry="1.45"/><ellipse cx="433.4" cy="1249.4" rx="2.0" ry="1.45"/><ellipse cx="440.5" cy="1248.3" rx="2.0" ry="1.45"/><ellipse cx="447.6" cy="1247.1" rx="2.0" ry="1.45"/><ellipse cx="454.7" cy="1245.6" rx="2.0" ry="1.45"/><ellipse cx="461.8" cy="1244" rx="2.0" ry="1.45"/><ellipse cx="468.8" cy="1242.2" rx="2.0" ry="1.45"/><ellipse cx="475.8" cy="1240.3" rx="2.0" ry="1.45"/><ellipse cx="482.8" cy="1238.1" rx="2.0" ry="1.45"/><ellipse cx="489.8" cy="1235.8" rx="2.0" ry="1.45"/><ellipse cx="496.7" cy="1233.3" rx="2.0" ry="1.45"/><ellipse cx="503.6" cy="1230.7" rx="2.0" ry="1.45"/><ellipse cx="510.4" cy="1227.9" rx="2.0" ry="1.45"/><ellipse cx="517.2" cy="1224.9" rx="2.0" ry="1.45"/><ellipse cx="523.9" cy="1221.8" rx="2.0" ry="1.45"/><ellipse cx="530.6" cy="1218.5" rx="2.0" ry="1.45"/><ellipse cx="537.3" cy="1215.1" rx="2.0" ry="1.45"/><ellipse cx="543.8" cy="1211.5" rx="2.0" ry="1.45"/><ellipse cx="550.4" cy="1207.7" rx="2.0" ry="1.45"/><ellipse cx="556.8" cy="1203.8" rx="2.0" ry="1.45"/><ellipse cx="563.2" cy="1199.7" rx="2.0" ry="1.45"/><ellipse cx="569.4" cy="1195.5" rx="2.0" ry="1.45"/><ellipse cx="575.7" cy="1191.2" rx="2.0" ry="1.45"/><ellipse cx="581.8" cy="1186.6" rx="2.0" ry="1.45"/><ellipse cx="587.8" cy="1182" rx="2.0" ry="1.45"/><ellipse cx="593.8" cy="1177.2" rx="2.0" ry="1.45"/><ellipse cx="435.1" cy="1254.8" rx="2.0" ry="1.45"/><ellipse cx="442.1" cy="1253.8" rx="2.0" ry="1.45"/><ellipse cx="449.2" cy="1252.6" rx="2.0" ry="1.45"/><ellipse cx="456.3" cy="1251.2" rx="2.0" ry="1.45"/><ellipse cx="463.3" cy="1249.7" rx="2.0" ry="1.45"/><ellipse cx="470.3" cy="1247.9" rx="2.0" ry="1.45"/><ellipse cx="477.3" cy="1246" rx="2.0" ry="1.45"/><ellipse cx="484.3" cy="1244" rx="2.0" ry="1.45"/><ellipse cx="491.3" cy="1241.7" rx="2.0" ry="1.45"/><ellipse cx="498.2" cy="1239.3" rx="2.0" ry="1.45"/><ellipse cx="505.1" cy="1236.8" rx="2.0" ry="1.45"/><ellipse cx="511.9" cy="1234" rx="2.0" ry="1.45"/><ellipse cx="518.7" cy="1231.1" rx="2.0" ry="1.45"/><ellipse cx="525.5" cy="1228.1" rx="2.0" ry="1.45"/><ellipse cx="532.2" cy="1224.9" rx="2.0" ry="1.45"/><ellipse cx="538.8" cy="1221.5" rx="2.0" ry="1.45"/><ellipse cx="545.4" cy="1217.9" rx="2.0" ry="1.45"/><ellipse cx="551.9" cy="1214.3" rx="2.0" ry="1.45"/><ellipse cx="558.4" cy="1210.4" rx="2.0" ry="1.45"/><ellipse cx="564.8" cy="1206.4" rx="2.0" ry="1.45"/><ellipse cx="571.1" cy="1202.3" rx="2.0" ry="1.45"/><ellipse cx="577.3" cy="1198" rx="2.0" ry="1.45"/><ellipse cx="583.5" cy="1193.6" rx="2.0" ry="1.45"/><ellipse cx="589.5" cy="1189" rx="2.0" ry="1.45"/><ellipse cx="595.5" cy="1184.3" rx="2.0" ry="1.45"/><ellipse cx="601.4" cy="1179.5" rx="2.0" ry="1.45"/><ellipse cx="450.7" cy="1258.1" rx="2.0" ry="1.45"/><ellipse cx="457.8" cy="1256.8" rx="2.0" ry="1.45"/><ellipse cx="464.8" cy="1255.3" rx="2.0" ry="1.45"/><ellipse cx="471.8" cy="1253.7" rx="2.0" ry="1.45"/><ellipse cx="478.8" cy="1251.8" rx="2.0" ry="1.45"/><ellipse cx="485.8" cy="1249.8" rx="2.0" ry="1.45"/><ellipse cx="492.7" cy="1247.7" rx="2.0" ry="1.45"/><ellipse cx="499.6" cy="1245.3" rx="2.0" ry="1.45"/><ellipse cx="506.5" cy="1242.8" rx="2.0" ry="1.45"/><ellipse cx="513.4" cy="1240.2" rx="2.0" ry="1.45"/><ellipse cx="520.2" cy="1237.3" rx="2.0" ry="1.45"/><ellipse cx="526.9" cy="1234.3" rx="2.0" ry="1.45"/><ellipse cx="533.6" cy="1231.2" rx="2.0" ry="1.45"/><ellipse cx="540.3" cy="1227.9" rx="2.0" ry="1.45"/><ellipse cx="546.9" cy="1224.4" rx="2.0" ry="1.45"/><ellipse cx="553.4" cy="1220.8" rx="2.0" ry="1.45"/><ellipse cx="559.9" cy="1217" rx="2.0" ry="1.45"/><ellipse cx="566.3" cy="1213.1" rx="2.0" ry="1.45"/><ellipse cx="572.7" cy="1209.1" rx="2.0" ry="1.45"/><ellipse cx="578.9" cy="1204.9" rx="2.0" ry="1.45"/><ellipse cx="585.1" cy="1200.5" rx="2.0" ry="1.45"/><ellipse cx="591.2" cy="1196" rx="2.0" ry="1.45"/><ellipse cx="597.2" cy="1191.4" rx="2.0" ry="1.45"/><ellipse cx="603.1" cy="1186.6" rx="2.0" ry="1.45"/><ellipse cx="459.2" cy="1262.4" rx="2.0" ry="1.45"/><ellipse cx="466.2" cy="1261" rx="2.0" ry="1.45"/><ellipse cx="473.2" cy="1259.4" rx="2.0" ry="1.45"/><ellipse cx="480.2" cy="1257.6" rx="2.0" ry="1.45"/><ellipse cx="487.2" cy="1255.7" rx="2.0" ry="1.45"/><ellipse cx="494.1" cy="1253.6" rx="2.0" ry="1.45"/><ellipse cx="501" cy="1251.3" rx="2.0" ry="1.45"/><ellipse cx="507.9" cy="1248.9" rx="2.0" ry="1.45"/><ellipse cx="514.8" cy="1246.3" rx="2.0" ry="1.45"/><ellipse cx="521.6" cy="1243.5" rx="2.0" ry="1.45"/><ellipse cx="528.3" cy="1240.6" rx="2.0" ry="1.45"/><ellipse cx="535.1" cy="1237.5" rx="2.0" ry="1.45"/><ellipse cx="541.7" cy="1234.3" rx="2.0" ry="1.45"/><ellipse cx="548.3" cy="1230.9" rx="2.0" ry="1.45"/><ellipse cx="554.9" cy="1227.4" rx="2.0" ry="1.45"/><ellipse cx="561.4" cy="1223.7" rx="2.0" ry="1.45"/><ellipse cx="567.8" cy="1219.8" rx="2.0" ry="1.45"/><ellipse cx="574.2" cy="1215.8" rx="2.0" ry="1.45"/><ellipse cx="580.5" cy="1211.7" rx="2.0" ry="1.45"/><ellipse cx="586.7" cy="1207.4" rx="2.0" ry="1.45"/><ellipse cx="592.8" cy="1203" rx="2.0" ry="1.45"/><ellipse cx="598.9" cy="1198.4" rx="2.0" ry="1.45"/><ellipse cx="604.8" cy="1193.8" rx="2.0" ry="1.45"/><ellipse cx="610.7" cy="1188.9" rx="2.0" ry="1.45"/><ellipse cx="467.5" cy="1266.6" rx="2.0" ry="1.45"/><ellipse cx="474.5" cy="1265.1" rx="2.0" ry="1.45"/><ellipse cx="481.5" cy="1263.4" rx="2.0" ry="1.45"/><ellipse cx="488.5" cy="1261.5" rx="2.0" ry="1.45"/><ellipse cx="495.4" cy="1259.5" rx="2.0" ry="1.45"/><ellipse cx="502.3" cy="1257.3" rx="2.0" ry="1.45"/><ellipse cx="509.2" cy="1254.9" rx="2.0" ry="1.45"/><ellipse cx="516.1" cy="1252.4" rx="2.0" ry="1.45"/><ellipse cx="522.9" cy="1249.7" rx="2.0" ry="1.45"/><ellipse cx="529.7" cy="1246.9" rx="2.0" ry="1.45"/><ellipse cx="536.4" cy="1243.9" rx="2.0" ry="1.45"/><ellipse cx="543.1" cy="1240.7" rx="2.0" ry="1.45"/><ellipse cx="549.7" cy="1237.4" rx="2.0" ry="1.45"/><ellipse cx="556.3" cy="1233.9" rx="2.0" ry="1.45"/><ellipse cx="562.8" cy="1230.3" rx="2.0" ry="1.45"/><ellipse cx="569.2" cy="1226.5" rx="2.0" ry="1.45"/><ellipse cx="575.6" cy="1222.6" rx="2.0" ry="1.45"/><ellipse cx="581.9" cy="1218.5" rx="2.0" ry="1.45"/><ellipse cx="588.2" cy="1214.3" rx="2.0" ry="1.45"/><ellipse cx="594.4" cy="1210" rx="2.0" ry="1.45"/><ellipse cx="600.4" cy="1205.5" rx="2.0" ry="1.45"/><ellipse cx="606.5" cy="1200.9" rx="2.0" ry="1.45"/><ellipse cx="612.4" cy="1196.1" rx="2.0" ry="1.45"/><ellipse cx="482.7" cy="1269.2" rx="2.0" ry="1.45"/><ellipse cx="489.7" cy="1267.4" rx="2.0" ry="1.45"/><ellipse cx="496.6" cy="1265.4" rx="2.0" ry="1.45"/><ellipse cx="503.6" cy="1263.3" rx="2.0" ry="1.45"/><ellipse cx="510.5" cy="1261" rx="2.0" ry="1.45"/><ellipse cx="517.3" cy="1258.5" rx="2.0" ry="1.45"/><ellipse cx="524.1" cy="1255.9" rx="2.0" ry="1.45"/><ellipse cx="530.9" cy="1253.1" rx="2.0" ry="1.45"/><ellipse cx="537.7" cy="1250.2" rx="2.0" ry="1.45"/><ellipse cx="544.4" cy="1247.1" rx="2.0" ry="1.45"/><ellipse cx="551" cy="1243.9" rx="2.0" ry="1.45"/><ellipse cx="557.6" cy="1240.5" rx="2.0" ry="1.45"/><ellipse cx="564.1" cy="1236.9" rx="2.0" ry="1.45"/><ellipse cx="570.6" cy="1233.2" rx="2.0" ry="1.45"/><ellipse cx="577" cy="1229.4" rx="2.0" ry="1.45"/><ellipse cx="583.4" cy="1225.4" rx="2.0" ry="1.45"/><ellipse cx="589.7" cy="1221.2" rx="2.0" ry="1.45"/><ellipse cx="595.9" cy="1217" rx="2.0" ry="1.45"/><ellipse cx="602" cy="1212.5" rx="2.0" ry="1.45"/><ellipse cx="608" cy="1208" rx="2.0" ry="1.45"/><ellipse cx="614" cy="1203.3" rx="2.0" ry="1.45"/><ellipse cx="619.9" cy="1198.5" rx="2.0" ry="1.45"/><ellipse cx="490.9" cy="1273.2" rx="2.0" ry="1.45"/><ellipse cx="497.8" cy="1271.3" rx="2.0" ry="1.45"/><ellipse cx="504.7" cy="1269.3" rx="2.0" ry="1.45"/><ellipse cx="511.6" cy="1267" rx="2.0" ry="1.45"/><ellipse cx="518.5" cy="1264.6" rx="2.0" ry="1.45"/><ellipse cx="525.3" cy="1262.1" rx="2.0" ry="1.45"/><ellipse cx="532.1" cy="1259.4" rx="2.0" ry="1.45"/><ellipse cx="538.9" cy="1256.5" rx="2.0" ry="1.45"/><ellipse cx="545.6" cy="1253.5" rx="2.0" ry="1.45"/><ellipse cx="552.3" cy="1250.3" rx="2.0" ry="1.45"/><ellipse cx="558.9" cy="1247" rx="2.0" ry="1.45"/><ellipse cx="565.4" cy="1243.5" rx="2.0" ry="1.45"/><ellipse cx="571.9" cy="1239.9" rx="2.0" ry="1.45"/><ellipse cx="578.4" cy="1236.1" rx="2.0" ry="1.45"/><ellipse cx="584.7" cy="1232.2" rx="2.0" ry="1.45"/><ellipse cx="591.1" cy="1228.1" rx="2.0" ry="1.45"/><ellipse cx="597.3" cy="1223.9" rx="2.0" ry="1.45"/><ellipse cx="603.5" cy="1219.6" rx="2.0" ry="1.45"/><ellipse cx="609.5" cy="1215.1" rx="2.0" ry="1.45"/><ellipse cx="615.5" cy="1210.5" rx="2.0" ry="1.45"/><ellipse cx="621.5" cy="1205.7" rx="2.0" ry="1.45"/><ellipse cx="505.8" cy="1275.2" rx="2.0" ry="1.45"/><ellipse cx="512.7" cy="1273.1" rx="2.0" ry="1.45"/><ellipse cx="519.6" cy="1270.7" rx="2.0" ry="1.45"/><ellipse cx="526.4" cy="1268.3" rx="2.0" ry="1.45"/><ellipse cx="533.2" cy="1265.6" rx="2.0" ry="1.45"/><ellipse cx="540" cy="1262.8" rx="2.0" ry="1.45"/><ellipse cx="546.7" cy="1259.9" rx="2.0" ry="1.45"/><ellipse cx="553.4" cy="1256.8" rx="2.0" ry="1.45"/><ellipse cx="560.1" cy="1253.5" rx="2.0" ry="1.45"/><ellipse cx="566.7" cy="1250.1" rx="2.0" ry="1.45"/><ellipse cx="573.2" cy="1246.6" rx="2.0" ry="1.45"/><ellipse cx="579.6" cy="1242.9" rx="2.0" ry="1.45"/><ellipse cx="586.1" cy="1239" rx="2.0" ry="1.45"/><ellipse cx="592.4" cy="1235" rx="2.0" ry="1.45"/><ellipse cx="598.7" cy="1230.9" rx="2.0" ry="1.45"/><ellipse cx="604.9" cy="1226.6" rx="2.0" ry="1.45"/><ellipse cx="611" cy="1222.2" rx="2.0" ry="1.45"/><ellipse cx="617" cy="1217.7" rx="2.0" ry="1.45"/><ellipse cx="623" cy="1213" rx="2.0" ry="1.45"/><ellipse cx="628.9" cy="1208.2" rx="2.0" ry="1.45"/><ellipse cx="517.7" cy="1277.8" rx="2.0" ry="1.45"/><ellipse cx="524.7" cy="1275.4" rx="2.0" ry="1.45"/><ellipse cx="531.7" cy="1272.9" rx="2.0" ry="1.45"/><ellipse cx="538.6" cy="1270.2" rx="2.0" ry="1.45"/><ellipse cx="545.5" cy="1267.3" rx="2.0" ry="1.45"/><ellipse cx="552.3" cy="1264.3" rx="2.0" ry="1.45"/><ellipse cx="559.1" cy="1261.1" rx="2.0" ry="1.45"/><ellipse cx="565.9" cy="1257.7" rx="2.0" ry="1.45"/><ellipse cx="572.6" cy="1254.2" rx="2.0" ry="1.45"/><ellipse cx="579.2" cy="1250.6" rx="2.0" ry="1.45"/><ellipse cx="585.8" cy="1246.7" rx="2.0" ry="1.45"/><ellipse cx="592.3" cy="1242.8" rx="2.0" ry="1.45"/><ellipse cx="598.7" cy="1238.7" rx="2.0" ry="1.45"/><ellipse cx="605.1" cy="1234.4" rx="2.0" ry="1.45"/><ellipse cx="611.4" cy="1230" rx="2.0" ry="1.45"/><ellipse cx="617.6" cy="1225.5" rx="2.0" ry="1.45"/><ellipse cx="623.7" cy="1220.8" rx="2.0" ry="1.45"/><ellipse cx="629.8" cy="1216" rx="2.0" ry="1.45"/><ellipse cx="525.7" cy="1281.6" rx="2.0" ry="1.45"/><ellipse cx="532.7" cy="1279.1" rx="2.0" ry="1.45"/><ellipse cx="539.6" cy="1276.5" rx="2.0" ry="1.45"/><ellipse cx="546.5" cy="1273.7" rx="2.0" ry="1.45"/><ellipse cx="553.4" cy="1270.7" rx="2.0" ry="1.45"/><ellipse cx="560.2" cy="1267.6" rx="2.0" ry="1.45"/><ellipse cx="566.9" cy="1264.3" rx="2.0" ry="1.45"/><ellipse cx="573.7" cy="1260.9" rx="2.0" ry="1.45"/><ellipse cx="580.3" cy="1257.3" rx="2.0" ry="1.45"/><ellipse cx="586.9" cy="1253.6" rx="2.0" ry="1.45"/><ellipse cx="593.4" cy="1249.7" rx="2.0" ry="1.45"/><ellipse cx="599.9" cy="1245.6" rx="2.0" ry="1.45"/><ellipse cx="606.3" cy="1241.5" rx="2.0" ry="1.45"/><ellipse cx="612.7" cy="1237.1" rx="2.0" ry="1.45"/><ellipse cx="618.9" cy="1232.7" rx="2.0" ry="1.45"/><ellipse cx="625.1" cy="1228.1" rx="2.0" ry="1.45"/><ellipse cx="631.2" cy="1223.3" rx="2.0" ry="1.45"/><ellipse cx="637.2" cy="1218.5" rx="2.0" ry="1.45"/><ellipse cx="540.5" cy="1282.7" rx="2.0" ry="1.45"/><ellipse cx="547.4" cy="1280" rx="2.0" ry="1.45"/><ellipse cx="554.3" cy="1277.1" rx="2.0" ry="1.45"/><ellipse cx="561.1" cy="1274.1" rx="2.0" ry="1.45"/><ellipse cx="567.9" cy="1270.9" rx="2.0" ry="1.45"/><ellipse cx="574.7" cy="1267.5" rx="2.0" ry="1.45"/><ellipse cx="581.3" cy="1264" rx="2.0" ry="1.45"/><ellipse cx="588" cy="1260.4" rx="2.0" ry="1.45"/><ellipse cx="594.5" cy="1256.6" rx="2.0" ry="1.45"/><ellipse cx="601.1" cy="1252.6" rx="2.0" ry="1.45"/><ellipse cx="607.5" cy="1248.5" rx="2.0" ry="1.45"/><ellipse cx="613.9" cy="1244.2" rx="2.0" ry="1.45"/><ellipse cx="620.2" cy="1239.9" rx="2.0" ry="1.45"/><ellipse cx="626.4" cy="1235.3" rx="2.0" ry="1.45"/><ellipse cx="632.5" cy="1230.7" rx="2.0" ry="1.45"/><ellipse cx="638.6" cy="1225.9" rx="2.0" ry="1.45"/><ellipse cx="615" cy="1251.3" rx="2.0" ry="1.45"/><ellipse cx="633.8" cy="1238" rx="2.0" ry="1.45"/><ellipse cx="639.9" cy="1233.2" rx="2.0" ry="1.45"/><ellipse cx="645.9" cy="1228.4" rx="2.0" ry="1.45"/></g>
<path d="M332.1 1234.9l-1.9 3.1M339 1236.2l-1.9 3.1M345.9 1237.4l-1.9 3.1M352.8 1238.3l-1.9 3.1M359.8 1239.1l-1.9 3.1M366.8 1239.7l-1.9 3.1M373.8 1240.2l-1.9 3.1M380.9 1240.4l-1.9 3.1M388 1240.5l-1.9 3.1M395.1 1240.4l-1.9 3.1M327.6 1238.2l-1.9 3.1M334.4 1239.8l-1.9 3.1M341.2 1241.1l-1.9 3.1M348.1 1242.3l-1.9 3.1M355 1243.3l-1.9 3.1M361.9 1244.1l-1.9 3.1M368.9 1244.8l-1.9 3.1M375.9 1245.2l-1.9 3.1M382.9 1245.5l-1.9 3.1M390 1245.6l-1.9 3.1M397.1 1245.5l-1.9 3.1M404.2 1245.3l-1.9 3.1M329.8 1243l-1.9 3.1M336.6 1244.6l-1.9 3.1M343.3 1246l-1.9 3.1M350.1 1247.2l-1.9 3.1M357 1248.2l-1.9 3.1M363.9 1249.1l-1.9 3.1M370.9 1249.8l-1.9 3.1M377.8 1250.3l-1.9 3.1M384.8 1250.6l-1.9 3.1M391.9 1250.8l-1.9 3.1M398.9 1250.7l-1.9 3.1M406 1250.5l-1.9 3.1M413.1 1250.1l-1.9 3.1M420.2 1249.6l-1.9 3.1M325.3 1246l-1.9 3.1M331.9 1247.8l-1.9 3.1M338.6 1249.4l-1.9 3.1M345.3 1250.8l-1.9 3.1M352.1 1252.1l-1.9 3.1M358.9 1253.1l-1.9 3.1M365.8 1254l-1.9 3.1M372.7 1254.8l-1.9 3.1M379.7 1255.3l-1.9 3.1M386.6 1255.7l-1.9 3.1M393.6 1255.9l-1.9 3.1M400.7 1255.9l-1.9 3.1M407.7 1255.7l-1.9 3.1M414.8 1255.4l-1.9 3.1M421.8 1254.9l-1.9 3.1M428.9 1254.2l-1.9 3.1M327.3 1250.7l-1.9 3.1M333.9 1252.5l-1.9 3.1M340.5 1254.1l-1.9 3.1M347.2 1255.6l-1.9 3.1M354 1256.9l-1.9 3.1M360.8 1258l-1.9 3.1M367.6 1258.9l-1.9 3.1M374.5 1259.7l-1.9 3.1M381.4 1260.3l-1.9 3.1M388.3 1260.7l-1.9 3.1M395.3 1261l-1.9 3.1M402.3 1261l-1.9 3.1M409.3 1260.9l-1.9 3.1M416.4 1260.7l-1.9 3.1M423.4 1260.2l-1.9 3.1M430.5 1259.6l-1.9 3.1M437.5 1258.8l-1.9 3.1M444.6 1257.8l-1.9 3.1M322.6 1253.4l-1.9 3.1M329.1 1255.4l-1.9 3.1M335.7 1257.2l-1.9 3.1M342.3 1258.9l-1.9 3.1M349 1260.4l-1.9 3.1M355.7 1261.7l-1.9 3.1M362.5 1262.9l-1.9 3.1M369.3 1263.8l-1.9 3.1M376.1 1264.6l-1.9 3.1M383 1265.3l-1.9 3.1M389.9 1265.8l-1.9 3.1M396.9 1266l-1.9 3.1M403.9 1266.2l-1.9 3.1M410.9 1266.1l-1.9 3.1M417.9 1265.9l-1.9 3.1M424.9 1265.5l-1.9 3.1M431.9 1264.9l-1.9 3.1M439 1264.2l-1.9 3.1M446 1263.3l-1.9 3.1M453 1262.2l-1.9 3.1M318 1255.7l-1.9 3.1M324.4 1257.9l-1.9 3.1M330.9 1260l-1.9 3.1M337.4 1261.8l-1.9 3.1M344 1263.6l-1.9 3.1M350.6 1265.1l-1.9 3.1M357.3 1266.5l-1.9 3.1M364.1 1267.7l-1.9 3.1M370.9 1268.7l-1.9 3.1M377.7 1269.6l-1.9 3.1M384.6 1270.2l-1.9 3.1M391.4 1270.8l-1.9 3.1M398.4 1271.1l-1.9 3.1M405.3 1271.3l-1.9 3.1M412.3 1271.3l-1.9 3.1M419.3 1271.1l-1.9 3.1M426.3 1270.8l-1.9 3.1M433.3 1270.3l-1.9 3.1M440.3 1269.6l-1.9 3.1M447.4 1268.7l-1.9 3.1M454.4 1267.7l-1.9 3.1M461.4 1266.5l-1.9 3.1M319.7 1260.2l-1.9 3.1M326.1 1262.4l-1.9 3.1M332.5 1264.5l-1.9 3.1M339 1266.4l-1.9 3.1M345.6 1268.2l-1.9 3.1M352.2 1269.8l-1.9 3.1M358.9 1271.2l-1.9 3.1M365.6 1272.4l-1.9 3.1M372.3 1273.5l-1.9 3.1M379.1 1274.4l-1.9 3.1M386 1275.2l-1.9 3.1M392.9 1275.8l-1.9 3.1M399.8 1276.2l-1.9 3.1M406.7 1276.4l-1.9 3.1M413.6 1276.4l-1.9 3.1M420.6 1276.3l-1.9 3.1M427.6 1276.1l-1.9 3.1M434.6 1275.6l-1.9 3.1M441.6 1275l-1.9 3.1M448.6 1274.2l-1.9 3.1M455.6 1273.2l-1.9 3.1M462.6 1272.1l-1.9 3.1M469.7 1270.8l-1.9 3.1M476.6 1269.3l-1.9 3.1M315.1 1262.2l-1.9 3.1M321.4 1264.6l-1.9 3.1M327.7 1266.9l-1.9 3.1M334.1 1269l-1.9 3.1M340.6 1271l-1.9 3.1M347.1 1272.8l-1.9 3.1M353.7 1274.4l-1.9 3.1M360.3 1275.9l-1.9 3.1M367 1277.2l-1.9 3.1M373.7 1278.3l-1.9 3.1M380.5 1279.3l-1.9 3.1M387.3 1280.1l-1.9 3.1M394.2 1280.7l-1.9 3.1M401 1281.2l-1.9 3.1M408 1281.5l-1.9 3.1M414.9 1281.6l-1.9 3.1M421.8 1281.5l-1.9 3.1M428.8 1281.3l-1.9 3.1M435.8 1280.9l-1.9 3.1M442.8 1280.4l-1.9 3.1M449.8 1279.6l-1.9 3.1M456.8 1278.7l-1.9 3.1M463.8 1277.7l-1.9 3.1M470.8 1276.4l-1.9 3.1M477.8 1275l-1.9 3.1M484.8 1273.5l-1.9 3.1M316.6 1266.5l-1.9 3.1M322.9 1269l-1.9 3.1M329.2 1271.3l-1.9 3.1M335.6 1273.5l-1.9 3.1M342 1275.5l-1.9 3.1M348.5 1277.4l-1.9 3.1M355 1279l-1.9 3.1M361.7 1280.6l-1.9 3.1M368.3 1281.9l-1.9 3.1M375 1283.1l-1.9 3.1M381.8 1284.1l-1.9 3.1M388.6 1285l-1.9 3.1M395.4 1285.7l-1.9 3.1M402.2 1286.2l-1.9 3.1M409.1 1286.5l-1.9 3.1M416.1 1286.7l-1.9 3.1M423 1286.7l-1.9 3.1M429.9 1286.5l-1.9 3.1M436.9 1286.2l-1.9 3.1M443.9 1285.7l-1.9 3.1M450.9 1285.1l-1.9 3.1M457.9 1284.2l-1.9 3.1M464.9 1283.2l-1.9 3.1M471.9 1282l-1.9 3.1M478.9 1280.7l-1.9 3.1M485.9 1279.2l-1.9 3.1M492.8 1277.5l-1.9 3.1M499.8 1275.7l-1.9 3.1M312.2 1268.2l-1.9 3.1M318.4 1270.9l-1.9 3.1M324.8 1273.5l-1.9 3.1M331.2 1275.9l-1.9 3.1M337.6 1278.1l-1.9 3.1M344.1 1280.2l-1.9 3.1M350.7 1282.1l-1.9 3.1M357.4 1283.9l-1.9 3.1M364.1 1285.4l-1.9 3.1M370.9 1286.8l-1.9 3.1M377.7 1288.1l-1.9 3.1M384.5 1289.1l-1.9 3.1M391.4 1290l-1.9 3.1M398.4 1290.7l-1.9 3.1M405.4 1291.3l-1.9 3.1M412.4 1291.6l-1.9 3.1M419.4 1291.8l-1.9 3.1M426.5 1291.8l-1.9 3.1M433.5 1291.7l-1.9 3.1M440.6 1291.3l-1.9 3.1M447.7 1290.8l-1.9 3.1M454.8 1290.2l-1.9 3.1M462 1289.3l-1.9 3.1M469.1 1288.3l-1.9 3.1M476.2 1287.1l-1.9 3.1M483.3 1285.7l-1.9 3.1M490.4 1284.2l-1.9 3.1M497.5 1282.5l-1.9 3.1M504.6 1280.6l-1.9 3.1M511.6 1278.5l-1.9 3.1M313.7 1272.4l-1.9 3.1M319.9 1275.1l-1.9 3.1M326.2 1277.8l-1.9 3.1M332.5 1280.2l-1.9 3.1M338.9 1282.5l-1.9 3.1M345.4 1284.7l-1.9 3.1M352 1286.6l-1.9 3.1M358.6 1288.4l-1.9 3.1M365.3 1290l-1.9 3.1M372 1291.5l-1.9 3.1M378.8 1292.8l-1.9 3.1M385.7 1293.9l-1.9 3.1M392.5 1294.9l-1.9 3.1M399.5 1295.6l-1.9 3.1M406.4 1296.2l-1.9 3.1M413.4 1296.7l-1.9 3.1M420.4 1296.9l-1.9 3.1M427.4 1297l-1.9 3.1M434.5 1296.9l-1.9 3.1M441.6 1296.6l-1.9 3.1M448.7 1296.2l-1.9 3.1M455.8 1295.6l-1.9 3.1M462.9 1294.8l-1.9 3.1M470 1293.8l-1.9 3.1M477.1 1292.7l-1.9 3.1M484.2 1291.4l-1.9 3.1M491.3 1289.9l-1.9 3.1M498.4 1288.3l-1.9 3.1M505.5 1286.5l-1.9 3.1M512.6 1284.5l-1.9 3.1M519.6 1282.4l-1.9 3.1M309 1273.5l-1.9 3.1M315 1276.5l-1.9 3.1M321.2 1279.3l-1.9 3.1M327.5 1282l-1.9 3.1M333.8 1284.5l-1.9 3.1M340.2 1286.9l-1.9 3.1M346.6 1289l-1.9 3.1M353.2 1291.1l-1.9 3.1M359.8 1292.9l-1.9 3.1M366.4 1294.6l-1.9 3.1M373.1 1296.1l-1.9 3.1M379.9 1297.5l-1.9 3.1M386.7 1298.6l-1.9 3.1M393.6 1299.7l-1.9 3.1M400.4 1300.5l-1.9 3.1M407.4 1301.2l-1.9 3.1M414.3 1301.6l-1.9 3.1M421.3 1302l-1.9 3.1M428.4 1302.1l-1.9 3.1M435.4 1302.1l-1.9 3.1M442.5 1301.9l-1.9 3.1M449.6 1301.5l-1.9 3.1M456.7 1301l-1.9 3.1M463.8 1300.3l-1.9 3.1M470.9 1299.4l-1.9 3.1M478 1298.3l-1.9 3.1M485.1 1297.1l-1.9 3.1M492.2 1295.7l-1.9 3.1M499.3 1294.1l-1.9 3.1M506.4 1292.4l-1.9 3.1M513.4 1290.5l-1.9 3.1M520.5 1288.4l-1.9 3.1M527.5 1286.2l-1.9 3.1M534.4 1283.8l-1.9 3.1M310.3 1277.5l-1.9 3.1M316.3 1280.5l-1.9 3.1M322.5 1283.4l-1.9 3.1M328.7 1286.2l-1.9 3.1M335 1288.7l-1.9 3.1M341.3 1291.1l-1.9 3.1M347.8 1293.4l-1.9 3.1M354.3 1295.5l-1.9 3.1M360.8 1297.4l-1.9 3.1M367.5 1299.1l-1.9 3.1M374.1 1300.7l-1.9 3.1M380.9 1302.1l-1.9 3.1M387.7 1303.3l-1.9 3.1M394.5 1304.4l-1.9 3.1M401.4 1305.3l-1.9 3.1M408.3 1306l-1.9 3.1M415.2 1306.6l-1.9 3.1M422.2 1307l-1.9 3.1M429.2 1307.2l-1.9 3.1M436.2 1307.3l-1.9 3.1M443.3 1307.1l-1.9 3.1M450.4 1306.8l-1.9 3.1M457.5 1306.4l-1.9 3.1M464.6 1305.7l-1.9 3.1" fill="none" stroke="#000" stroke-width="2.5" stroke-linecap="round"/>
<ellipse cx="272" cy="1228" rx="2.3" ry="1.1" transform="rotate(-30 272 1228)" fill="#000"/>
<ellipse cx="277.2" cy="1229.2" rx="2.3" ry="1.1" transform="rotate(-30 277.2 1229.2)" fill="#000"/>
<ellipse cx="282.4" cy="1230.4" rx="2.3" ry="1.1" transform="rotate(-30 282.4 1230.4)" fill="#000"/>
<ellipse cx="287.6" cy="1231.6" rx="2.3" ry="1.1" transform="rotate(-30 287.6 1231.6)" fill="#000"/>
<ellipse cx="292.8" cy="1232.8" rx="2.3" ry="1.1" transform="rotate(-30 292.8 1232.8)" fill="#000"/>
<ellipse cx="298" cy="1234" rx="2.3" ry="1.1" transform="rotate(-30 298 1234)" fill="#000"/>
<ellipse cx="279.4" cy="1235.7" rx="2.3" ry="1.1" transform="rotate(-30 279.4 1235.7)" fill="#000"/>
<ellipse cx="284.6" cy="1236.9" rx="2.3" ry="1.1" transform="rotate(-30 284.6 1236.9)" fill="#000"/>
<ellipse cx="289.8" cy="1238.1" rx="2.3" ry="1.1" transform="rotate(-30 289.8 1238.1)" fill="#000"/>
<ellipse cx="295" cy="1239.3" rx="2.3" ry="1.1" transform="rotate(-30 295 1239.3)" fill="#000"/>
<ellipse cx="300.2" cy="1240.5" rx="2.3" ry="1.1" transform="rotate(-30 300.2 1240.5)" fill="#000"/>
<ellipse cx="286.8" cy="1243.4" rx="2.3" ry="1.1" transform="rotate(-30 286.8 1243.4)" fill="#000"/>
<ellipse cx="292" cy="1244.6" rx="2.3" ry="1.1" transform="rotate(-30 292 1244.6)" fill="#000"/>
<ellipse cx="297.2" cy="1245.8" rx="2.3" ry="1.1" transform="rotate(-30 297.2 1245.8)" fill="#000"/>
<ellipse cx="302.4" cy="1247" rx="2.3" ry="1.1" transform="rotate(-30 302.4 1247)" fill="#000"/>
<ellipse cx="289" cy="1249.9" rx="2.3" ry="1.1" transform="rotate(-30 289 1249.9)" fill="#000"/>
<ellipse cx="294.2" cy="1251.1" rx="2.3" ry="1.1" transform="rotate(-30 294.2 1251.1)" fill="#000"/>
<ellipse cx="299.4" cy="1252.3" rx="2.3" ry="1.1" transform="rotate(-30 299.4 1252.3)" fill="#000"/>
<ellipse cx="296.4" cy="1257.6" rx="2.3" ry="1.1" transform="rotate(-30 296.4 1257.6)" fill="#000"/>
<ellipse cx="301.6" cy="1258.8" rx="2.3" ry="1.1" transform="rotate(-30 301.6 1258.8)" fill="#000"/>
<circle cx="602" cy="1158" r="1.5" fill="#000" stroke="#000" stroke-width="1.2"/>
<circle cx="606.9" cy="1163" r="2.1" fill="none" stroke="#000" stroke-width="1.2"/>
<circle cx="611.8" cy="1168" r="1.5" fill="#000" stroke="#000" stroke-width="1.2"/>
<circle cx="616.7" cy="1173" r="2.1" fill="none" stroke="#000" stroke-width="1.2"/>
<circle cx="621.6" cy="1178" r="1.5" fill="#000" stroke="#000" stroke-width="1.2"/>
<circle cx="616.1" cy="1180.5" r="1.4" fill="#000"/>
<circle cx="626.5" cy="1183" r="2.1" fill="none" stroke="#000" stroke-width="1.2"/>
<circle cx="621" cy="1185.5" r="1.4" fill="#000"/>
<circle cx="631.4" cy="1188" r="1.5" fill="#000" stroke="#000" stroke-width="1.2"/>
<circle cx="625.9" cy="1190.5" r="1.4" fill="#000"/>
<circle cx="636.3" cy="1193" r="2.1" fill="none" stroke="#000" stroke-width="1.2"/>
<circle cx="630.8" cy="1195.5" r="1.4" fill="#000"/>
<circle cx="641.2" cy="1198" r="1.5" fill="#000" stroke="#000" stroke-width="1.2"/>
<circle cx="635.7" cy="1200.5" r="1.4" fill="#000"/>
<circle cx="646.1" cy="1203" r="2.1" fill="none" stroke="#000" stroke-width="1.2"/>
<circle cx="640.6" cy="1205.5" r="1.4" fill="#000"/>
<circle cx="651" cy="1208" r="1.5" fill="#000" stroke="#000" stroke-width="1.2"/>
<circle cx="645.5" cy="1210.5" r="1.4" fill="#000"/>
<circle cx="655.9" cy="1213" r="2.1" fill="none" stroke="#000" stroke-width="1.2"/>
<circle cx="650.4" cy="1215.5" r="1.4" fill="#000"/>
<path d="M306.5 1274.6 L325 1241" fill="none" stroke="#000" stroke-width="1.2" stroke-linejoin="round" stroke-linecap="round"/>
<path d="M304.8 1277.6 L309.3 1280 L313.8 1282.3 L318.3 1284.6 L322.9 1286.7 L327.5 1288.7 L332.2 1290.7 L336.9 1292.6 L341.7 1294.4 L346.5 1296 L351.3 1297.6 L356.2 1299.1 L361.1 1300.5 L366 1301.9 L371 1303.1 L376 1304.2 L381 1305.3 L386.1 1306.2 L391.1 1307.1 L396.2 1307.8 L401.4 1308.5 L406.5 1309 L411.7 1309.5 L416.9 1309.9 L422.1 1310.2 L427.3 1310.4 L432.6 1310.4 L437.8 1310.4 L443.1 1310.3 L448.4 1310.1 L453.6 1309.8 L458.9 1309.5 L464.2 1309 L469.5 1308.4 L474.8 1307.7 L480.1 1306.9 L485.4 1306.1 L490.7 1305.1 L496 1304.1 L501.3 1302.9 L506.6 1301.7 L511.9 1300.4 L517.2 1298.9 L522.4 1297.4 L527.6 1295.8 L532.9 1294.1 L538.1 1292.3 L543.3 1290.4 L548.5 1288.5 L553.6 1286.4 L558.8 1284.3" fill="none" stroke="#000" stroke-width="1.1" stroke-linejoin="round" stroke-linecap="round" stroke-dasharray="10 3 3 3"/>
<path d="M443.9 154.5 L444.4 143 L445.3 133 L447 121 L449.5 110.7 L452.5 102.5 L456.4 95.4 L461 87.5 L466.2 80 L471 73.5 L476 68.2 L480 65.5 L484.3 64 L488.5 64 L492.6 65.4 L496.3 68 L499.6 71.7 L502.6 77 L505.2 82.8 L507.3 89.5 L509.3 96.8 L511.4 105 L513.5 113.5 L515.3 120.5 L517 127.4 L518.6 130.6 L520.5 133" fill="none" stroke="#000" stroke-width="2.3" stroke-linejoin="round" stroke-linecap="round"/>
<path d="M454.4 154.5 L454.6 145 L455 135.7 L456.2 126.5 L457.8 117.6 L460.3 109 L463.4 101 L468 93 L473.1 85.6 L477.5 80.3 L481.5 75.9 L483.7 73.9 L485.7 72.8 L488.2 73.7 L490.5 75.9 L493 81 L495.4 87 L497.6 95 L499.6 103.7 L501.3 112.5 L503 121.8 L504.2 128 L505.2 133" fill="none" stroke="#000" stroke-width="2.3" stroke-linejoin="round" stroke-linecap="round"/>
<path d="M452 137 L452.4 153.5" fill="none" stroke="#222" stroke-width="2.4" stroke-linejoin="round" stroke-linecap="round"/>
<path d="M447.6 130 L447.2 140" fill="none" stroke="#555" stroke-width="1" stroke-linejoin="round" stroke-linecap="round"/>
<path d="M505.2 133 L503 136 L502.6 140 L504 144 L507 146.5 L505 147 L499.6 148.5 L496.5 150.5 L494 153.1" fill="none" stroke="#000" stroke-width="2" stroke-linejoin="round" stroke-linecap="round"/>
<path d="M520.5 133 L522 135.5 L520.7 137.2 L527.4 134.3 L531.5 135 L534.4 137.1 L536.3 140 L536.5 142.7 L535.3 145.5 L533 146.9 L529.5 146.7 L526 145.5 L522.5 144.3 L520.3 145.6 L519 147 L523 148.5 L527.4 151 L530.2 152.2" fill="none" stroke="#000" stroke-width="2" stroke-linejoin="round" stroke-linecap="round"/>
<circle cx="510.4" cy="138.2" r="1.4" fill="#000"/><ellipse cx="516.6" cy="140.2" rx="1.6" ry="2.3" fill="#000"/><circle cx="523.2" cy="140.4" r="1.2" fill="#000"/>
<path d="M545.4 130.9 L557.2 130.9 L557.2 125.3 L569.8 135.6 L557.2 145.7 L557.2 140.5 L545.4 140.5 Z" fill="none" stroke="#000" stroke-width="3" stroke-linejoin="round" stroke-linecap="butt"/>
<path d="M454.4 154.5 L494 153.1" fill="none" stroke="#000" stroke-width="2" stroke-linejoin="round" stroke-linecap="round"/>
<path d="M530.2 152.2 L580 151.8 L615 152.3 L630 153.4 L636.3 156" fill="none" stroke="#000" stroke-width="2" stroke-linejoin="round" stroke-linecap="round"/>
<path d="M394 158.8 L410 156.8 L443.9 154.5" fill="none" stroke="#000" stroke-width="2" stroke-linejoin="round" stroke-linecap="round"/>
<path d="M395 162.7 L410 161 L443 159 L480 157.5 L530 156.3 L580 156 L615 156.3 L630 157.2 L635.5 159" fill="none" stroke="#000" stroke-width="1.6" stroke-linejoin="round" stroke-linecap="round"/>
<path d="M394 158.8 L394.3 163 L397.2 326" fill="none" stroke="#000" stroke-width="2" stroke-linejoin="round" stroke-linecap="round"/>
<path d="M636.3 156 L635.6 160 L634.6 323.4" fill="none" stroke="#000" stroke-width="2" stroke-linejoin="round" stroke-linecap="round"/>
<path d="M397.2 325.6 L440 326.8 L500 327.4 L560 326.6 L600 325 L634.6 322.8" fill="none" stroke="#000" stroke-width="1.8" stroke-linejoin="round" stroke-linecap="round"/>
<path d="M397.2 329.8 L440 330.6 L500 330.6 L560 329.6 L600 328.2 L634.6 326.4" fill="none" stroke="#000" stroke-width="1.8" stroke-linejoin="round" stroke-linecap="round"/>
<path d="M397.2 325.6 L397.2 329.8" fill="none" stroke="#000" stroke-width="1.8" stroke-linejoin="round" stroke-linecap="round"/>
<path d="M634.6 322.8 L634.6 326.4" fill="none" stroke="#000" stroke-width="1.8" stroke-linejoin="round" stroke-linecap="round"/>
<path d="M425 161 L427 240 L429 326" fill="none" stroke="#2a2a2a" stroke-width="2.6" stroke-linejoin="round" stroke-linecap="round"/>
<path d="M467 161 L468.5 240 L470 326" fill="none" stroke="#2a2a2a" stroke-width="2.8" stroke-linejoin="round" stroke-linecap="round"/>
<path d="M556.9 161 L558 240 L559 326" fill="none" stroke="#2a2a2a" stroke-width="3" stroke-linejoin="round" stroke-linecap="round"/>
<path d="M597.5 161 L598.8 240 L600 326" fill="none" stroke="#2a2a2a" stroke-width="2.6" stroke-linejoin="round" stroke-linecap="round"/>
<path d="M603 161 L603.8 240 L604.5 326" fill="none" stroke="#2a2a2a" stroke-width="1.4" stroke-linejoin="round" stroke-linecap="round"/>
<path d="M625.8 161 L626.1 240 L626.5 326" fill="none" stroke="#2a2a2a" stroke-width="1.8" stroke-linejoin="round" stroke-linecap="round"/>
<g fill="none"><path d="M438.9 250.6v7" stroke="#222" stroke-width="1.3"/><path d="M575 227.9v5" stroke="#555" stroke-width="0.7"/><path d="M418.7 237.4v3" stroke="#222" stroke-width="0.7"/><path d="M601 320.3v3" stroke="#333" stroke-width="1"/><path d="M600.5 213.3v3" stroke="#000" stroke-width="1"/><path d="M463.5 257.4v4" stroke="#555" stroke-width="1.3"/><path d="M600.4 238.4v2" stroke="#555" stroke-width="2.2"/><path d="M466.1 258.9v3" stroke="#888" stroke-width="0.9"/><path d="M447.6 199v7" stroke="#000" stroke-width="1.3"/><path d="M417.6 302.2v3" stroke="#888" stroke-width="0.9"/><path d="M457.1 293.4v7" stroke="#777" stroke-width="1"/><path d="M585.2 259.5v3" stroke="#222" stroke-width="0.9"/><path d="M413.9 226.7v3" stroke="#000" stroke-width="0.7"/><path d="M552 246v2" stroke="#333" stroke-width="0.7"/><path d="M608.2 272v2" stroke="#000" stroke-width="1.3"/><path d="M507.2 217.9v3" stroke="#000" stroke-width="0.7"/><path d="M540.9 259.2v4" stroke="#000" stroke-width="0.9"/><path d="M604.3 219.6v1.5" stroke="#888" stroke-width="1.6"/><path d="M580.5 308.2v4" stroke="#888" stroke-width="0.7"/><path d="M545.4 272.9v1.5" stroke="#555" stroke-width="2.2"/><path d="M614.1 294.6v2" stroke="#000" stroke-width="0.7"/><path d="M518.8 248.4v5" stroke="#888" stroke-width="1.6"/><path d="M412.1 265.9v10" stroke="#777" stroke-width="2.2"/><path d="M604.3 315.1v2" stroke="#777" stroke-width="1"/><path d="M616.6 279.8v3" stroke="#888" stroke-width="0.9"/><path d="M425.2 195.5v7" stroke="#222" stroke-width="1"/><path d="M522.5 271.5v3" stroke="#555" stroke-width="0.9"/><path d="M564 194v2" stroke="#333" stroke-width="1"/><path d="M593.2 275.2v3" stroke="#222" stroke-width="2.2"/><path d="M597.2 227.1v10" stroke="#888" stroke-width="1"/><path d="M421.6 248.4v3" stroke="#777" stroke-width="2.2"/><path d="M604 224.9v3" stroke="#333" stroke-width="0.7"/><path d="M473.8 178.7v2" stroke="#777" stroke-width="1.6"/><path d="M576.2 249.5v3" stroke="#555" stroke-width="2.2"/><path d="M623.3 161.7v7" stroke="#888" stroke-width="1.3"/><path d="M467.1 273v10" stroke="#777" stroke-width="1.3"/><path d="M434.6 297.5v3" stroke="#555" stroke-width="0.7"/><path d="M564.1 181v7" stroke="#888" stroke-width="0.9"/><path d="M399.5 249.1v10" stroke="#333" stroke-width="2.2"/><path d="M413.2 263.4v2" stroke="#222" stroke-width="0.9"/><path d="M623.5 318.3v5.7" stroke="#333" stroke-width="2.2"/><path d="M427.3 217.4v5" stroke="#333" stroke-width="2.2"/><path d="M609.2 269.1v5" stroke="#000" stroke-width="2.2"/><path d="M551 236.2v10" stroke="#777" stroke-width="1.6"/><path d="M556.6 313.2v7" stroke="#888" stroke-width="1.3"/><path d="M453.6 231.2v10" stroke="#888" stroke-width="1"/><path d="M427.4 167.8v10" stroke="#333" stroke-width="1"/><path d="M617.6 301v3" stroke="#222" stroke-width="1"/><path d="M518.6 252.8v3" stroke="#777" stroke-width="1"/><path d="M424.7 317v7" stroke="#777" stroke-width="1"/><path d="M527.5 239.5v2" stroke="#777" stroke-width="0.7"/><path d="M401.4 198.2v2" stroke="#555" stroke-width="1"/><path d="M613.2 309v10" stroke="#000" stroke-width="1"/><path d="M610.9 164.8v3" stroke="#888" stroke-width="0.9"/><path d="M403.2 191.4v3" stroke="#888" stroke-width="0.7"/><path d="M572.3 246.9v7" stroke="#777" stroke-width="1.6"/><path d="M595.1 273.6v5" stroke="#555" stroke-width="0.7"/><path d="M418.9 163.8v10" stroke="#222" stroke-width="1.6"/><path d="M615.9 312.7v4" stroke="#333" stroke-width="0.9"/><path d="M452.4 216.5v2" stroke="#222" stroke-width="0.9"/><path d="M450.6 202v2" stroke="#555" stroke-width="1"/><path d="M420.1 252.3v4" stroke="#333" stroke-width="2.2"/><path d="M598.7 321.8v2.2" stroke="#000" stroke-width="2.2"/><path d="M603.7 257.2v10" stroke="#555" stroke-width="1.3"/><path d="M470.1 178.6v2" stroke="#222" stroke-width="2.2"/><path d="M611.2 175.4v1.5" stroke="#888" stroke-width="0.9"/><path d="M419.5 303.3v10" stroke="#555" stroke-width="1"/><path d="M567.8 296.8v2" stroke="#555" stroke-width="1"/><path d="M590.6 217.3v2" stroke="#777" stroke-width="0.7"/><path d="M472.5 173.7v5" stroke="#777" stroke-width="1.3"/><path d="M605.6 319.2v3" stroke="#000" stroke-width="1"/><path d="M576.9 292v5" stroke="#333" stroke-width="0.9"/><path d="M557.8 284.3v2" stroke="#222" stroke-width="1"/><path d="M414.2 215.4v7" stroke="#000" stroke-width="0.7"/><path d="M625.8 306.2v1.5" stroke="#333" stroke-width="0.9"/><path d="M551.2 214.7v5" stroke="#222" stroke-width="1.3"/><path d="M608.8 291.1v3" stroke="#000" stroke-width="1.6"/><path d="M623.4 163.7v2" stroke="#222" stroke-width="1.6"/><path d="M586.2 265v1.5" stroke="#333" stroke-width="0.7"/><path d="M556.6 249.1v10" stroke="#777" stroke-width="1"/><path d="M416.2 265.2v2" stroke="#777" stroke-width="1.3"/><path d="M505.8 279.9v5" stroke="#222" stroke-width="1"/><path d="M522.6 256.6v5" stroke="#555" stroke-width="1"/><path d="M499.7 205.5v3" stroke="#000" stroke-width="0.7"/><path d="M532.7 262.5v5" stroke="#888" stroke-width="2.2"/><path d="M472 198.2v4" stroke="#222" stroke-width="0.7"/><path d="M421.3 245.1v1.5" stroke="#000" stroke-width="1.3"/><path d="M564.2 235.9v3" stroke="#888" stroke-width="1.3"/><path d="M600 299.5v4" stroke="#222" stroke-width="1.3"/><path d="M599.7 182.6v5" stroke="#777" stroke-width="1"/><path d="M600.2 280.5v2" stroke="#888" stroke-width="1"/><path d="M591.9 178.4v3" stroke="#777" stroke-width="2.2"/><path d="M571.1 249.7v3" stroke="#333" stroke-width="1.6"/><path d="M441.7 200.3v3" stroke="#000" stroke-width="1.6"/><path d="M501.7 267.9v1.5" stroke="#222" stroke-width="0.7"/><path d="M542.2 249.7v2" stroke="#222" stroke-width="1.3"/><path d="M585.3 227.5v4" stroke="#555" stroke-width="1"/><path d="M590.9 172v2" stroke="#777" stroke-width="1"/><path d="M574.9 232v3" stroke="#222" stroke-width="1"/><path d="M469.8 229.4v2" stroke="#888" stroke-width="1"/><path d="M417.8 290.7v10" stroke="#555" stroke-width="0.7"/><path d="M618.3 263.5v1.5" stroke="#333" stroke-width="0.7"/><path d="M617.4 240.2v4" stroke="#222" stroke-width="1"/><path d="M619.5 277.6v4" stroke="#333" stroke-width="0.7"/><path d="M528.9 308.8v3" stroke="#777" stroke-width="1"/><path d="M468.1 211.5v5" stroke="#777" stroke-width="1.6"/><path d="M557.7 269.7v5" stroke="#222" stroke-width="2.2"/><path d="M482.7 223.2v2" stroke="#777" stroke-width="2.2"/><path d="M518.3 193.5v3" stroke="#000" stroke-width="2.2"/><path d="M430.1 248.2v3" stroke="#888" stroke-width="0.7"/><path d="M495.2 254.3v3" stroke="#777" stroke-width="2.2"/><path d="M425.5 210.8v1.5" stroke="#888" stroke-width="1.6"/><path d="M488.9 294.6v4" stroke="#555" stroke-width="2.2"/><path d="M467.8 166.7v2" stroke="#555" stroke-width="1"/><path d="M538.9 250.7v5" stroke="#888" stroke-width="2.2"/><path d="M505.7 222.7v7" stroke="#888" stroke-width="1.3"/><path d="M553.9 228.3v5" stroke="#222" stroke-width="0.9"/><path d="M625.9 220.8v2" stroke="#222" stroke-width="1"/><path d="M415.7 167.6v1.5" stroke="#333" stroke-width="1"/><path d="M467.8 185.2v2" stroke="#555" stroke-width="0.7"/><path d="M615.9 307.3v1.5" stroke="#000" stroke-width="1"/><path d="M558 276.2v10" stroke="#555" stroke-width="0.9"/><path d="M562 225.2v3" stroke="#777" stroke-width="1.6"/><path d="M524.6 298.2v7" stroke="#333" stroke-width="1"/><path d="M419.4 215.2v1.5" stroke="#222" stroke-width="0.9"/><path d="M486.5 245.5v10" stroke="#333" stroke-width="2.2"/><path d="M411.3 309.7v1.5" stroke="#555" stroke-width="2.2"/><path d="M501.5 199.9v5" stroke="#222" stroke-width="1.3"/><path d="M478.7 230.9v10" stroke="#888" stroke-width="0.9"/><path d="M540.5 243.6v1.5" stroke="#777" stroke-width="0.9"/><path d="M587.1 173.4v3" stroke="#888" stroke-width="1.3"/><path d="M420.6 212v10" stroke="#777" stroke-width="2.2"/><path d="M434.6 222.9v2" stroke="#555" stroke-width="2.2"/><path d="M596 313.3v3" stroke="#333" stroke-width="1"/><path d="M591.6 296.4v2" stroke="#000" stroke-width="1"/><path d="M422.3 223.9v7" stroke="#000" stroke-width="1.6"/><path d="M502.3 267.7v7" stroke="#333" stroke-width="0.9"/><path d="M568.9 213.4v3" stroke="#222" stroke-width="1.3"/><path d="M604.9 317.5v4" stroke="#555" stroke-width="2.2"/><path d="M419.7 213.6v2" stroke="#333" stroke-width="1"/><path d="M527.4 277.3v4" stroke="#555" stroke-width="1"/><path d="M472.7 260.7v2" stroke="#888" stroke-width="1.6"/><path d="M439.4 225.2v7" stroke="#888" stroke-width="1.3"/><path d="M488.3 230.3v2" stroke="#555" stroke-width="1"/><path d="M430 193.3v2" stroke="#888" stroke-width="2.2"/><path d="M469.2 199.9v5" stroke="#888" stroke-width="1.3"/><path d="M513.9 251.1v1.5" stroke="#333" stroke-width="1"/><path d="M548.9 265.4v2" stroke="#555" stroke-width="1.3"/><path d="M560.1 259.1v2" stroke="#777" stroke-width="1"/><path d="M524.1 217.1v10" stroke="#222" stroke-width="1.3"/><path d="M435.2 224.3v3" stroke="#000" stroke-width="1.3"/><path d="M443.7 206.5v7" stroke="#555" stroke-width="1.3"/><path d="M473.7 310.5v4" stroke="#555" stroke-width="1"/><path d="M502 278.2v3" stroke="#777" stroke-width="1.3"/><path d="M539.2 273.3v4" stroke="#222" stroke-width="1.3"/><path d="M424 206.7v4" stroke="#777" stroke-width="0.9"/><path d="M439.4 190.7v2" stroke="#000" stroke-width="1"/><path d="M485.8 255.9v1.5" stroke="#222" stroke-width="0.9"/><path d="M517.8 267.5v5" stroke="#333" stroke-width="0.9"/><path d="M513.4 303.1v1.5" stroke="#000" stroke-width="1.6"/><path d="M579.1 225.3v7" stroke="#000" stroke-width="1.3"/><path d="M612.9 216.8v5" stroke="#333" stroke-width="2.2"/><path d="M580 182.4v5" stroke="#555" stroke-width="2.2"/><path d="M433.1 245.1v5" stroke="#000" stroke-width="1"/><path d="M439.6 237.9v5" stroke="#555" stroke-width="1.6"/><path d="M595.2 296.9v3" stroke="#555" stroke-width="0.7"/><path d="M588.4 317.6v6.4" stroke="#000" stroke-width="1.6"/><path d="M510.2 256.3v3" stroke="#888" stroke-width="0.7"/><path d="M551.1 300.4v5" stroke="#222" stroke-width="1.3"/><path d="M622.8 171.6v10" stroke="#222" stroke-width="2.2"/><path d="M604.7 253.3v7" stroke="#333" stroke-width="0.7"/><path d="M561.3 231.4v7" stroke="#777" stroke-width="2.2"/><path d="M572.6 223.9v3" stroke="#555" stroke-width="0.7"/><path d="M468.8 240.7v7" stroke="#222" stroke-width="0.9"/><path d="M439.6 254.5v4" stroke="#000" stroke-width="1"/><path d="M627.5 318.2v2" stroke="#888" stroke-width="1"/><path d="M619.1 204.4v5" stroke="#222" stroke-width="1.6"/><path d="M430.4 252.9v3" stroke="#888" stroke-width="0.7"/><path d="M459.9 276.7v10" stroke="#333" stroke-width="1.6"/><path d="M483.7 267.2v2" stroke="#777" stroke-width="1.3"/><path d="M559.2 305.1v2" stroke="#222" stroke-width="1.6"/><path d="M421 215.5v10" stroke="#777" stroke-width="0.7"/><path d="M399.6 255v10" stroke="#555" stroke-width="1"/><path d="M418 206.2v3" stroke="#222" stroke-width="0.9"/><path d="M611.3 268.9v1.5" stroke="#555" stroke-width="1.3"/><path d="M532.5 160.4v7" stroke="#222" stroke-width="0.7"/><path d="M553.7 241.9v10" stroke="#777" stroke-width="1.6"/><path d="M473.7 268.3v10" stroke="#333" stroke-width="2.2"/><path d="M580 198.2v7" stroke="#222" stroke-width="1.3"/><path d="M536.8 202.3v3" stroke="#888" stroke-width="1.3"/><path d="M602.8 301.4v2" stroke="#222" stroke-width="1"/><path d="M618.1 262.1v3" stroke="#000" stroke-width="2.2"/><path d="M460 288.2v3" stroke="#222" stroke-width="1.3"/><path d="M594.3 166.9v4" stroke="#777" stroke-width="2.2"/><path d="M577.6 284v7" stroke="#888" stroke-width="0.7"/><path d="M437.5 201.3v2" stroke="#888" stroke-width="1"/><path d="M579.6 215.3v4" stroke="#222" stroke-width="1.6"/><path d="M618.2 180.8v2" stroke="#888" stroke-width="0.9"/><path d="M519.9 255.5v10" stroke="#000" stroke-width="0.9"/><path d="M577 279.2v1.5" stroke="#888" stroke-width="1.6"/><path d="M566.8 197.2v3" stroke="#777" stroke-width="0.7"/><path d="M494.2 173.9v3" stroke="#333" stroke-width="1"/><path d="M413.6 241.3v1.5" stroke="#333" stroke-width="1.6"/><path d="M514.4 182.4v3" stroke="#555" stroke-width="1"/><path d="M447.5 216.3v2" stroke="#777" stroke-width="2.2"/><path d="M508.4 224.8v7" stroke="#333" stroke-width="2.2"/><path d="M623.6 278.9v7" stroke="#777" stroke-width="0.9"/><path d="M545.7 288.7v3" stroke="#000" stroke-width="1.3"/><path d="M506.5 264.5v3" stroke="#000" stroke-width="1"/><path d="M546 231.8v2" stroke="#222" stroke-width="2.2"/><path d="M606.6 163.3v4" stroke="#555" stroke-width="2.2"/><path d="M610.8 317.3v6.7" stroke="#000" stroke-width="1.6"/><path d="M514 263.6v10" stroke="#222" stroke-width="1.3"/><path d="M550.2 272.4v10" stroke="#777" stroke-width="1.6"/><path d="M411.8 220.2v7" stroke="#222" stroke-width="1"/><path d="M572.7 241.2v4" stroke="#222" stroke-width="1.3"/><path d="M425.9 161.8v3" stroke="#888" stroke-width="1.6"/><path d="M460 250.4v4" stroke="#000" stroke-width="1.6"/><path d="M597.7 198v3" stroke="#555" stroke-width="0.7"/><path d="M604.4 213.2v7" stroke="#333" stroke-width="1.6"/><path d="M600.5 192.7v2" stroke="#888" stroke-width="1"/><path d="M517.7 280.3v5" stroke="#222" stroke-width="2.2"/><path d="M511 246.7v1.5" stroke="#000" stroke-width="1"/><path d="M545.2 278.3v5" stroke="#777" stroke-width="1"/><path d="M473.5 199.2v1.5" stroke="#333" stroke-width="1"/><path d="M528.1 202.4v2" stroke="#555" stroke-width="1.6"/><path d="M470.7 175.9v3" stroke="#000" stroke-width="2.2"/><path d="M602.7 234.4v2" stroke="#555" stroke-width="2.2"/><path d="M485.8 307.4v1.5" stroke="#222" stroke-width="2.2"/><path d="M460.8 240.2v7" stroke="#222" stroke-width="0.7"/><path d="M504.5 234.3v3" stroke="#000" stroke-width="1.3"/><path d="M623.4 160.6v10" stroke="#888" stroke-width="1"/><path d="M416.2 293.4v4" stroke="#333" stroke-width="1"/><path d="M421.7 272.7v2" stroke="#222" stroke-width="0.9"/><path d="M613.2 271.7v3" stroke="#555" stroke-width="1"/><path d="M616.3 292v4" stroke="#222" stroke-width="1.6"/><path d="M567.6 302.2v2" stroke="#000" stroke-width="2.2"/><path d="M469.3 297.5v10" stroke="#888" stroke-width="2.2"/><path d="M433.2 160.8v7" stroke="#333" stroke-width="0.7"/><path d="M602.3 201v3" stroke="#888" stroke-width="1"/><path d="M440.2 298.7v3" stroke="#777" stroke-width="2.2"/><path d="M528.5 228.1v2" stroke="#888" stroke-width="1.3"/><path d="M582.3 180.3v5" stroke="#888" stroke-width="1.3"/><path d="M511.6 196.5v2" stroke="#888" stroke-width="1"/><path d="M512 255.2v2" stroke="#222" stroke-width="0.7"/><path d="M425.2 166.9v3" stroke="#888" stroke-width="1"/><path d="M594.8 187.7v2" stroke="#555" stroke-width="1"/><path d="M590.9 206v5" stroke="#777" stroke-width="1.6"/><path d="M553.3 275v3" stroke="#333" stroke-width="1.3"/><path d="M431.8 188.4v2" stroke="#333" stroke-width="1.3"/><path d="M497.5 184.6v1.5" stroke="#777" stroke-width="1"/><path d="M502.9 201.3v3" stroke="#555" stroke-width="0.7"/><path d="M599 202.1v1.5" stroke="#000" stroke-width="0.9"/><path d="M556.7 214.5v2" stroke="#222" stroke-width="2.2"/><path d="M492 165.2v4" stroke="#777" stroke-width="2.2"/><path d="M442.6 249.1v3" stroke="#222" stroke-width="1"/><path d="M596.9 321.1v2.9" stroke="#888" stroke-width="1.3"/><path d="M435.5 313v10" stroke="#888" stroke-width="0.7"/><path d="M565.8 170.2v7" stroke="#222" stroke-width="0.7"/><path d="M558.3 161.8v10" stroke="#222" stroke-width="1"/><path d="M567.1 224.7v10" stroke="#888" stroke-width="2.2"/><path d="M624.8 176.3v7" stroke="#888" stroke-width="1"/><path d="M609.9 238v4" stroke="#888" stroke-width="1"/><path d="M505.3 196.2v7" stroke="#333" stroke-width="1"/><path d="M468.7 196.3v3" stroke="#222" stroke-width="1.6"/><path d="M550.3 268.5v5" stroke="#000" stroke-width="0.7"/><path d="M446.6 232.7v10" stroke="#222" stroke-width="2.2"/><path d="M471.5 212v2" stroke="#333" stroke-width="1.3"/><path d="M491.1 292.3v2" stroke="#333" stroke-width="2.2"/><path d="M603.8 189.7v4" stroke="#000" stroke-width="1.3"/><path d="M624 267.3v1.5" stroke="#777" stroke-width="0.9"/><path d="M422.6 243.6v10" stroke="#000" stroke-width="1.3"/><path d="M623.2 267.8v5" stroke="#555" stroke-width="2.2"/><path d="M609.6 276v10" stroke="#777" stroke-width="0.7"/><path d="M414.4 260.2v1.5" stroke="#222" stroke-width="1"/><path d="M467.7 206.3v4" stroke="#888" stroke-width="0.9"/><path d="M401.8 240.2v7" stroke="#222" stroke-width="0.7"/><path d="M428.5 321v2" stroke="#000" stroke-width="0.9"/><path d="M455.7 290.8v7" stroke="#777" stroke-width="0.9"/><path d="M590 191.8v3" stroke="#222" stroke-width="1.6"/><path d="M592 302v2" stroke="#555" stroke-width="2.2"/><path d="M575.3 249v2" stroke="#222" stroke-width="2.2"/><path d="M439.1 214.1v4" stroke="#222" stroke-width="2.2"/><path d="M425 189.4v5" stroke="#888" stroke-width="0.7"/><path d="M621.1 250.7v5" stroke="#000" stroke-width="1"/><path d="M559 296.8v3" stroke="#777" stroke-width="1.6"/><path d="M469.5 272.4v7" stroke="#222" stroke-width="0.7"/><path d="M515.3 286.5v4" stroke="#222" stroke-width="1"/><path d="M422.5 272v4" stroke="#333" stroke-width="2.2"/><path d="M444 171.6v3" stroke="#333" stroke-width="1"/><path d="M492.1 234v10" stroke="#000" stroke-width="0.7"/><path d="M604.7 259.1v3" stroke="#333" stroke-width="0.7"/><path d="M416 265v3" stroke="#555" stroke-width="1"/><path d="M591.9 170.4v5" stroke="#333" stroke-width="1"/><path d="M500.3 203.8v3" stroke="#555" stroke-width="0.7"/><path d="M520.4 256.2v2" stroke="#777" stroke-width="2.2"/><path d="M418.3 218.9v4" stroke="#888" stroke-width="0.7"/><path d="M581.3 226.2v1.5" stroke="#888" stroke-width="1.6"/><path d="M420.9 211.2v1.5" stroke="#000" stroke-width="0.9"/><path d="M488.9 294.2v10" stroke="#000" stroke-width="1.6"/><path d="M413.3 234.9v5" stroke="#888" stroke-width="2.2"/><path d="M517.1 254.7v7" stroke="#222" stroke-width="1"/><path d="M426.4 287.1v2" stroke="#888" stroke-width="1.6"/><path d="M510.9 244.1v7" stroke="#000" stroke-width="2.2"/><path d="M535.8 290.8v1.5" stroke="#333" stroke-width="0.7"/><path d="M556.9 177.2v10" stroke="#000" stroke-width="1.3"/><path d="M464.9 181v2" stroke="#777" stroke-width="1.3"/><path d="M572.8 216.2v5" stroke="#000" stroke-width="1"/><path d="M533.4 187.6v2" stroke="#222" stroke-width="1"/><path d="M422 297.7v2" stroke="#777" stroke-width="0.9"/><path d="M594.6 210.4v2" stroke="#000" stroke-width="1"/><path d="M424.9 185.4v10" stroke="#000" stroke-width="1.3"/><path d="M608.2 266.9v1.5" stroke="#555" stroke-width="1"/><path d="M421 236.7v5" stroke="#555" stroke-width="1"/><path d="M606.4 313.3v10" stroke="#555" stroke-width="0.7"/><path d="M503.3 198v4" stroke="#555" stroke-width="0.7"/><path d="M486.5 265.1v4" stroke="#000" stroke-width="1"/><path d="M610.9 248.7v5" stroke="#222" stroke-width="2.2"/><path d="M562 165.2v4" stroke="#222" stroke-width="1"/><path d="M426.7 176.5v5" stroke="#000" stroke-width="1.3"/><path d="M603.1 217.9v3" stroke="#777" stroke-width="1"/><path d="M591.2 194v1.5" stroke="#222" stroke-width="1"/><path d="M424.7 164v2" stroke="#333" stroke-width="0.9"/><path d="M616.7 215.3v2" stroke="#777" stroke-width="1"/><path d="M417.7 319.4v3" stroke="#000" stroke-width="1"/><path d="M548.9 237v1.5" stroke="#555" stroke-width="2.2"/><path d="M606.3 215.1v1.5" stroke="#888" stroke-width="1.3"/><path d="M531.4 160.9v7" stroke="#333" stroke-width="1"/><path d="M624.2 308.5v2" stroke="#000" stroke-width="0.9"/><path d="M621.4 297.3v5" stroke="#000" stroke-width="2.2"/><path d="M545.6 305.5v4" stroke="#777" stroke-width="1.6"/><path d="M559.7 224.3v10" stroke="#222" stroke-width="0.7"/><path d="M541.9 246.9v2" stroke="#333" stroke-width="0.9"/><path d="M523.9 232.8v3" stroke="#888" stroke-width="1.6"/><path d="M511.5 271.7v5" stroke="#555" stroke-width="1.3"/><path d="M458.5 265.5v5" stroke="#777" stroke-width="1.3"/><path d="M502.1 255.4v7" stroke="#777" stroke-width="1"/><path d="M556.2 216.8v5" stroke="#000" stroke-width="1.3"/><path d="M427.7 199.4v3" stroke="#777" stroke-width="1"/><path d="M462.9 318.1v5.9" stroke="#555" stroke-width="1"/><path d="M502.5 312.6v3" stroke="#222" stroke-width="1.3"/><path d="M623.5 239.4v7" stroke="#555" stroke-width="0.9"/><path d="M573.9 290.5v2" stroke="#222" stroke-width="0.9"/><path d="M471.3 299.5v4" stroke="#222" stroke-width="0.7"/><path d="M532 305.7v4" stroke="#333" stroke-width="1.6"/><path d="M616.2 295.4v3" stroke="#222" stroke-width="0.7"/><path d="M515.6 175.8v3" stroke="#333" stroke-width="1"/><path d="M509 267.3v3" stroke="#333" stroke-width="2.2"/><path d="M433 223.1v10" stroke="#222" stroke-width="2.2"/><path d="M429.8 167.1v3" stroke="#000" stroke-width="1"/><path d="M586.3 209.7v7" stroke="#888" stroke-width="1"/><path d="M414.2 230.7v4" stroke="#000" stroke-width="0.9"/><path d="M423.4 312.4v2" stroke="#000" stroke-width="1"/><path d="M607.5 219.5v4" stroke="#222" stroke-width="2.2"/><path d="M624.9 267.7v2" stroke="#555" stroke-width="0.7"/><path d="M419.3 174.2v2" stroke="#777" stroke-width="0.7"/><path d="M538.9 309.9v2" stroke="#222" stroke-width="1"/><path d="M422.5 210.3v10" stroke="#222" stroke-width="0.7"/><path d="M456.9 195.5v3" stroke="#777" stroke-width="0.9"/><path d="M610.8 299.1v1.5" stroke="#555" stroke-width="1.3"/><path d="M627.2 252.6v4" stroke="#000" stroke-width="0.9"/><path d="M434.1 307.9v2" stroke="#333" stroke-width="0.7"/><path d="M618.1 163.9v1.5" stroke="#222" stroke-width="0.9"/><path d="M517.5 254v2" stroke="#333" stroke-width="0.7"/><path d="M481.1 226v4" stroke="#333" stroke-width="0.9"/><path d="M515.8 261.2v10" stroke="#333" stroke-width="1.6"/><path d="M578.7 216.8v5" stroke="#222" stroke-width="0.9"/><path d="M558.4 233.1v3" stroke="#333" stroke-width="2.2"/><path d="M622.9 244.7v3" stroke="#000" stroke-width="1.3"/><path d="M463.5 170.7v10" stroke="#888" stroke-width="1"/><path d="M553 288v10" stroke="#000" stroke-width="0.7"/><path d="M513.8 231.5v1.5" stroke="#777" stroke-width="1"/><path d="M483.3 217.7v2" stroke="#555" stroke-width="2.2"/><path d="M494.4 268.6v3" stroke="#222" stroke-width="1"/><path d="M612.4 299.7v2" stroke="#000" stroke-width="1"/><path d="M424.1 308.2v2" stroke="#222" stroke-width="0.7"/><path d="M599.8 315.6v4" stroke="#222" stroke-width="1"/><path d="M430.6 275.8v1.5" stroke="#222" stroke-width="0.9"/><path d="M627.1 303.5v7" stroke="#333" stroke-width="1"/><path d="M610.5 183.7v2" stroke="#888" stroke-width="0.9"/><path d="M452.7 254.3v2" stroke="#777" stroke-width="1"/><path d="M421.3 262.8v2" stroke="#888" stroke-width="0.7"/><path d="M417.5 309.3v10" stroke="#222" stroke-width="0.9"/><path d="M544.8 177v7" stroke="#777" stroke-width="2.2"/><path d="M612.8 282.2v7" stroke="#000" stroke-width="1.6"/><path d="M597.6 163.2v3" stroke="#555" stroke-width="1"/><path d="M538.4 275.1v1.5" stroke="#333" stroke-width="0.9"/><path d="M475.4 297.4v10" stroke="#888" stroke-width="1"/><path d="M472.7 207.8v5" stroke="#777" stroke-width="1"/><path d="M515.4 248.5v3" stroke="#777" stroke-width="1.6"/><path d="M600.9 186.3v10" stroke="#333" stroke-width="1.3"/><path d="M612.8 210.8v10" stroke="#555" stroke-width="1.3"/><path d="M570.5 206v2" stroke="#888" stroke-width="1.6"/><path d="M590.4 309.5v10" stroke="#555" stroke-width="1.6"/><path d="M550.4 224.9v7" stroke="#888" stroke-width="1.3"/><path d="M440.9 260.1v7" stroke="#888" stroke-width="0.7"/><path d="M430.4 205.4v7" stroke="#000" stroke-width="0.7"/><path d="M443.9 274.2v1.5" stroke="#222" stroke-width="1"/><path d="M513.9 229v10" stroke="#000" stroke-width="0.7"/><path d="M423.9 229.6v10" stroke="#333" stroke-width="1.3"/><path d="M546.7 271.7v7" stroke="#333" stroke-width="2.2"/><path d="M608.9 271v3" stroke="#333" stroke-width="2.2"/><path d="M438.5 292v3" stroke="#222" stroke-width="1.6"/><path d="M435.9 236.3v5" stroke="#000" stroke-width="1.6"/><path d="M434.7 202.1v3" stroke="#555" stroke-width="2.2"/><path d="M618.3 260.9v2" stroke="#888" stroke-width="1.6"/><path d="M625.4 207.4v1.5" stroke="#333" stroke-width="1.3"/><path d="M545 239.7v5" stroke="#333" stroke-width="1.6"/><path d="M448.5 197.4v2" stroke="#222" stroke-width="1.6"/><path d="M472 179.3v1.5" stroke="#333" stroke-width="1.6"/><path d="M614.7 213.6v1.5" stroke="#333" stroke-width="0.7"/><path d="M590.1 299.5v4" stroke="#333" stroke-width="0.7"/><path d="M595.2 170.7v2" stroke="#888" stroke-width="2.2"/><path d="M421.6 198.7v3" stroke="#777" stroke-width="0.9"/><path d="M618.7 233v1.5" stroke="#333" stroke-width="1"/><path d="M606.5 273.3v7" stroke="#000" stroke-width="0.7"/><path d="M418 193.3v10" stroke="#888" stroke-width="2.2"/><path d="M513 313.5v10" stroke="#000" stroke-width="1"/><path d="M450.3 248v2" stroke="#777" stroke-width="0.9"/><path d="M579 254.7v4" stroke="#888" stroke-width="1"/><path d="M418.8 177.3v7" stroke="#333" stroke-width="0.9"/><path d="M410.9 171.5v3" stroke="#888" stroke-width="1"/><path d="M454.3 292v3" stroke="#777" stroke-width="1.6"/><path d="M422.7 211.9v1.5" stroke="#555" stroke-width="1.3"/><path d="M612.1 307.2v7" stroke="#000" stroke-width="1.3"/><path d="M471.1 298v7" stroke="#333" stroke-width="1.3"/><path d="M544.8 214.4v1.5" stroke="#888" stroke-width="0.9"/><path d="M603.4 205.9v3" stroke="#000" stroke-width="1"/><path d="M560.9 232.6v4" stroke="#555" stroke-width="1.6"/><path d="M594.1 226.6v3" stroke="#000" stroke-width="1.3"/><path d="M427.8 204v5" stroke="#777" stroke-width="1.6"/><path d="M578.7 225v2" stroke="#222" stroke-width="1.6"/><path d="M570.3 187.7v3" stroke="#000" stroke-width="1.3"/><path d="M469.1 165.5v5" stroke="#555" stroke-width="1"/><path d="M600.3 221.5v5" stroke="#222" stroke-width="1"/><path d="M497.7 240.7v1.5" stroke="#222" stroke-width="2.2"/><path d="M488 255.6v4" stroke="#333" stroke-width="1.6"/><path d="M512.7 290.2v5" stroke="#222" stroke-width="1.3"/><path d="M429.4 286.5v4" stroke="#888" stroke-width="2.2"/><path d="M606.2 258v10" stroke="#333" stroke-width="1"/><path d="M620.5 269.5v2" stroke="#000" stroke-width="1.3"/><path d="M418.8 162.6v1.5" stroke="#333" stroke-width="1"/><path d="M441.1 256.3v2" stroke="#333" stroke-width="1.6"/><path d="M485.4 204.3v4" stroke="#777" stroke-width="1.3"/><path d="M591.9 213v3" stroke="#777" stroke-width="1.6"/><path d="M472.3 164.1v2" stroke="#000" stroke-width="1.6"/><path d="M458.8 239.2v1.5" stroke="#333" stroke-width="1.6"/><path d="M446.6 274v4" stroke="#222" stroke-width="1"/><path d="M559.3 164.5v3" stroke="#777" stroke-width="1.3"/><path d="M449.4 196.1v4" stroke="#888" stroke-width="0.9"/><path d="M476.5 231.3v5" stroke="#222" stroke-width="0.9"/><path d="M553.7 187.8v4" stroke="#888" stroke-width="1.3"/><path d="M474.5 195.1v4" stroke="#222" stroke-width="0.7"/><path d="M447.9 222.8v10" stroke="#000" stroke-width="1.3"/><path d="M416.1 239.7v10" stroke="#555" stroke-width="2.2"/><path d="M419.4 227.7v2" stroke="#333" stroke-width="1.3"/><path d="M465.9 235.7v3" stroke="#777" stroke-width="0.9"/><path d="M462.2 218.3v3" stroke="#333" stroke-width="1"/><path d="M421.2 187.9v2" stroke="#222" stroke-width="0.7"/><path d="M505.9 242.9v3" stroke="#777" stroke-width="1.3"/><path d="M500.2 276.3v3" stroke="#555" stroke-width="1"/><path d="M516.9 246.8v10" stroke="#222" stroke-width="2.2"/><path d="M624.7 313.1v1.5" stroke="#555" stroke-width="1.3"/><path d="M445.4 180.7v10" stroke="#555" stroke-width="1.6"/><path d="M569.2 233.6v5" stroke="#777" stroke-width="1.3"/><path d="M614.7 320.6v3" stroke="#000" stroke-width="0.7"/><path d="M548.9 210.2v3" stroke="#333" stroke-width="1.3"/><path d="M415.4 320.9v1.5" stroke="#222" stroke-width="2.2"/><path d="M562.4 281.6v7" stroke="#555" stroke-width="1.3"/><path d="M441.4 235.7v7" stroke="#222" stroke-width="1.6"/><path d="M447.9 232.4v10" stroke="#333" stroke-width="2.2"/><path d="M610 259.6v1.5" stroke="#888" stroke-width="0.9"/><path d="M407.2 227.8v3" stroke="#222" stroke-width="1"/><path d="M526.5 176.4v2" stroke="#222" stroke-width="1"/><path d="M564.6 282.9v1.5" stroke="#000" stroke-width="1"/><path d="M562.6 288.1v1.5" stroke="#222" stroke-width="1.6"/><path d="M546.3 319.5v3" stroke="#888" stroke-width="2.2"/><path d="M622.8 178.7v1.5" stroke="#000" stroke-width="1.6"/><path d="M467.9 302.4v3" stroke="#888" stroke-width="1"/><path d="M590.9 239.4v3" stroke="#333" stroke-width="1.3"/><path d="M443.4 199.8v2" stroke="#222" stroke-width="1.6"/><path d="M563.3 173v5" stroke="#333" stroke-width="1.6"/><path d="M437.4 255.6v2" stroke="#333" stroke-width="1.3"/><path d="M419.9 250.3v5" stroke="#777" stroke-width="0.9"/><path d="M524.6 179.3v3" stroke="#222" stroke-width="1"/><path d="M515.5 283.4v1.5" stroke="#222" stroke-width="0.9"/><path d="M504.5 304.5v2" stroke="#333" stroke-width="2.2"/><path d="M409.9 293.7v2" stroke="#222" stroke-width="1"/><path d="M601.4 238.7v2" stroke="#888" stroke-width="0.7"/><path d="M567.1 257.5v1.5" stroke="#000" stroke-width="1.3"/><path d="M469.2 192.5v10" stroke="#000" stroke-width="0.9"/><path d="M606.2 288.2v5" stroke="#555" stroke-width="0.9"/><path d="M428.6 206.7v3" stroke="#777" stroke-width="0.7"/><path d="M563.7 287.8v5" stroke="#777" stroke-width="1"/><path d="M610.7 177.4v1.5" stroke="#333" stroke-width="1"/><path d="M524.8 262.9v2" stroke="#555" stroke-width="1.6"/><path d="M476.6 200.8v10" stroke="#888" stroke-width="0.7"/><path d="M581.2 205.8v3" stroke="#555" stroke-width="0.9"/><path d="M543.1 258.1v2" stroke="#888" stroke-width="0.9"/><path d="M598.8 268.2v1.5" stroke="#222" stroke-width="1"/><path d="M446.8 193v5" stroke="#777" stroke-width="1.3"/><path d="M501.4 269.5v4" stroke="#333" stroke-width="1.6"/><path d="M433.2 201.9v3" stroke="#555" stroke-width="2.2"/><path d="M596 298.8v5" stroke="#333" stroke-width="1"/><path d="M514.1 287.1v7" stroke="#888" stroke-width="1.3"/><path d="M449 220.4v1.5" stroke="#555" stroke-width="1"/><path d="M523.5 191.6v4" stroke="#000" stroke-width="1.6"/><path d="M519.6 273.6v3" stroke="#333" stroke-width="1.6"/><path d="M591.5 224.1v1.5" stroke="#222" stroke-width="1"/><path d="M604.3 246.1v2" stroke="#777" stroke-width="0.7"/><path d="M595.9 308.8v4" stroke="#888" stroke-width="1.6"/><path d="M601.3 249.8v3" stroke="#000" stroke-width="2.2"/><path d="M622.2 206.5v3" stroke="#555" stroke-width="1.6"/><path d="M504 222v7" stroke="#777" stroke-width="1.3"/><path d="M561.9 169.5v2" stroke="#777" stroke-width="1"/><path d="M431 285.7v3" stroke="#555" stroke-width="0.7"/><path d="M605.7 223v7" stroke="#888" stroke-width="1"/><path d="M574.3 231.9v5" stroke="#000" stroke-width="1.3"/><path d="M617.2 231.9v5" stroke="#777" stroke-width="0.7"/><path d="M462.5 219.6v3" stroke="#000" stroke-width="1.6"/><path d="M470 238.2v2" stroke="#222" stroke-width="0.9"/><path d="M625.1 185.1v4" stroke="#222" stroke-width="1"/><path d="M436.6 243.2v2" stroke="#000" stroke-width="1"/><path d="M428.2 318.1v4" stroke="#555" stroke-width="1"/><path d="M579.9 193.5v1.5" stroke="#222" stroke-width="1.3"/><path d="M586.7 288.2v2" stroke="#222" stroke-width="1"/><path d="M540.2 211.9v5" stroke="#000" stroke-width="2.2"/><path d="M452.9 296.8v10" stroke="#333" stroke-width="1.3"/><path d="M588.8 256.4v3" stroke="#222" stroke-width="2.2"/><path d="M603 263.7v3" stroke="#000" stroke-width="1"/><path d="M413.9 197.4v3" stroke="#555" stroke-width="2.2"/><path d="M612.9 291.5v2" stroke="#777" stroke-width="0.9"/><path d="M625.1 320.1v3.9" stroke="#777" stroke-width="1.3"/><path d="M577.9 230v3" stroke="#333" stroke-width="1.6"/><path d="M577.8 180v3" stroke="#555" stroke-width="1"/><path d="M505.8 187.5v3" stroke="#888" stroke-width="1"/><path d="M508.1 279.8v2" stroke="#777" stroke-width="1"/><path d="M414.4 208.1v7" stroke="#000" stroke-width="0.9"/><path d="M479.1 236.7v3" stroke="#333" stroke-width="2.2"/><path d="M583.4 209.5v7" stroke="#222" stroke-width="0.7"/><path d="M471.2 203.4v5" stroke="#000" stroke-width="0.7"/><path d="M536.7 162.5v7" stroke="#777" stroke-width="1"/><path d="M477.1 206.9v4" stroke="#222" stroke-width="1"/><path d="M562.3 196.7v2" stroke="#777" stroke-width="0.9"/><path d="M432.5 214.8v2" stroke="#333" stroke-width="1"/><path d="M424.3 228.5v2" stroke="#777" stroke-width="0.9"/><path d="M606.9 213.3v7" stroke="#222" stroke-width="0.7"/><path d="M596.2 315.9v3" stroke="#555" stroke-width="0.7"/><path d="M462.8 286.1v4" stroke="#333" stroke-width="0.7"/><path d="M465.8 171.2v3" stroke="#888" stroke-width="1.6"/><path d="M514.1 188.7v3" stroke="#555" stroke-width="1"/><path d="M424.5 182.3v3" stroke="#777" stroke-width="1.3"/><path d="M485.4 185.7v7" stroke="#888" stroke-width="0.9"/><path d="M586.1 311.8v3" stroke="#000" stroke-width="1.6"/><path d="M619.9 231.7v1.5" stroke="#222" stroke-width="1"/><path d="M418.9 206.1v10" stroke="#333" stroke-width="2.2"/><path d="M585.5 236.4v7" stroke="#888" stroke-width="1.3"/><path d="M599.5 317.4v2" stroke="#000" stroke-width="0.9"/><path d="M573.6 246.3v5" stroke="#222" stroke-width="1.6"/><path d="M404.9 211.3v4" stroke="#333" stroke-width="0.7"/><path d="M411.5 271.2v5" stroke="#222" stroke-width="1"/><path d="M553.2 162.5v3" stroke="#888" stroke-width="0.9"/><path d="M614.8 192.4v5" stroke="#555" stroke-width="1"/><path d="M567.5 209.1v7" stroke="#333" stroke-width="1"/><path d="M427.5 291.3v3" stroke="#333" stroke-width="1.3"/><path d="M613.7 187.7v4" stroke="#222" stroke-width="0.9"/><path d="M551.8 306.4v2" stroke="#777" stroke-width="2.2"/><path d="M444.9 305.5v10" stroke="#000" stroke-width="0.7"/><path d="M625.2 299.2v2" stroke="#555" stroke-width="1.3"/><path d="M460.2 230.9v7" stroke="#000" stroke-width="0.7"/><path d="M507.4 194.8v10" stroke="#333" stroke-width="1"/><path d="M624 167.4v7" stroke="#555" stroke-width="2.2"/><path d="M608.6 208.3v2" stroke="#000" stroke-width="0.9"/><path d="M534.9 278.9v1.5" stroke="#000" stroke-width="1"/><path d="M425.8 187.4v5" stroke="#777" stroke-width="2.2"/><path d="M426.6 272.6v10" stroke="#888" stroke-width="1"/><path d="M565 269.2v7" stroke="#777" stroke-width="1.3"/><path d="M516.6 320.2v1.5" stroke="#777" stroke-width="2.2"/><path d="M449.9 237.3v1.5" stroke="#222" stroke-width="1.3"/><path d="M460.1 305.3v7" stroke="#888" stroke-width="0.7"/><path d="M618.1 239v5" stroke="#333" stroke-width="1.6"/><path d="M492.2 234.8v1.5" stroke="#888" stroke-width="1.3"/><path d="M514.9 243.9v2" stroke="#777" stroke-width="0.7"/><path d="M613 180.1v7" stroke="#333" stroke-width="0.9"/><path d="M429.5 216.8v5" stroke="#555" stroke-width="1.3"/><path d="M622.9 278.6v10" stroke="#888" stroke-width="0.9"/><path d="M588.6 307.9v7" stroke="#888" stroke-width="1.3"/><path d="M623.1 317.3v2" stroke="#888" stroke-width="0.9"/><path d="M615.1 266.7v2" stroke="#000" stroke-width="0.9"/><path d="M604.5 202.7v2" stroke="#333" stroke-width="1"/><path d="M562.8 236.6v4" stroke="#777" stroke-width="2.2"/><path d="M617.8 257.6v4" stroke="#888" stroke-width="1.6"/><path d="M561.7 196.7v2" stroke="#888" stroke-width="0.7"/><path d="M593.2 293v2" stroke="#888" stroke-width="1.6"/><path d="M408 169.9v7" stroke="#777" stroke-width="0.7"/><path d="M500.8 269.4v4" stroke="#555" stroke-width="1.6"/><path d="M541.2 286.1v5" stroke="#222" stroke-width="1"/><path d="M591.2 270.3v10" stroke="#000" stroke-width="1.6"/><path d="M609.6 182.2v5" stroke="#888" stroke-width="2.2"/><path d="M615.4 308.4v2" stroke="#333" stroke-width="1.6"/><path d="M571.2 247.9v4" stroke="#000" stroke-width="1.6"/><path d="M524.4 168.5v7" stroke="#555" stroke-width="1.3"/><path d="M618.7 291.6v7" stroke="#000" stroke-width="1"/><path d="M440.5 186.5v4" stroke="#000" stroke-width="0.7"/><path d="M466.8 170.4v3" stroke="#000" stroke-width="2.2"/><path d="M625.9 234.9v5" stroke="#000" stroke-width="1.6"/><path d="M561.9 247.4v4" stroke="#000" stroke-width="1"/><path d="M420.4 209.5v5" stroke="#000" stroke-width="1.6"/><path d="M606.4 228.5v1.5" stroke="#777" stroke-width="1"/><path d="M443 246v3" stroke="#000" stroke-width="1"/><path d="M607.4 230v7" stroke="#777" stroke-width="2.2"/><path d="M576.4 234v3" stroke="#888" stroke-width="2.2"/><path d="M428.7 210.3v5" stroke="#333" stroke-width="0.7"/><path d="M427.5 271.9v2" stroke="#333" stroke-width="1"/><path d="M498.7 226.4v2" stroke="#888" stroke-width="1.6"/><path d="M428.7 195.3v3" stroke="#777" stroke-width="1"/><path d="M417.3 214.1v3" stroke="#333" stroke-width="2.2"/><path d="M606 243v2" stroke="#888" stroke-width="0.9"/><path d="M532.5 293.7v2" stroke="#888" stroke-width="0.7"/><path d="M412.9 243.8v3" stroke="#888" stroke-width="0.7"/><path d="M575 205.6v2" stroke="#555" stroke-width="1.6"/><path d="M617.8 293.2v3" stroke="#333" stroke-width="2.2"/><path d="M465.5 173.9v5" stroke="#222" stroke-width="1"/><path d="M430.4 176.2v2" stroke="#777" stroke-width="2.2"/><path d="M422.2 222.6v4" stroke="#555" stroke-width="1.3"/><path d="M466.1 197.8v3" stroke="#222" stroke-width="0.7"/><path d="M434.8 254.1v5" stroke="#777" stroke-width="1"/><path d="M470.2 294v10" stroke="#000" stroke-width="1"/><path d="M564.2 207.4v1.5" stroke="#888" stroke-width="0.9"/><path d="M551.9 277.8v3" stroke="#222" stroke-width="1"/><path d="M607.3 311.2v10" stroke="#000" stroke-width="1"/><path d="M593.6 195v2" stroke="#888" stroke-width="1"/><path d="M549 300.6v4" stroke="#222" stroke-width="0.7"/><path d="M452.9 298.2v3" stroke="#333" stroke-width="0.7"/><path d="M444.6 249.4v3" stroke="#000" stroke-width="1"/><path d="M600.5 248.2v5" stroke="#222" stroke-width="1.3"/><path d="M616 272.5v3" stroke="#000" stroke-width="0.9"/><path d="M586.8 223.6v2" stroke="#888" stroke-width="0.7"/><path d="M600.7 223.1v3" stroke="#000" stroke-width="0.9"/><path d="M614.6 193.8v1.5" stroke="#222" stroke-width="0.9"/><path d="M572.9 235.3v7" stroke="#000" stroke-width="1"/><path d="M401.3 205.9v1.5" stroke="#333" stroke-width="1.3"/><path d="M613.6 294.8v5" stroke="#777" stroke-width="1"/><path d="M464.1 270.4v7" stroke="#555" stroke-width="0.9"/><path d="M583.4 195v4" stroke="#000" stroke-width="0.9"/><path d="M560.4 216.9v3" stroke="#555" stroke-width="1"/><path d="M620.2 207.5v3" stroke="#333" stroke-width="2.2"/><path d="M552.3 282.4v10" stroke="#222" stroke-width="1.3"/><path d="M508.4 193.8v2" stroke="#555" stroke-width="2.2"/><path d="M421.6 224.1v2" stroke="#777" stroke-width="1.3"/><path d="M543.8 236.2v2" stroke="#777" stroke-width="0.7"/><path d="M600.6 172.5v2" stroke="#555" stroke-width="2.2"/><path d="M438.5 187.7v10" stroke="#000" stroke-width="0.7"/><path d="M584 175.5v2" stroke="#000" stroke-width="1.3"/><path d="M427.3 296.9v10" stroke="#555" stroke-width="0.9"/><path d="M432.3 226.8v2" stroke="#555" stroke-width="2.2"/><path d="M422.2 190.1v3" stroke="#777" stroke-width="1.6"/><path d="M627.2 313.5v3" stroke="#333" stroke-width="1.3"/><path d="M607.6 254.3v3" stroke="#888" stroke-width="2.2"/><path d="M627.5 258.9v3" stroke="#000" stroke-width="0.7"/><path d="M627.3 183v7" stroke="#222" stroke-width="1"/><path d="M506.9 224.4v2" stroke="#777" stroke-width="1.3"/><path d="M541.2 254.3v4" stroke="#555" stroke-width="0.7"/><path d="M563.7 196.5v1.5" stroke="#333" stroke-width="0.9"/><path d="M473 243.9v10" stroke="#888" stroke-width="0.7"/><path d="M595.8 256.6v3" stroke="#777" stroke-width="0.7"/><path d="M426.1 283v5" stroke="#555" stroke-width="1.3"/><path d="M420.3 191.2v3" stroke="#222" stroke-width="0.7"/><path d="M516.3 177.2v7" stroke="#777" stroke-width="1"/><path d="M592.6 194.9v2" stroke="#333" stroke-width="1.3"/><path d="M410.4 233.6v5" stroke="#888" stroke-width="1"/><path d="M524.3 217.7v2" stroke="#555" stroke-width="1.3"/><path d="M470.9 168.8v2" stroke="#000" stroke-width="0.7"/><path d="M496.4 295.7v7" stroke="#888" stroke-width="1.3"/><path d="M481.2 297.2v3" stroke="#888" stroke-width="0.7"/><path d="M437.8 206.1v7" stroke="#222" stroke-width="1.6"/><path d="M577.9 226.9v2" stroke="#888" stroke-width="0.9"/><path d="M604.6 243.8v3" stroke="#888" stroke-width="0.7"/><path d="M399.4 318.3v5.7" stroke="#888" stroke-width="0.7"/><path d="M621.5 298.6v4" stroke="#333" stroke-width="1"/><path d="M424.2 247.3v7" stroke="#777" stroke-width="2.2"/><path d="M598 314.7v3" stroke="#777" stroke-width="1"/><path d="M512.2 265.5v4" stroke="#555" stroke-width="1"/><path d="M465.5 193.8v3" stroke="#333" stroke-width="1"/><path d="M496.6 215.1v2" stroke="#777" stroke-width="0.9"/><path d="M523.7 214.3v3" stroke="#888" stroke-width="1"/><path d="M512.3 320.9v3" stroke="#555" stroke-width="1"/><path d="M614.3 218.5v10" stroke="#777" stroke-width="1"/><path d="M467.9 320v1.5" stroke="#000" stroke-width="1.3"/><path d="M606.8 317v2" stroke="#000" stroke-width="1"/><path d="M402.6 186.8v1.5" stroke="#000" stroke-width="1.6"/><path d="M419.1 176.2v3" stroke="#000" stroke-width="1.3"/><path d="M552.9 198.9v4" stroke="#555" stroke-width="1"/><path d="M493.3 229.3v3" stroke="#222" stroke-width="0.9"/><path d="M616.8 276.8v2" stroke="#222" stroke-width="1.3"/><path d="M566.2 241.9v2" stroke="#000" stroke-width="0.9"/><path d="M532.8 281.6v1.5" stroke="#222" stroke-width="1"/><path d="M502.7 242.6v2" stroke="#000" stroke-width="1"/><path d="M625.9 298.6v2" stroke="#000" stroke-width="0.7"/><path d="M451.2 187.3v7" stroke="#222" stroke-width="1"/><path d="M493.9 298.9v5" stroke="#777" stroke-width="2.2"/><path d="M427.8 196.1v10" stroke="#333" stroke-width="1"/><path d="M554.7 230.2v7" stroke="#000" stroke-width="1"/><path d="M401.7 216.7v4" stroke="#555" stroke-width="1.6"/><path d="M565 242.9v2" stroke="#888" stroke-width="1"/><path d="M402.4 214.4v10" stroke="#888" stroke-width="1"/><path d="M495.8 286.9v10" stroke="#000" stroke-width="1.6"/><path d="M513.4 266.6v7" stroke="#888" stroke-width="0.7"/><path d="M429.4 250.3v3" stroke="#888" stroke-width="1"/><path d="M603.3 197.8v10" stroke="#222" stroke-width="2.2"/><path d="M605.3 244.3v10" stroke="#222" stroke-width="1.3"/><path d="M459 206.6v7" stroke="#555" stroke-width="1"/><path d="M413.2 234.5v10" stroke="#222" stroke-width="1"/><path d="M588.4 285.1v10" stroke="#222" stroke-width="1.3"/><path d="M539.8 274.7v2" stroke="#555" stroke-width="1.3"/><path d="M622.1 221.9v1.5" stroke="#333" stroke-width="0.9"/><path d="M423.2 211.2v1.5" stroke="#777" stroke-width="2.2"/><path d="M564.9 317.4v6.6" stroke="#555" stroke-width="1.6"/><path d="M420.8 184.3v3" stroke="#555" stroke-width="1.6"/><path d="M625.7 302.6v2" stroke="#333" stroke-width="1"/><path d="M552.9 293.4v2" stroke="#000" stroke-width="1.3"/><path d="M449.8 214v3" stroke="#888" stroke-width="1.6"/><path d="M502 284.3v5" stroke="#555" stroke-width="1"/><path d="M528.7 301.5v2" stroke="#333" stroke-width="1.3"/><path d="M412.7 300.5v4" stroke="#555" stroke-width="1.6"/><path d="M558.4 235.7v3" stroke="#777" stroke-width="2.2"/><path d="M503.3 228.4v7" stroke="#333" stroke-width="0.7"/><path d="M606.3 248v2" stroke="#000" stroke-width="1"/><path d="M574.4 192.9v2" stroke="#333" stroke-width="1.3"/><path d="M617 270.1v3" stroke="#555" stroke-width="0.9"/><path d="M439 278.5v2" stroke="#555" stroke-width="1"/><path d="M514.8 275.9v2" stroke="#555" stroke-width="0.9"/><path d="M624.8 300v2" stroke="#222" stroke-width="1"/><path d="M560.3 296.2v5" stroke="#555" stroke-width="1"/><path d="M604 213.1v4" stroke="#555" stroke-width="0.7"/><path d="M600.8 161.6v1.5" stroke="#000" stroke-width="1.6"/><path d="M621.5 185.2v7" stroke="#333" stroke-width="0.9"/><path d="M473.1 173.3v10" stroke="#888" stroke-width="1.6"/><path d="M425.9 224.1v7" stroke="#888" stroke-width="2.2"/><path d="M592.4 260.8v2" stroke="#333" stroke-width="1"/><path d="M589.1 206.5v2" stroke="#000" stroke-width="1"/><path d="M571.6 308.8v2" stroke="#555" stroke-width="1.6"/><path d="M466.2 230.7v10" stroke="#888" stroke-width="1.3"/><path d="M587.3 221.1v1.5" stroke="#222" stroke-width="1"/><path d="M422.4 230v10" stroke="#222" stroke-width="2.2"/><path d="M502.8 297.2v3" stroke="#777" stroke-width="1"/><path d="M567.5 257.4v7" stroke="#222" stroke-width="0.7"/><path d="M503.1 321.8v2.2" stroke="#000" stroke-width="0.7"/><path d="M557.4 160.8v4" stroke="#222" stroke-width="1"/><path d="M517.7 207.1v5" stroke="#000" stroke-width="1"/><path d="M508.2 273.5v3" stroke="#000" stroke-width="1.3"/><path d="M414.3 274v5" stroke="#888" stroke-width="0.7"/><path d="M501.4 269.4v7" stroke="#555" stroke-width="1"/><path d="M422.7 261v7" stroke="#777" stroke-width="2.2"/><path d="M420.3 211.2v5" stroke="#555" stroke-width="1"/><path d="M501.5 271.7v2" stroke="#777" stroke-width="1"/><path d="M432.5 173.3v7" stroke="#888" stroke-width="0.7"/><path d="M584.8 287.1v3" stroke="#000" stroke-width="1.3"/><path d="M514.8 210.9v7" stroke="#000" stroke-width="1.3"/><path d="M561.3 223.2v2" stroke="#000" stroke-width="1"/><path d="M605.3 234.1v7" stroke="#222" stroke-width="0.9"/><path d="M446 238.1v5" stroke="#222" stroke-width="1"/><path d="M547.3 235.5v3" stroke="#333" stroke-width="0.7"/><path d="M570 257.3v2" stroke="#888" stroke-width="0.9"/><path d="M511.4 261.8v2" stroke="#888" stroke-width="1"/><path d="M423.6 166.3v5" stroke="#888" stroke-width="0.7"/><path d="M493.1 290.8v5" stroke="#222" stroke-width="1.6"/><path d="M429.9 228v4" stroke="#000" stroke-width="2.2"/><path d="M484.3 196.2v7" stroke="#222" stroke-width="1"/><path d="M426.3 317.2v2" stroke="#000" stroke-width="1.3"/><path d="M404.5 260.5v7" stroke="#555" stroke-width="1"/><path d="M542.8 204v7" stroke="#333" stroke-width="2.2"/><path d="M466.4 234.9v10" stroke="#777" stroke-width="1.6"/><path d="M436.8 268v7" stroke="#333" stroke-width="0.9"/><path d="M608.5 206.8v2" stroke="#000" stroke-width="1"/><path d="M551.6 310.9v2" stroke="#000" stroke-width="2.2"/><path d="M568.6 227.1v3" stroke="#000" stroke-width="1.6"/><path d="M620.5 231.3v10" stroke="#000" stroke-width="1.3"/><path d="M418.6 247.8v3" stroke="#222" stroke-width="1.3"/><path d="M512.3 251.8v3" stroke="#777" stroke-width="0.9"/><path d="M594.9 225.7v10" stroke="#555" stroke-width="1.6"/><path d="M520.1 307.7v3" stroke="#333" stroke-width="2.2"/><path d="M500.2 205.1v2" stroke="#888" stroke-width="0.7"/><path d="M616.9 294.2v10" stroke="#333" stroke-width="1"/><path d="M436.9 245v4" stroke="#777" stroke-width="1"/><path d="M563.8 221.6v3" stroke="#000" stroke-width="1"/><path d="M442.3 241.4v4" stroke="#888" stroke-width="0.7"/><path d="M422.4 196.2v2" stroke="#777" stroke-width="1.6"/><path d="M624.5 295.6v3" stroke="#555" stroke-width="1.6"/><path d="M431.5 160v5" stroke="#555" stroke-width="1"/><path d="M441 248.9v2" stroke="#555" stroke-width="0.7"/><path d="M448.5 256.4v3" stroke="#222" stroke-width="1"/><path d="M608.9 296.1v1.5" stroke="#555" stroke-width="1.3"/><path d="M415.5 228.6v4" stroke="#777" stroke-width="0.7"/><path d="M442.1 210.9v10" stroke="#000" stroke-width="1"/><path d="M604.1 307.3v7" stroke="#777" stroke-width="2.2"/><path d="M607.5 189.4v2" stroke="#222" stroke-width="1"/><path d="M456.5 262.1v3" stroke="#777" stroke-width="0.7"/><path d="M599.9 164.5v2" stroke="#333" stroke-width="2.2"/><path d="M594.7 194.4v3" stroke="#777" stroke-width="1.6"/><path d="M423.7 191.3v3" stroke="#222" stroke-width="1"/><path d="M519.1 273.5v2" stroke="#222" stroke-width="1.6"/><path d="M431.7 316.5v1.5" stroke="#555" stroke-width="1"/><path d="M518.6 184.2v3" stroke="#000" stroke-width="1"/><path d="M598 309.7v3" stroke="#555" stroke-width="1"/><path d="M466.6 182.8v2" stroke="#222" stroke-width="1"/><path d="M496.3 207.3v1.5" stroke="#555" stroke-width="1"/><path d="M510.2 226.6v4" stroke="#555" stroke-width="1.6"/><path d="M556.8 308.8v10" stroke="#777" stroke-width="1"/><path d="M418.1 175.5v10" stroke="#333" stroke-width="1.3"/><path d="M561.3 263v1.5" stroke="#222" stroke-width="1"/><path d="M586.8 216.1v5" stroke="#000" stroke-width="1"/><path d="M418.3 244.6v10" stroke="#777" stroke-width="1.6"/><path d="M619.7 301.3v5" stroke="#888" stroke-width="1"/><path d="M543.2 284.6v5" stroke="#777" stroke-width="2.2"/><path d="M450.1 238.6v2" stroke="#222" stroke-width="1.6"/><path d="M424.5 216.2v2" stroke="#000" stroke-width="1.3"/><path d="M465.6 209.6v2" stroke="#222" stroke-width="2.2"/><path d="M419.6 261.5v3" stroke="#888" stroke-width="1.3"/><path d="M467.1 314.4v3" stroke="#888" stroke-width="1"/><path d="M470.8 207.4v5" stroke="#555" stroke-width="1.6"/><path d="M426.4 243.2v3" stroke="#000" stroke-width="1"/><path d="M432.9 218.8v4" stroke="#555" stroke-width="0.9"/><path d="M514.8 242.2v2" stroke="#222" stroke-width="1.3"/><path d="M406.4 198.7v3" stroke="#777" stroke-width="1.6"/><path d="M473.4 271.4v2" stroke="#333" stroke-width="0.7"/><path d="M560 253.1v2" stroke="#888" stroke-width="0.7"/><path d="M607.3 243.4v4" stroke="#777" stroke-width="0.9"/><path d="M591.8 185.2v2" stroke="#555" stroke-width="0.9"/><path d="M588.7 315.2v1.5" stroke="#333" stroke-width="1.6"/><path d="M606.1 232.8v3" stroke="#777" stroke-width="0.9"/><path d="M600.7 245.5v1.5" stroke="#555" stroke-width="1"/><path d="M419.4 240.5v4" stroke="#333" stroke-width="2.2"/><path d="M507.8 261.7v3" stroke="#222" stroke-width="0.7"/><path d="M416.6 227.1v3" stroke="#222" stroke-width="1"/><path d="M508.4 274.4v3" stroke="#888" stroke-width="0.7"/><path d="M508.2 269v1.5" stroke="#333" stroke-width="0.9"/><path d="M515.5 261.4v2" stroke="#222" stroke-width="2.2"/><path d="M602.2 181.5v3" stroke="#333" stroke-width="0.7"/><path d="M624.3 308.1v2" stroke="#000" stroke-width="0.7"/><path d="M545.5 189.7v4" stroke="#333" stroke-width="0.7"/><path d="M626.5 311.7v5" stroke="#000" stroke-width="1"/><path d="M562.7 195.7v3" stroke="#222" stroke-width="0.7"/><path d="M567.4 217.5v3" stroke="#000" stroke-width="1.3"/><path d="M585.9 199.2v1.5" stroke="#000" stroke-width="1.3"/><path d="M469.2 266.5v3" stroke="#888" stroke-width="1.6"/><path d="M622.4 247.4v7" stroke="#777" stroke-width="0.7"/><path d="M560.7 160.3v3" stroke="#333" stroke-width="0.9"/><path d="M566.2 287.5v1.5" stroke="#555" stroke-width="1.6"/><path d="M508.2 170v3" stroke="#333" stroke-width="2.2"/><path d="M491.5 315.7v2" stroke="#555" stroke-width="1.3"/><path d="M475.7 289.5v7" stroke="#333" stroke-width="2.2"/><path d="M520 288.9v3" stroke="#222" stroke-width="1.3"/><path d="M452.4 227.8v4" stroke="#555" stroke-width="1"/><path d="M528.4 222.7v4" stroke="#333" stroke-width="1"/><path d="M615.4 171.1v2" stroke="#333" stroke-width="1.6"/><path d="M436.6 174.1v3" stroke="#333" stroke-width="2.2"/><path d="M474.5 231v2" stroke="#888" stroke-width="0.7"/><path d="M602.7 302v2" stroke="#222" stroke-width="1"/><path d="M423.8 282.2v3" stroke="#333" stroke-width="2.2"/><path d="M567.5 174.7v5" stroke="#555" stroke-width="0.7"/><path d="M608.1 183.1v2" stroke="#000" stroke-width="0.9"/><path d="M475.9 214.5v2" stroke="#222" stroke-width="1.6"/><path d="M435.1 174.4v4" stroke="#555" stroke-width="1.3"/><path d="M455.1 169v3" stroke="#333" stroke-width="1"/><path d="M417.5 275.5v10" stroke="#000" stroke-width="2.2"/><path d="M448.8 241v3" stroke="#888" stroke-width="1"/><path d="M417.7 288.6v5" stroke="#888" stroke-width="1.3"/><path d="M517.7 221.2v3" stroke="#222" stroke-width="2.2"/><path d="M508.7 299.5v7" stroke="#333" stroke-width="2.2"/><path d="M503.3 205.3v5" stroke="#888" stroke-width="1.3"/><path d="M464.8 211.2v2" stroke="#777" stroke-width="0.9"/><path d="M581.8 201.9v1.5" stroke="#222" stroke-width="0.7"/><path d="M527.4 186.6v3" stroke="#888" stroke-width="0.9"/><path d="M605.8 252.4v10" stroke="#333" stroke-width="1"/><path d="M504.2 229.6v4" stroke="#555" stroke-width="0.7"/><path d="M589.9 240.5v3" stroke="#555" stroke-width="1.6"/><path d="M615.1 290.4v2" stroke="#000" stroke-width="1"/><path d="M426.8 196.6v2" stroke="#222" stroke-width="1.3"/><path d="M468.2 162.5v2" stroke="#888" stroke-width="1"/><path d="M426.9 167.1v10" stroke="#000" stroke-width="1"/><path d="M573.3 287.5v1.5" stroke="#777" stroke-width="1"/><path d="M499.4 166.1v3" stroke="#888" stroke-width="1"/><path d="M561.1 238.2v5" stroke="#222" stroke-width="2.2"/><path d="M617.2 304v7" stroke="#555" stroke-width="0.7"/><path d="M432.1 209.2v3" stroke="#888" stroke-width="1.6"/><path d="M626.5 166.8v2" stroke="#333" stroke-width="2.2"/><path d="M524.6 281.4v5" stroke="#777" stroke-width="0.7"/><path d="M423.9 172.9v4" stroke="#000" stroke-width="0.9"/><path d="M569.8 199.8v2" stroke="#333" stroke-width="2.2"/><path d="M474.8 314.8v7" stroke="#555" stroke-width="0.9"/><path d="M615.5 179.6v10" stroke="#555" stroke-width="1.3"/><path d="M500.1 226.8v3" stroke="#000" stroke-width="2.2"/><path d="M514.6 257.8v3" stroke="#888" stroke-width="1.6"/><path d="M471.9 255.8v5" stroke="#777" stroke-width="0.7"/><path d="M511.5 289.9v1.5" stroke="#222" stroke-width="1"/><path d="M423.9 292.2v1.5" stroke="#000" stroke-width="1"/><path d="M548.6 196.3v3" stroke="#888" stroke-width="0.9"/><path d="M480.2 284.1v2" stroke="#555" stroke-width="0.7"/><path d="M574.5 227v4" stroke="#777" stroke-width="1"/><path d="M441.6 234.7v2" stroke="#333" stroke-width="0.7"/><path d="M591.7 233.7v4" stroke="#888" stroke-width="0.9"/><path d="M424.7 231.2v2" stroke="#777" stroke-width="2.2"/><path d="M595.5 270.2v3" stroke="#333" stroke-width="2.2"/><path d="M610.9 232.9v3" stroke="#222" stroke-width="2.2"/><path d="M618.7 292.9v7" stroke="#000" stroke-width="1"/><path d="M422.9 206.4v2" stroke="#333" stroke-width="0.9"/><path d="M590 310.1v10" stroke="#333" stroke-width="1.6"/><path d="M444.8 263.3v2" stroke="#888" stroke-width="1"/><path d="M619.8 280.2v4" stroke="#222" stroke-width="1.3"/><path d="M615.5 226.9v1.5" stroke="#000" stroke-width="1"/><path d="M523.6 317.6v1.5" stroke="#555" stroke-width="1"/><path d="M622.1 297.1v7" stroke="#333" stroke-width="0.7"/><path d="M498.2 185.9v4" stroke="#555" stroke-width="0.7"/><path d="M594.7 255.5v10" stroke="#333" stroke-width="1.6"/><path d="M415.4 213.2v4" stroke="#222" stroke-width="1.3"/><path d="M582 248v5" stroke="#222" stroke-width="1"/><path d="M596.5 240.4v10" stroke="#333" stroke-width="1.6"/><path d="M420.9 189.9v3" stroke="#555" stroke-width="1"/><path d="M540.8 279.8v2" stroke="#777" stroke-width="1.3"/><path d="M494 176.3v10" stroke="#333" stroke-width="1"/><path d="M587.9 251.6v4" stroke="#000" stroke-width="1.6"/><path d="M515.2 189.3v2" stroke="#000" stroke-width="0.9"/><path d="M609.8 302.7v2" stroke="#777" stroke-width="1.6"/><path d="M464.7 207.2v2" stroke="#777" stroke-width="1.3"/><path d="M596.3 188.8v7" stroke="#888" stroke-width="2.2"/><path d="M421.2 210v2" stroke="#000" stroke-width="1"/><path d="M423.8 315.4v3" stroke="#555" stroke-width="1.3"/><path d="M513.6 193.2v4" stroke="#888" stroke-width="1"/><path d="M433.6 167.5v7" stroke="#777" stroke-width="1"/><path d="M623.9 199.9v3" stroke="#555" stroke-width="2.2"/><path d="M606.4 247.9v5" stroke="#222" stroke-width="1"/><path d="M550.3 189.1v10" stroke="#555" stroke-width="2.2"/><path d="M418.2 189.6v10" stroke="#777" stroke-width="0.7"/><path d="M431.1 180.2v2" stroke="#888" stroke-width="0.9"/><path d="M425.1 209.2v5" stroke="#222" stroke-width="1"/><path d="M604.3 209v10" stroke="#777" stroke-width="0.7"/><path d="M413.7 193.4v10" stroke="#888" stroke-width="1.3"/><path d="M557.1 174.7v3" stroke="#777" stroke-width="1"/><path d="M511.7 300.9v2" stroke="#555" stroke-width="1.3"/><path d="M444 165.1v3" stroke="#222" stroke-width="2.2"/><path d="M423.7 163.7v7" stroke="#000" stroke-width="2.2"/><path d="M452.1 285.9v1.5" stroke="#555" stroke-width="1"/><path d="M615.8 308.5v5" stroke="#000" stroke-width="1.3"/><path d="M406.5 226.5v3" stroke="#222" stroke-width="1"/><path d="M606.2 203.3v2" stroke="#777" stroke-width="2.2"/><path d="M458.1 207.8v10" stroke="#000" stroke-width="2.2"/><path d="M527.7 237v7" stroke="#222" stroke-width="1.3"/><path d="M619.7 312.7v2" stroke="#222" stroke-width="0.7"/><path d="M535.5 311.3v2" stroke="#222" stroke-width="0.7"/><path d="M567 208.3v3" stroke="#888" stroke-width="1.3"/><path d="M404.7 239.4v1.5" stroke="#333" stroke-width="1.6"/></g>
<path d="M396.8 163.5 L399.8 325.2" fill="none" stroke="#000" stroke-width="1.2" stroke-linejoin="round" stroke-linecap="round"/>
<path d="M632.8 160 L632 323" fill="none" stroke="#000" stroke-width="1.2" stroke-linejoin="round" stroke-linecap="round"/>
</svg></body></html>
